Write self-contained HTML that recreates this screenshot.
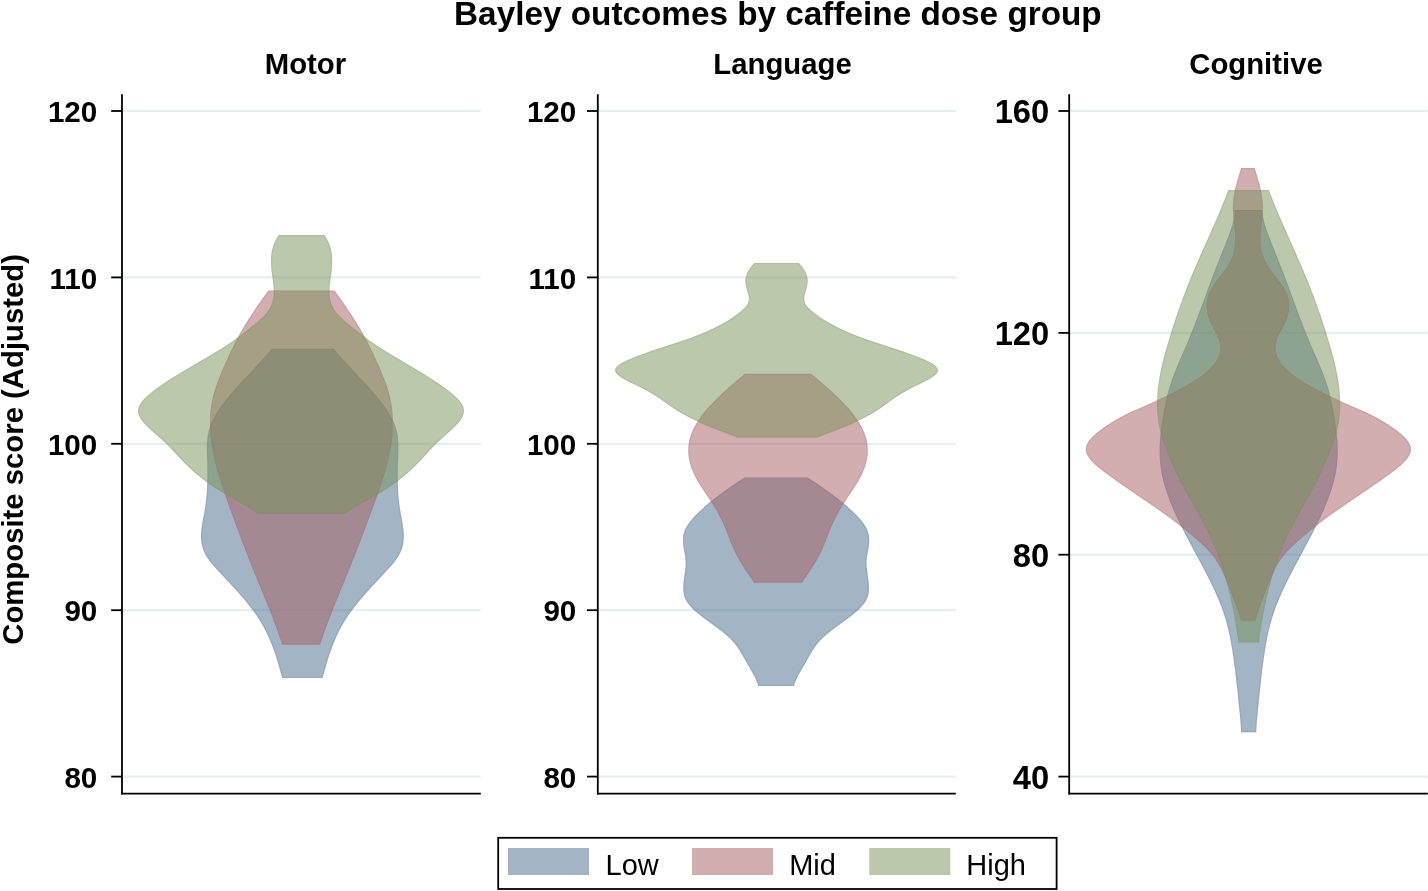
<!DOCTYPE html>
<html lang="en"><head><meta charset="utf-8"><title>Bayley outcomes by caffeine dose group</title>
<style>html,body{margin:0;padding:0;background:#fff}body{width:1428px;height:891px;overflow:hidden}svg{display:block}</style>
</head><body>
<svg width="1428" height="891" viewBox="0 0 1428 891">
<rect width="1428" height="891" fill="#fff"/>
<text x="777.9" y="25" text-anchor="middle" font-family="Liberation Sans, Arial, Helvetica, sans-serif" font-weight="bold" font-size="33.3">Bayley outcomes by caffeine dose group</text>
<text transform="translate(22.6,449.4) rotate(-90)" text-anchor="middle" font-family="Liberation Sans, Arial, Helvetica, sans-serif" font-weight="bold" font-size="29.3">Composite score (Adjusted)</text>
<line x1="122.0" y1="111.0" x2="480.8" y2="111.0" stroke="#e6eff1" stroke-width="2.2"/>
<line x1="122.0" y1="277.4" x2="480.8" y2="277.4" stroke="#e6eff1" stroke-width="2.2"/>
<line x1="122.0" y1="443.8" x2="480.8" y2="443.8" stroke="#e6eff1" stroke-width="2.2"/>
<line x1="122.0" y1="610.2" x2="480.8" y2="610.2" stroke="#e6eff1" stroke-width="2.2"/>
<line x1="122.0" y1="776.6" x2="480.8" y2="776.6" stroke="#e6eff1" stroke-width="2.2"/>
<clipPath id="k_m_low"><path d="M271.8 348.7C271.4 349.2 270.1 350.7 269.3 351.7C268.4 352.7 267.5 353.7 266.7 354.7C265.8 355.7 264.9 356.7 264.0 357.7C263.1 358.7 262.2 359.7 261.3 360.7C260.4 361.7 259.5 362.7 258.6 363.7C257.7 364.7 256.8 365.7 255.8 366.7C254.9 367.7 254.0 368.7 253.1 369.7C252.1 370.7 251.2 371.7 250.3 372.7C249.3 373.7 248.4 374.7 247.5 375.7C246.6 376.6 245.6 377.6 244.7 378.6C243.8 379.6 242.9 380.6 241.9 381.6C241.0 382.6 240.1 383.6 239.2 384.6C238.3 385.6 237.4 386.6 236.5 387.6C235.6 388.6 234.7 389.6 233.9 390.6C233.0 391.6 232.1 392.6 231.3 393.6C230.4 394.6 229.6 395.6 228.7 396.6C227.9 397.6 227.1 398.6 226.3 399.6C225.5 400.6 224.7 401.6 224.0 402.6C223.2 403.6 222.5 404.6 221.7 405.6C221.0 406.6 220.3 407.6 219.6 408.6C218.9 409.6 218.3 410.6 217.6 411.6C217.0 412.6 216.4 413.6 215.8 414.6C215.2 415.6 214.6 416.6 214.1 417.6C213.6 418.6 213.0 419.6 212.6 420.6C212.1 421.6 211.6 422.6 211.2 423.6C210.8 424.6 210.4 425.6 210.1 426.6C209.7 427.6 209.4 428.6 209.1 429.6C208.8 430.6 208.6 431.5 208.4 432.5C208.2 433.5 208.0 434.5 207.8 435.5C207.6 436.5 207.5 437.5 207.4 438.5C207.3 439.5 207.2 440.5 207.1 441.5C207.0 442.5 207.0 443.5 207.0 444.5C206.9 445.5 206.9 446.5 206.9 447.5C206.9 448.5 206.9 449.5 206.9 450.5C206.9 451.5 206.9 452.5 207.0 453.5C207.0 454.5 207.0 455.5 207.1 456.5C207.1 457.5 207.1 458.5 207.2 459.5C207.2 460.5 207.2 461.5 207.3 462.5C207.3 463.5 207.3 464.5 207.3 465.5C207.4 466.5 207.4 467.5 207.4 468.5C207.4 469.5 207.4 470.5 207.4 471.5C207.4 472.5 207.4 473.5 207.4 474.5C207.4 475.5 207.4 476.5 207.4 477.5C207.4 478.5 207.4 479.5 207.4 480.5C207.3 481.5 207.3 482.5 207.3 483.5C207.2 484.5 207.2 485.5 207.1 486.4C207.1 487.4 207.0 488.4 207.0 489.4C206.9 490.4 206.8 491.4 206.8 492.4C206.7 493.4 206.6 494.4 206.5 495.4C206.4 496.4 206.4 497.4 206.3 498.4C206.2 499.4 206.0 500.4 205.9 501.4C205.8 502.4 205.7 503.4 205.5 504.4C205.4 505.4 205.3 506.4 205.1 507.4C205.0 508.4 204.8 509.4 204.7 510.4C204.5 511.4 204.3 512.4 204.1 513.4C203.9 514.4 203.8 515.4 203.6 516.4C203.4 517.4 203.2 518.4 203.0 519.4C202.8 520.4 202.6 521.4 202.5 522.4C202.3 523.4 202.1 524.4 202.0 525.4C201.8 526.4 201.7 527.4 201.5 528.4C201.4 529.4 201.3 530.4 201.2 531.4C201.1 532.4 201.1 533.4 201.1 534.4C201.0 535.4 201.0 536.4 201.0 537.4C201.1 538.4 201.1 539.4 201.2 540.4C201.3 541.3 201.4 542.3 201.6 543.3C201.7 544.3 202.0 545.3 202.2 546.3C202.5 547.3 202.8 548.3 203.1 549.3C203.5 550.3 203.8 551.3 204.3 552.3C204.8 553.3 205.3 554.3 205.8 555.3C206.4 556.3 207.0 557.3 207.7 558.3C208.4 559.3 209.1 560.3 209.9 561.3C210.6 562.3 211.4 563.3 212.3 564.3C213.1 565.3 214.0 566.3 214.9 567.3C215.8 568.3 216.7 569.3 217.6 570.3C218.5 571.3 219.4 572.3 220.4 573.3C221.3 574.3 222.2 575.3 223.2 576.3C224.1 577.3 225.1 578.3 226.0 579.3C226.9 580.3 227.9 581.3 228.8 582.3C229.8 583.3 230.7 584.3 231.6 585.3C232.5 586.3 233.5 587.3 234.4 588.3C235.3 589.3 236.2 590.3 237.1 591.3C238.0 592.3 238.9 593.3 239.7 594.3C240.6 595.3 241.5 596.2 242.3 597.2C243.2 598.2 244.0 599.2 244.9 600.2C245.7 601.2 246.5 602.2 247.3 603.2C248.1 604.2 248.9 605.2 249.7 606.2C250.5 607.2 251.3 608.2 252.0 609.2C252.8 610.2 253.5 611.2 254.3 612.2C255.0 613.2 255.7 614.2 256.4 615.2C257.1 616.2 257.7 617.2 258.4 618.2C259.0 619.2 259.7 620.2 260.3 621.2C260.9 622.2 261.5 623.2 262.1 624.2C262.6 625.2 263.2 626.2 263.7 627.2C264.3 628.2 264.8 629.2 265.3 630.2C265.8 631.2 266.3 632.2 266.8 633.2C267.3 634.2 267.8 635.2 268.2 636.2C268.7 637.2 269.1 638.2 269.5 639.2C270.0 640.2 270.4 641.2 270.8 642.2C271.2 643.2 271.6 644.2 272.0 645.2C272.4 646.2 272.7 647.2 273.1 648.2C273.5 649.2 273.8 650.2 274.2 651.1C274.5 652.1 274.9 653.1 275.2 654.1C275.5 655.1 275.8 656.1 276.2 657.1C276.5 658.1 276.8 659.1 277.1 660.1C277.4 661.1 277.7 662.1 278.0 663.1C278.3 664.1 278.6 665.1 278.9 666.1C279.2 667.1 279.4 668.1 279.7 669.1C280.0 670.1 280.3 671.1 280.6 672.1C280.8 673.1 281.1 674.1 281.4 675.1C281.7 676.1 282.1 677.6 282.2 678.1L322.6 678.1C322.7 677.6 323.1 676.1 323.4 675.1C323.7 674.1 324.0 673.1 324.2 672.1C324.5 671.1 324.8 670.1 325.1 669.1C325.4 668.1 325.6 667.1 325.9 666.1C326.2 665.1 326.5 664.1 326.8 663.1C327.1 662.1 327.4 661.1 327.7 660.1C328.0 659.1 328.3 658.1 328.6 657.1C329.0 656.1 329.3 655.1 329.6 654.1C329.9 653.1 330.3 652.1 330.6 651.1C331.0 650.2 331.3 649.2 331.7 648.2C332.1 647.2 332.4 646.2 332.8 645.2C333.2 644.2 333.6 643.2 334.0 642.2C334.4 641.2 334.8 640.2 335.3 639.2C335.7 638.2 336.1 637.2 336.6 636.2C337.0 635.2 337.5 634.2 338.0 633.2C338.5 632.2 339.0 631.2 339.5 630.2C340.0 629.2 340.5 628.2 341.1 627.2C341.6 626.2 342.2 625.2 342.7 624.2C343.3 623.2 343.9 622.2 344.5 621.2C345.1 620.2 345.8 619.2 346.4 618.2C347.1 617.2 347.7 616.2 348.4 615.2C349.1 614.2 349.8 613.2 350.5 612.2C351.3 611.2 352.0 610.2 352.8 609.2C353.5 608.2 354.3 607.2 355.1 606.2C355.9 605.2 356.7 604.2 357.5 603.2C358.3 602.2 359.1 601.2 359.9 600.2C360.8 599.2 361.6 598.2 362.5 597.2C363.3 596.2 364.2 595.3 365.1 594.3C365.9 593.3 366.8 592.3 367.7 591.3C368.6 590.3 369.5 589.3 370.4 588.3C371.3 587.3 372.3 586.3 373.2 585.3C374.1 584.3 375.0 583.3 376.0 582.3C376.9 581.3 377.9 580.3 378.8 579.3C379.7 578.3 380.7 577.3 381.6 576.3C382.6 575.3 383.5 574.3 384.4 573.3C385.4 572.3 386.3 571.3 387.2 570.3C388.1 569.3 389.0 568.3 389.9 567.3C390.8 566.3 391.7 565.3 392.5 564.3C393.4 563.3 394.2 562.3 394.9 561.3C395.7 560.3 396.4 559.3 397.1 558.3C397.8 557.3 398.4 556.3 399.0 555.3C399.5 554.3 400.0 553.3 400.5 552.3C401.0 551.3 401.3 550.3 401.7 549.3C402.0 548.3 402.3 547.3 402.6 546.3C402.8 545.3 403.1 544.3 403.2 543.3C403.4 542.3 403.5 541.3 403.6 540.4C403.7 539.4 403.7 538.4 403.8 537.4C403.8 536.4 403.8 535.4 403.8 534.4C403.7 533.4 403.7 532.4 403.6 531.4C403.5 530.4 403.4 529.4 403.3 528.4C403.1 527.4 403.0 526.4 402.9 525.4C402.7 524.4 402.5 523.4 402.4 522.4C402.2 521.4 402.0 520.4 401.8 519.4C401.7 518.4 401.5 517.4 401.3 516.4C401.1 515.4 400.9 514.4 400.7 513.4C400.6 512.4 400.4 511.4 400.2 510.4C400.1 509.4 399.9 508.4 399.8 507.4C399.6 506.4 399.5 505.4 399.4 504.4C399.2 503.4 399.1 502.4 399.0 501.4C398.9 500.4 398.8 499.4 398.7 498.4C398.6 497.4 398.5 496.4 398.4 495.4C398.4 494.4 398.3 493.4 398.2 492.4C398.1 491.4 398.1 490.4 398.0 489.4C398.0 488.4 397.9 487.4 397.9 486.4C397.9 485.5 397.8 484.5 397.8 483.5C397.8 482.5 397.7 481.5 397.7 480.5C397.7 479.5 397.7 478.5 397.7 477.5C397.7 476.5 397.7 475.5 397.7 474.5C397.7 473.5 397.7 472.5 397.7 471.5C397.7 470.5 397.7 469.5 397.8 468.5C397.8 467.5 397.8 466.5 397.8 465.5C397.9 464.5 397.9 463.5 397.9 462.5C398.0 461.5 398.0 460.5 398.1 459.5C398.1 458.5 398.2 457.5 398.2 456.5C398.2 455.5 398.3 454.5 398.3 453.5C398.3 452.5 398.4 451.5 398.4 450.5C398.4 449.5 398.4 448.5 398.4 447.5C398.4 446.5 398.4 445.5 398.4 444.5C398.3 443.5 398.3 442.5 398.2 441.5C398.2 440.5 398.1 439.5 398.0 438.5C397.9 437.5 397.7 436.5 397.6 435.5C397.4 434.5 397.2 433.5 397.0 432.5C396.8 431.5 396.6 430.6 396.3 429.6C396.0 428.6 395.7 427.6 395.4 426.6C395.0 425.6 394.6 424.6 394.2 423.6C393.8 422.6 393.4 421.6 392.9 420.6C392.4 419.6 391.9 418.6 391.4 417.6C390.8 416.6 390.3 415.6 389.7 414.6C389.1 413.6 388.5 412.6 387.9 411.6C387.2 410.6 386.6 409.6 385.9 408.6C385.2 407.6 384.5 406.6 383.8 405.6C383.0 404.6 382.3 403.6 381.5 402.6C380.8 401.6 380.0 400.6 379.2 399.6C378.4 398.6 377.6 397.6 376.8 396.6C375.9 395.6 375.1 394.6 374.2 393.6C373.4 392.6 372.5 391.6 371.6 390.6C370.8 389.6 369.9 388.6 369.0 387.6C368.1 386.6 367.2 385.6 366.3 384.6C365.4 383.6 364.5 382.6 363.6 381.6C362.6 380.6 361.7 379.6 360.8 378.6C359.9 377.6 358.9 376.6 358.0 375.7C357.1 374.7 356.2 373.7 355.2 372.7C354.3 371.7 353.4 370.7 352.4 369.7C351.5 368.7 350.6 367.7 349.7 366.7C348.7 365.7 347.8 364.7 346.9 363.7C346.0 362.7 345.1 361.7 344.2 360.7C343.3 359.7 342.4 358.7 341.5 357.7C340.6 356.7 339.7 355.7 338.8 354.7C338.0 353.7 337.1 352.7 336.2 351.7C335.4 350.7 334.1 349.2 333.7 348.7Z"/></clipPath>
<path d="M271.8 348.7C271.4 349.2 270.1 350.7 269.3 351.7C268.4 352.7 267.5 353.7 266.7 354.7C265.8 355.7 264.9 356.7 264.0 357.7C263.1 358.7 262.2 359.7 261.3 360.7C260.4 361.7 259.5 362.7 258.6 363.7C257.7 364.7 256.8 365.7 255.8 366.7C254.9 367.7 254.0 368.7 253.1 369.7C252.1 370.7 251.2 371.7 250.3 372.7C249.3 373.7 248.4 374.7 247.5 375.7C246.6 376.6 245.6 377.6 244.7 378.6C243.8 379.6 242.9 380.6 241.9 381.6C241.0 382.6 240.1 383.6 239.2 384.6C238.3 385.6 237.4 386.6 236.5 387.6C235.6 388.6 234.7 389.6 233.9 390.6C233.0 391.6 232.1 392.6 231.3 393.6C230.4 394.6 229.6 395.6 228.7 396.6C227.9 397.6 227.1 398.6 226.3 399.6C225.5 400.6 224.7 401.6 224.0 402.6C223.2 403.6 222.5 404.6 221.7 405.6C221.0 406.6 220.3 407.6 219.6 408.6C218.9 409.6 218.3 410.6 217.6 411.6C217.0 412.6 216.4 413.6 215.8 414.6C215.2 415.6 214.6 416.6 214.1 417.6C213.6 418.6 213.0 419.6 212.6 420.6C212.1 421.6 211.6 422.6 211.2 423.6C210.8 424.6 210.4 425.6 210.1 426.6C209.7 427.6 209.4 428.6 209.1 429.6C208.8 430.6 208.6 431.5 208.4 432.5C208.2 433.5 208.0 434.5 207.8 435.5C207.6 436.5 207.5 437.5 207.4 438.5C207.3 439.5 207.2 440.5 207.1 441.5C207.0 442.5 207.0 443.5 207.0 444.5C206.9 445.5 206.9 446.5 206.9 447.5C206.9 448.5 206.9 449.5 206.9 450.5C206.9 451.5 206.9 452.5 207.0 453.5C207.0 454.5 207.0 455.5 207.1 456.5C207.1 457.5 207.1 458.5 207.2 459.5C207.2 460.5 207.2 461.5 207.3 462.5C207.3 463.5 207.3 464.5 207.3 465.5C207.4 466.5 207.4 467.5 207.4 468.5C207.4 469.5 207.4 470.5 207.4 471.5C207.4 472.5 207.4 473.5 207.4 474.5C207.4 475.5 207.4 476.5 207.4 477.5C207.4 478.5 207.4 479.5 207.4 480.5C207.3 481.5 207.3 482.5 207.3 483.5C207.2 484.5 207.2 485.5 207.1 486.4C207.1 487.4 207.0 488.4 207.0 489.4C206.9 490.4 206.8 491.4 206.8 492.4C206.7 493.4 206.6 494.4 206.5 495.4C206.4 496.4 206.4 497.4 206.3 498.4C206.2 499.4 206.0 500.4 205.9 501.4C205.8 502.4 205.7 503.4 205.5 504.4C205.4 505.4 205.3 506.4 205.1 507.4C205.0 508.4 204.8 509.4 204.7 510.4C204.5 511.4 204.3 512.4 204.1 513.4C203.9 514.4 203.8 515.4 203.6 516.4C203.4 517.4 203.2 518.4 203.0 519.4C202.8 520.4 202.6 521.4 202.5 522.4C202.3 523.4 202.1 524.4 202.0 525.4C201.8 526.4 201.7 527.4 201.5 528.4C201.4 529.4 201.3 530.4 201.2 531.4C201.1 532.4 201.1 533.4 201.1 534.4C201.0 535.4 201.0 536.4 201.0 537.4C201.1 538.4 201.1 539.4 201.2 540.4C201.3 541.3 201.4 542.3 201.6 543.3C201.7 544.3 202.0 545.3 202.2 546.3C202.5 547.3 202.8 548.3 203.1 549.3C203.5 550.3 203.8 551.3 204.3 552.3C204.8 553.3 205.3 554.3 205.8 555.3C206.4 556.3 207.0 557.3 207.7 558.3C208.4 559.3 209.1 560.3 209.9 561.3C210.6 562.3 211.4 563.3 212.3 564.3C213.1 565.3 214.0 566.3 214.9 567.3C215.8 568.3 216.7 569.3 217.6 570.3C218.5 571.3 219.4 572.3 220.4 573.3C221.3 574.3 222.2 575.3 223.2 576.3C224.1 577.3 225.1 578.3 226.0 579.3C226.9 580.3 227.9 581.3 228.8 582.3C229.8 583.3 230.7 584.3 231.6 585.3C232.5 586.3 233.5 587.3 234.4 588.3C235.3 589.3 236.2 590.3 237.1 591.3C238.0 592.3 238.9 593.3 239.7 594.3C240.6 595.3 241.5 596.2 242.3 597.2C243.2 598.2 244.0 599.2 244.9 600.2C245.7 601.2 246.5 602.2 247.3 603.2C248.1 604.2 248.9 605.2 249.7 606.2C250.5 607.2 251.3 608.2 252.0 609.2C252.8 610.2 253.5 611.2 254.3 612.2C255.0 613.2 255.7 614.2 256.4 615.2C257.1 616.2 257.7 617.2 258.4 618.2C259.0 619.2 259.7 620.2 260.3 621.2C260.9 622.2 261.5 623.2 262.1 624.2C262.6 625.2 263.2 626.2 263.7 627.2C264.3 628.2 264.8 629.2 265.3 630.2C265.8 631.2 266.3 632.2 266.8 633.2C267.3 634.2 267.8 635.2 268.2 636.2C268.7 637.2 269.1 638.2 269.5 639.2C270.0 640.2 270.4 641.2 270.8 642.2C271.2 643.2 271.6 644.2 272.0 645.2C272.4 646.2 272.7 647.2 273.1 648.2C273.5 649.2 273.8 650.2 274.2 651.1C274.5 652.1 274.9 653.1 275.2 654.1C275.5 655.1 275.8 656.1 276.2 657.1C276.5 658.1 276.8 659.1 277.1 660.1C277.4 661.1 277.7 662.1 278.0 663.1C278.3 664.1 278.6 665.1 278.9 666.1C279.2 667.1 279.4 668.1 279.7 669.1C280.0 670.1 280.3 671.1 280.6 672.1C280.8 673.1 281.1 674.1 281.4 675.1C281.7 676.1 282.1 677.6 282.2 678.1L322.6 678.1C322.7 677.6 323.1 676.1 323.4 675.1C323.7 674.1 324.0 673.1 324.2 672.1C324.5 671.1 324.8 670.1 325.1 669.1C325.4 668.1 325.6 667.1 325.9 666.1C326.2 665.1 326.5 664.1 326.8 663.1C327.1 662.1 327.4 661.1 327.7 660.1C328.0 659.1 328.3 658.1 328.6 657.1C329.0 656.1 329.3 655.1 329.6 654.1C329.9 653.1 330.3 652.1 330.6 651.1C331.0 650.2 331.3 649.2 331.7 648.2C332.1 647.2 332.4 646.2 332.8 645.2C333.2 644.2 333.6 643.2 334.0 642.2C334.4 641.2 334.8 640.2 335.3 639.2C335.7 638.2 336.1 637.2 336.6 636.2C337.0 635.2 337.5 634.2 338.0 633.2C338.5 632.2 339.0 631.2 339.5 630.2C340.0 629.2 340.5 628.2 341.1 627.2C341.6 626.2 342.2 625.2 342.7 624.2C343.3 623.2 343.9 622.2 344.5 621.2C345.1 620.2 345.8 619.2 346.4 618.2C347.1 617.2 347.7 616.2 348.4 615.2C349.1 614.2 349.8 613.2 350.5 612.2C351.3 611.2 352.0 610.2 352.8 609.2C353.5 608.2 354.3 607.2 355.1 606.2C355.9 605.2 356.7 604.2 357.5 603.2C358.3 602.2 359.1 601.2 359.9 600.2C360.8 599.2 361.6 598.2 362.5 597.2C363.3 596.2 364.2 595.3 365.1 594.3C365.9 593.3 366.8 592.3 367.7 591.3C368.6 590.3 369.5 589.3 370.4 588.3C371.3 587.3 372.3 586.3 373.2 585.3C374.1 584.3 375.0 583.3 376.0 582.3C376.9 581.3 377.9 580.3 378.8 579.3C379.7 578.3 380.7 577.3 381.6 576.3C382.6 575.3 383.5 574.3 384.4 573.3C385.4 572.3 386.3 571.3 387.2 570.3C388.1 569.3 389.0 568.3 389.9 567.3C390.8 566.3 391.7 565.3 392.5 564.3C393.4 563.3 394.2 562.3 394.9 561.3C395.7 560.3 396.4 559.3 397.1 558.3C397.8 557.3 398.4 556.3 399.0 555.3C399.5 554.3 400.0 553.3 400.5 552.3C401.0 551.3 401.3 550.3 401.7 549.3C402.0 548.3 402.3 547.3 402.6 546.3C402.8 545.3 403.1 544.3 403.2 543.3C403.4 542.3 403.5 541.3 403.6 540.4C403.7 539.4 403.7 538.4 403.8 537.4C403.8 536.4 403.8 535.4 403.8 534.4C403.7 533.4 403.7 532.4 403.6 531.4C403.5 530.4 403.4 529.4 403.3 528.4C403.1 527.4 403.0 526.4 402.9 525.4C402.7 524.4 402.5 523.4 402.4 522.4C402.2 521.4 402.0 520.4 401.8 519.4C401.7 518.4 401.5 517.4 401.3 516.4C401.1 515.4 400.9 514.4 400.7 513.4C400.6 512.4 400.4 511.4 400.2 510.4C400.1 509.4 399.9 508.4 399.8 507.4C399.6 506.4 399.5 505.4 399.4 504.4C399.2 503.4 399.1 502.4 399.0 501.4C398.9 500.4 398.8 499.4 398.7 498.4C398.6 497.4 398.5 496.4 398.4 495.4C398.4 494.4 398.3 493.4 398.2 492.4C398.1 491.4 398.1 490.4 398.0 489.4C398.0 488.4 397.9 487.4 397.9 486.4C397.9 485.5 397.8 484.5 397.8 483.5C397.8 482.5 397.7 481.5 397.7 480.5C397.7 479.5 397.7 478.5 397.7 477.5C397.7 476.5 397.7 475.5 397.7 474.5C397.7 473.5 397.7 472.5 397.7 471.5C397.7 470.5 397.7 469.5 397.8 468.5C397.8 467.5 397.8 466.5 397.8 465.5C397.9 464.5 397.9 463.5 397.9 462.5C398.0 461.5 398.0 460.5 398.1 459.5C398.1 458.5 398.2 457.5 398.2 456.5C398.2 455.5 398.3 454.5 398.3 453.5C398.3 452.5 398.4 451.5 398.4 450.5C398.4 449.5 398.4 448.5 398.4 447.5C398.4 446.5 398.4 445.5 398.4 444.5C398.3 443.5 398.3 442.5 398.2 441.5C398.2 440.5 398.1 439.5 398.0 438.5C397.9 437.5 397.7 436.5 397.6 435.5C397.4 434.5 397.2 433.5 397.0 432.5C396.8 431.5 396.6 430.6 396.3 429.6C396.0 428.6 395.7 427.6 395.4 426.6C395.0 425.6 394.6 424.6 394.2 423.6C393.8 422.6 393.4 421.6 392.9 420.6C392.4 419.6 391.9 418.6 391.4 417.6C390.8 416.6 390.3 415.6 389.7 414.6C389.1 413.6 388.5 412.6 387.9 411.6C387.2 410.6 386.6 409.6 385.9 408.6C385.2 407.6 384.5 406.6 383.8 405.6C383.0 404.6 382.3 403.6 381.5 402.6C380.8 401.6 380.0 400.6 379.2 399.6C378.4 398.6 377.6 397.6 376.8 396.6C375.9 395.6 375.1 394.6 374.2 393.6C373.4 392.6 372.5 391.6 371.6 390.6C370.8 389.6 369.9 388.6 369.0 387.6C368.1 386.6 367.2 385.6 366.3 384.6C365.4 383.6 364.5 382.6 363.6 381.6C362.6 380.6 361.7 379.6 360.8 378.6C359.9 377.6 358.9 376.6 358.0 375.7C357.1 374.7 356.2 373.7 355.2 372.7C354.3 371.7 353.4 370.7 352.4 369.7C351.5 368.7 350.6 367.7 349.7 366.7C348.7 365.7 347.8 364.7 346.9 363.7C346.0 362.7 345.1 361.7 344.2 360.7C343.3 359.7 342.4 358.7 341.5 357.7C340.6 356.7 339.7 355.7 338.8 354.7C338.0 353.7 337.1 352.7 336.2 351.7C335.4 350.7 334.1 349.2 333.7 348.7Z" fill="#486c8c" fill-opacity="0.5"/>
<path d="M271.8 348.7C271.4 349.2 270.1 350.7 269.3 351.7C268.4 352.7 267.5 353.7 266.7 354.7C265.8 355.7 264.9 356.7 264.0 357.7C263.1 358.7 262.2 359.7 261.3 360.7C260.4 361.7 259.5 362.7 258.6 363.7C257.7 364.7 256.8 365.7 255.8 366.7C254.9 367.7 254.0 368.7 253.1 369.7C252.1 370.7 251.2 371.7 250.3 372.7C249.3 373.7 248.4 374.7 247.5 375.7C246.6 376.6 245.6 377.6 244.7 378.6C243.8 379.6 242.9 380.6 241.9 381.6C241.0 382.6 240.1 383.6 239.2 384.6C238.3 385.6 237.4 386.6 236.5 387.6C235.6 388.6 234.7 389.6 233.9 390.6C233.0 391.6 232.1 392.6 231.3 393.6C230.4 394.6 229.6 395.6 228.7 396.6C227.9 397.6 227.1 398.6 226.3 399.6C225.5 400.6 224.7 401.6 224.0 402.6C223.2 403.6 222.5 404.6 221.7 405.6C221.0 406.6 220.3 407.6 219.6 408.6C218.9 409.6 218.3 410.6 217.6 411.6C217.0 412.6 216.4 413.6 215.8 414.6C215.2 415.6 214.6 416.6 214.1 417.6C213.6 418.6 213.0 419.6 212.6 420.6C212.1 421.6 211.6 422.6 211.2 423.6C210.8 424.6 210.4 425.6 210.1 426.6C209.7 427.6 209.4 428.6 209.1 429.6C208.8 430.6 208.6 431.5 208.4 432.5C208.2 433.5 208.0 434.5 207.8 435.5C207.6 436.5 207.5 437.5 207.4 438.5C207.3 439.5 207.2 440.5 207.1 441.5C207.0 442.5 207.0 443.5 207.0 444.5C206.9 445.5 206.9 446.5 206.9 447.5C206.9 448.5 206.9 449.5 206.9 450.5C206.9 451.5 206.9 452.5 207.0 453.5C207.0 454.5 207.0 455.5 207.1 456.5C207.1 457.5 207.1 458.5 207.2 459.5C207.2 460.5 207.2 461.5 207.3 462.5C207.3 463.5 207.3 464.5 207.3 465.5C207.4 466.5 207.4 467.5 207.4 468.5C207.4 469.5 207.4 470.5 207.4 471.5C207.4 472.5 207.4 473.5 207.4 474.5C207.4 475.5 207.4 476.5 207.4 477.5C207.4 478.5 207.4 479.5 207.4 480.5C207.3 481.5 207.3 482.5 207.3 483.5C207.2 484.5 207.2 485.5 207.1 486.4C207.1 487.4 207.0 488.4 207.0 489.4C206.9 490.4 206.8 491.4 206.8 492.4C206.7 493.4 206.6 494.4 206.5 495.4C206.4 496.4 206.4 497.4 206.3 498.4C206.2 499.4 206.0 500.4 205.9 501.4C205.8 502.4 205.7 503.4 205.5 504.4C205.4 505.4 205.3 506.4 205.1 507.4C205.0 508.4 204.8 509.4 204.7 510.4C204.5 511.4 204.3 512.4 204.1 513.4C203.9 514.4 203.8 515.4 203.6 516.4C203.4 517.4 203.2 518.4 203.0 519.4C202.8 520.4 202.6 521.4 202.5 522.4C202.3 523.4 202.1 524.4 202.0 525.4C201.8 526.4 201.7 527.4 201.5 528.4C201.4 529.4 201.3 530.4 201.2 531.4C201.1 532.4 201.1 533.4 201.1 534.4C201.0 535.4 201.0 536.4 201.0 537.4C201.1 538.4 201.1 539.4 201.2 540.4C201.3 541.3 201.4 542.3 201.6 543.3C201.7 544.3 202.0 545.3 202.2 546.3C202.5 547.3 202.8 548.3 203.1 549.3C203.5 550.3 203.8 551.3 204.3 552.3C204.8 553.3 205.3 554.3 205.8 555.3C206.4 556.3 207.0 557.3 207.7 558.3C208.4 559.3 209.1 560.3 209.9 561.3C210.6 562.3 211.4 563.3 212.3 564.3C213.1 565.3 214.0 566.3 214.9 567.3C215.8 568.3 216.7 569.3 217.6 570.3C218.5 571.3 219.4 572.3 220.4 573.3C221.3 574.3 222.2 575.3 223.2 576.3C224.1 577.3 225.1 578.3 226.0 579.3C226.9 580.3 227.9 581.3 228.8 582.3C229.8 583.3 230.7 584.3 231.6 585.3C232.5 586.3 233.5 587.3 234.4 588.3C235.3 589.3 236.2 590.3 237.1 591.3C238.0 592.3 238.9 593.3 239.7 594.3C240.6 595.3 241.5 596.2 242.3 597.2C243.2 598.2 244.0 599.2 244.9 600.2C245.7 601.2 246.5 602.2 247.3 603.2C248.1 604.2 248.9 605.2 249.7 606.2C250.5 607.2 251.3 608.2 252.0 609.2C252.8 610.2 253.5 611.2 254.3 612.2C255.0 613.2 255.7 614.2 256.4 615.2C257.1 616.2 257.7 617.2 258.4 618.2C259.0 619.2 259.7 620.2 260.3 621.2C260.9 622.2 261.5 623.2 262.1 624.2C262.6 625.2 263.2 626.2 263.7 627.2C264.3 628.2 264.8 629.2 265.3 630.2C265.8 631.2 266.3 632.2 266.8 633.2C267.3 634.2 267.8 635.2 268.2 636.2C268.7 637.2 269.1 638.2 269.5 639.2C270.0 640.2 270.4 641.2 270.8 642.2C271.2 643.2 271.6 644.2 272.0 645.2C272.4 646.2 272.7 647.2 273.1 648.2C273.5 649.2 273.8 650.2 274.2 651.1C274.5 652.1 274.9 653.1 275.2 654.1C275.5 655.1 275.8 656.1 276.2 657.1C276.5 658.1 276.8 659.1 277.1 660.1C277.4 661.1 277.7 662.1 278.0 663.1C278.3 664.1 278.6 665.1 278.9 666.1C279.2 667.1 279.4 668.1 279.7 669.1C280.0 670.1 280.3 671.1 280.6 672.1C280.8 673.1 281.1 674.1 281.4 675.1C281.7 676.1 282.1 677.6 282.2 678.1L322.6 678.1C322.7 677.6 323.1 676.1 323.4 675.1C323.7 674.1 324.0 673.1 324.2 672.1C324.5 671.1 324.8 670.1 325.1 669.1C325.4 668.1 325.6 667.1 325.9 666.1C326.2 665.1 326.5 664.1 326.8 663.1C327.1 662.1 327.4 661.1 327.7 660.1C328.0 659.1 328.3 658.1 328.6 657.1C329.0 656.1 329.3 655.1 329.6 654.1C329.9 653.1 330.3 652.1 330.6 651.1C331.0 650.2 331.3 649.2 331.7 648.2C332.1 647.2 332.4 646.2 332.8 645.2C333.2 644.2 333.6 643.2 334.0 642.2C334.4 641.2 334.8 640.2 335.3 639.2C335.7 638.2 336.1 637.2 336.6 636.2C337.0 635.2 337.5 634.2 338.0 633.2C338.5 632.2 339.0 631.2 339.5 630.2C340.0 629.2 340.5 628.2 341.1 627.2C341.6 626.2 342.2 625.2 342.7 624.2C343.3 623.2 343.9 622.2 344.5 621.2C345.1 620.2 345.8 619.2 346.4 618.2C347.1 617.2 347.7 616.2 348.4 615.2C349.1 614.2 349.8 613.2 350.5 612.2C351.3 611.2 352.0 610.2 352.8 609.2C353.5 608.2 354.3 607.2 355.1 606.2C355.9 605.2 356.7 604.2 357.5 603.2C358.3 602.2 359.1 601.2 359.9 600.2C360.8 599.2 361.6 598.2 362.5 597.2C363.3 596.2 364.2 595.3 365.1 594.3C365.9 593.3 366.8 592.3 367.7 591.3C368.6 590.3 369.5 589.3 370.4 588.3C371.3 587.3 372.3 586.3 373.2 585.3C374.1 584.3 375.0 583.3 376.0 582.3C376.9 581.3 377.9 580.3 378.8 579.3C379.7 578.3 380.7 577.3 381.6 576.3C382.6 575.3 383.5 574.3 384.4 573.3C385.4 572.3 386.3 571.3 387.2 570.3C388.1 569.3 389.0 568.3 389.9 567.3C390.8 566.3 391.7 565.3 392.5 564.3C393.4 563.3 394.2 562.3 394.9 561.3C395.7 560.3 396.4 559.3 397.1 558.3C397.8 557.3 398.4 556.3 399.0 555.3C399.5 554.3 400.0 553.3 400.5 552.3C401.0 551.3 401.3 550.3 401.7 549.3C402.0 548.3 402.3 547.3 402.6 546.3C402.8 545.3 403.1 544.3 403.2 543.3C403.4 542.3 403.5 541.3 403.6 540.4C403.7 539.4 403.7 538.4 403.8 537.4C403.8 536.4 403.8 535.4 403.8 534.4C403.7 533.4 403.7 532.4 403.6 531.4C403.5 530.4 403.4 529.4 403.3 528.4C403.1 527.4 403.0 526.4 402.9 525.4C402.7 524.4 402.5 523.4 402.4 522.4C402.2 521.4 402.0 520.4 401.8 519.4C401.7 518.4 401.5 517.4 401.3 516.4C401.1 515.4 400.9 514.4 400.7 513.4C400.6 512.4 400.4 511.4 400.2 510.4C400.1 509.4 399.9 508.4 399.8 507.4C399.6 506.4 399.5 505.4 399.4 504.4C399.2 503.4 399.1 502.4 399.0 501.4C398.9 500.4 398.8 499.4 398.7 498.4C398.6 497.4 398.5 496.4 398.4 495.4C398.4 494.4 398.3 493.4 398.2 492.4C398.1 491.4 398.1 490.4 398.0 489.4C398.0 488.4 397.9 487.4 397.9 486.4C397.9 485.5 397.8 484.5 397.8 483.5C397.8 482.5 397.7 481.5 397.7 480.5C397.7 479.5 397.7 478.5 397.7 477.5C397.7 476.5 397.7 475.5 397.7 474.5C397.7 473.5 397.7 472.5 397.7 471.5C397.7 470.5 397.7 469.5 397.8 468.5C397.8 467.5 397.8 466.5 397.8 465.5C397.9 464.5 397.9 463.5 397.9 462.5C398.0 461.5 398.0 460.5 398.1 459.5C398.1 458.5 398.2 457.5 398.2 456.5C398.2 455.5 398.3 454.5 398.3 453.5C398.3 452.5 398.4 451.5 398.4 450.5C398.4 449.5 398.4 448.5 398.4 447.5C398.4 446.5 398.4 445.5 398.4 444.5C398.3 443.5 398.3 442.5 398.2 441.5C398.2 440.5 398.1 439.5 398.0 438.5C397.9 437.5 397.7 436.5 397.6 435.5C397.4 434.5 397.2 433.5 397.0 432.5C396.8 431.5 396.6 430.6 396.3 429.6C396.0 428.6 395.7 427.6 395.4 426.6C395.0 425.6 394.6 424.6 394.2 423.6C393.8 422.6 393.4 421.6 392.9 420.6C392.4 419.6 391.9 418.6 391.4 417.6C390.8 416.6 390.3 415.6 389.7 414.6C389.1 413.6 388.5 412.6 387.9 411.6C387.2 410.6 386.6 409.6 385.9 408.6C385.2 407.6 384.5 406.6 383.8 405.6C383.0 404.6 382.3 403.6 381.5 402.6C380.8 401.6 380.0 400.6 379.2 399.6C378.4 398.6 377.6 397.6 376.8 396.6C375.9 395.6 375.1 394.6 374.2 393.6C373.4 392.6 372.5 391.6 371.6 390.6C370.8 389.6 369.9 388.6 369.0 387.6C368.1 386.6 367.2 385.6 366.3 384.6C365.4 383.6 364.5 382.6 363.6 381.6C362.6 380.6 361.7 379.6 360.8 378.6C359.9 377.6 358.9 376.6 358.0 375.7C357.1 374.7 356.2 373.7 355.2 372.7C354.3 371.7 353.4 370.7 352.4 369.7C351.5 368.7 350.6 367.7 349.7 366.7C348.7 365.7 347.8 364.7 346.9 363.7C346.0 362.7 345.1 361.7 344.2 360.7C343.3 359.7 342.4 358.7 341.5 357.7C340.6 356.7 339.7 355.7 338.8 354.7C338.0 353.7 337.1 352.7 336.2 351.7C335.4 350.7 334.1 349.2 333.7 348.7Z" fill="none" stroke="#486c8c" stroke-opacity="0.16" stroke-width="2.4" clip-path="url(#k_m_low)"/>
<clipPath id="k_m_mid"><path d="M268.3 290.5C268.0 291.0 266.9 292.5 266.2 293.5C265.4 294.5 264.7 295.5 264.0 296.5C263.3 297.5 262.6 298.5 261.9 299.5C261.2 300.5 260.5 301.5 259.8 302.5C259.1 303.5 258.4 304.5 257.7 305.5C257.0 306.5 256.3 307.5 255.6 308.5C255.0 309.5 254.3 310.5 253.6 311.5C253.0 312.5 252.3 313.5 251.6 314.5C251.0 315.5 250.3 316.5 249.7 317.5C249.1 318.5 248.4 319.5 247.8 320.5C247.2 321.5 246.6 322.5 245.9 323.5C245.3 324.5 244.7 325.5 244.1 326.5C243.5 327.5 242.9 328.5 242.3 329.5C241.8 330.5 241.2 331.5 240.6 332.5C240.0 333.5 239.5 334.5 238.9 335.5C238.4 336.5 237.8 337.5 237.3 338.5C236.7 339.5 236.2 340.5 235.7 341.5C235.2 342.5 234.7 343.5 234.2 344.5C233.7 345.5 233.2 346.5 232.7 347.5C232.2 348.5 231.7 349.5 231.2 350.5C230.7 351.5 230.3 352.5 229.8 353.5C229.3 354.5 228.8 355.5 228.4 356.5C227.9 357.5 227.5 358.5 227.0 359.5C226.6 360.5 226.1 361.5 225.7 362.5C225.2 363.5 224.8 364.5 224.3 365.5C223.9 366.5 223.4 367.5 223.0 368.5C222.6 369.5 222.1 370.5 221.7 371.5C221.3 372.5 220.9 373.5 220.5 374.5C220.1 375.5 219.7 376.5 219.3 377.5C218.9 378.5 218.5 379.6 218.1 380.6C217.7 381.6 217.3 382.6 217.0 383.6C216.6 384.6 216.3 385.6 215.9 386.6C215.6 387.6 215.3 388.6 215.0 389.6C214.7 390.6 214.4 391.6 214.1 392.6C213.8 393.6 213.5 394.6 213.3 395.6C213.0 396.6 212.8 397.6 212.6 398.6C212.4 399.6 212.2 400.6 212.0 401.6C211.8 402.6 211.6 403.6 211.4 404.6C211.3 405.6 211.1 406.6 211.0 407.6C210.8 408.6 210.7 409.6 210.6 410.6C210.5 411.6 210.4 412.6 210.3 413.6C210.3 414.6 210.2 415.6 210.1 416.6C210.1 417.6 210.0 418.6 210.0 419.6C210.0 420.6 210.0 421.6 210.0 422.6C210.0 423.6 210.0 424.6 210.0 425.6C210.0 426.6 210.0 427.6 210.1 428.6C210.1 429.6 210.2 430.6 210.2 431.6C210.3 432.6 210.4 433.6 210.4 434.6C210.5 435.6 210.6 436.6 210.7 437.6C210.8 438.6 210.9 439.6 211.1 440.6C211.2 441.6 211.3 442.6 211.5 443.6C211.6 444.6 211.8 445.6 211.9 446.6C212.1 447.6 212.3 448.6 212.4 449.6C212.6 450.6 212.8 451.6 213.0 452.6C213.2 453.6 213.4 454.6 213.6 455.6C213.8 456.6 214.1 457.6 214.3 458.6C214.5 459.6 214.7 460.6 215.0 461.6C215.2 462.6 215.5 463.6 215.7 464.6C216.0 465.6 216.2 466.6 216.5 467.6C216.8 468.6 217.1 469.6 217.3 470.6C217.6 471.6 217.9 472.6 218.2 473.6C218.5 474.6 218.8 475.6 219.1 476.6C219.4 477.6 219.7 478.6 220.0 479.6C220.3 480.6 220.6 481.6 220.9 482.6C221.3 483.6 221.6 484.6 221.9 485.6C222.2 486.6 222.6 487.6 222.9 488.6C223.2 489.6 223.6 490.6 223.9 491.6C224.3 492.6 224.6 493.6 224.9 494.6C225.3 495.6 225.6 496.6 226.0 497.6C226.3 498.6 226.7 499.6 227.0 500.6C227.4 501.6 227.8 502.6 228.1 503.6C228.5 504.6 228.8 505.6 229.2 506.6C229.6 507.6 229.9 508.6 230.3 509.6C230.6 510.6 231.0 511.6 231.4 512.6C231.7 513.6 232.1 514.6 232.5 515.6C232.8 516.6 233.2 517.6 233.6 518.6C233.9 519.6 234.3 520.6 234.6 521.6C235.0 522.6 235.4 523.6 235.7 524.6C236.1 525.6 236.5 526.6 236.9 527.6C237.2 528.6 237.6 529.6 238.0 530.6C238.3 531.6 238.7 532.6 239.1 533.6C239.5 534.6 239.8 535.6 240.2 536.6C240.6 537.6 241.0 538.6 241.3 539.6C241.7 540.6 242.1 541.6 242.5 542.6C242.8 543.6 243.2 544.6 243.6 545.6C244.0 546.6 244.4 547.6 244.8 548.6C245.2 549.6 245.5 550.6 245.9 551.6C246.3 552.6 246.7 553.6 247.1 554.6C247.5 555.6 247.9 556.7 248.3 557.7C248.7 558.7 249.1 559.7 249.5 560.7C249.9 561.7 250.3 562.7 250.7 563.7C251.1 564.7 251.5 565.7 251.9 566.7C252.3 567.7 252.7 568.7 253.1 569.7C253.5 570.7 253.9 571.7 254.3 572.7C254.8 573.7 255.2 574.7 255.6 575.7C256.0 576.7 256.4 577.7 256.8 578.7C257.2 579.7 257.6 580.7 258.0 581.7C258.5 582.7 258.9 583.7 259.3 584.7C259.7 585.7 260.1 586.7 260.5 587.7C260.9 588.7 261.4 589.7 261.8 590.7C262.2 591.7 262.6 592.7 263.0 593.7C263.4 594.7 263.8 595.7 264.2 596.7C264.6 597.7 265.0 598.7 265.5 599.7C265.9 600.7 266.3 601.7 266.7 602.7C267.1 603.7 267.5 604.7 267.9 605.7C268.3 606.7 268.7 607.7 269.1 608.7C269.5 609.7 269.9 610.7 270.3 611.7C270.7 612.7 271.1 613.7 271.4 614.7C271.8 615.7 272.2 616.7 272.6 617.7C273.0 618.7 273.4 619.7 273.7 620.7C274.1 621.7 274.5 622.7 274.9 623.7C275.3 624.7 275.6 625.7 276.0 626.7C276.4 627.7 276.7 628.7 277.1 629.7C277.4 630.7 277.8 631.7 278.2 632.7C278.5 633.7 278.9 634.7 279.2 635.7C279.5 636.7 279.9 637.7 280.2 638.7C280.6 639.7 280.9 640.7 281.2 641.7C281.6 642.7 282.0 644.2 282.2 644.7L320.1 644.7C320.3 644.2 320.7 642.7 321.1 641.7C321.4 640.7 321.7 639.7 322.1 638.7C322.4 637.7 322.8 636.7 323.1 635.7C323.4 634.7 323.8 633.7 324.1 632.7C324.5 631.7 324.9 630.7 325.2 629.7C325.6 628.7 325.9 627.7 326.3 626.7C326.7 625.7 327.0 624.7 327.4 623.7C327.8 622.7 328.2 621.7 328.6 620.7C328.9 619.7 329.3 618.7 329.7 617.7C330.1 616.7 330.5 615.7 330.9 614.7C331.2 613.7 331.6 612.7 332.0 611.7C332.4 610.7 332.8 609.7 333.2 608.7C333.6 607.7 334.0 606.7 334.4 605.7C334.8 604.7 335.2 603.7 335.6 602.7C336.0 601.7 336.4 600.7 336.8 599.7C337.3 598.7 337.7 597.7 338.1 596.7C338.5 595.7 338.9 594.7 339.3 593.7C339.7 592.7 340.1 591.7 340.5 590.7C340.9 589.7 341.4 588.7 341.8 587.7C342.2 586.7 342.6 585.7 343.0 584.7C343.4 583.7 343.8 582.7 344.3 581.7C344.7 580.7 345.1 579.7 345.5 578.7C345.9 577.7 346.3 576.7 346.7 575.7C347.1 574.7 347.5 573.7 348.0 572.7C348.4 571.7 348.8 570.7 349.2 569.7C349.6 568.7 350.0 567.7 350.4 566.7C350.8 565.7 351.2 564.7 351.6 563.7C352.0 562.7 352.4 561.7 352.8 560.7C353.2 559.7 353.6 558.7 354.0 557.7C354.4 556.7 354.8 555.6 355.2 554.6C355.6 553.6 356.0 552.6 356.4 551.6C356.8 550.6 357.1 549.6 357.5 548.6C357.9 547.6 358.3 546.6 358.7 545.6C359.1 544.6 359.5 543.6 359.8 542.6C360.2 541.6 360.6 540.6 361.0 539.6C361.4 538.6 361.7 537.6 362.1 536.6C362.5 535.6 362.9 534.6 363.3 533.6C363.6 532.6 364.0 531.6 364.4 530.6C364.8 529.6 365.1 528.6 365.5 527.6C365.9 526.6 366.3 525.6 366.6 524.6C367.0 523.6 367.4 522.6 367.8 521.6C368.1 520.6 368.5 519.6 368.9 518.6C369.3 517.6 369.6 516.6 370.0 515.6C370.4 514.6 370.7 513.6 371.1 512.6C371.5 511.6 371.9 510.6 372.2 509.6C372.6 508.6 373.0 507.6 373.3 506.6C373.7 505.6 374.1 504.6 374.4 503.6C374.8 502.6 375.2 501.6 375.5 500.6C375.9 499.6 376.3 498.6 376.6 497.6C377.0 496.6 377.3 495.6 377.7 494.6C378.1 493.6 378.4 492.6 378.8 491.6C379.1 490.6 379.5 489.6 379.8 488.6C380.1 487.6 380.5 486.6 380.8 485.6C381.2 484.6 381.5 483.6 381.8 482.6C382.1 481.6 382.5 480.6 382.8 479.6C383.1 478.6 383.4 477.6 383.7 476.6C384.0 475.6 384.3 474.6 384.6 473.6C384.9 472.6 385.2 471.6 385.5 470.6C385.8 469.6 386.1 468.6 386.3 467.6C386.6 466.6 386.9 465.6 387.1 464.6C387.4 463.6 387.7 462.6 387.9 461.6C388.1 460.6 388.4 459.6 388.6 458.6C388.8 457.6 389.1 456.6 389.3 455.6C389.5 454.6 389.7 453.6 389.9 452.6C390.1 451.6 390.3 450.6 390.5 449.6C390.6 448.6 390.8 447.6 391.0 446.6C391.1 445.6 391.3 444.6 391.4 443.6C391.6 442.6 391.7 441.6 391.8 440.6C392.0 439.6 392.1 438.6 392.2 437.6C392.3 436.6 392.4 435.6 392.5 434.6C392.5 433.6 392.6 432.6 392.7 431.6C392.7 430.6 392.8 429.6 392.8 428.6C392.9 427.6 392.9 426.6 392.9 425.6C392.9 424.6 392.9 423.6 392.9 422.6C392.9 421.6 392.9 420.6 392.9 419.6C392.9 418.6 392.8 417.6 392.8 416.6C392.7 415.6 392.6 414.6 392.6 413.6C392.5 412.6 392.4 411.6 392.3 410.6C392.2 409.6 392.1 408.6 391.9 407.6C391.8 406.6 391.6 405.6 391.5 404.6C391.3 403.6 391.1 402.6 390.9 401.6C390.7 400.6 390.5 399.6 390.3 398.6C390.1 397.6 389.9 396.6 389.6 395.6C389.4 394.6 389.1 393.6 388.8 392.6C388.5 391.6 388.2 390.6 387.9 389.6C387.6 388.6 387.3 387.6 387.0 386.6C386.6 385.6 386.3 384.6 385.9 383.6C385.6 382.6 385.2 381.6 384.8 380.6C384.4 379.6 384.0 378.5 383.6 377.5C383.2 376.5 382.8 375.5 382.4 374.5C382.0 373.5 381.6 372.5 381.2 371.5C380.8 370.5 380.3 369.5 379.9 368.5C379.5 367.5 379.0 366.5 378.6 365.5C378.1 364.5 377.7 363.5 377.2 362.5C376.8 361.5 376.3 360.5 375.9 359.5C375.4 358.5 375.0 357.5 374.5 356.5C374.1 355.5 373.6 354.5 373.1 353.5C372.6 352.5 372.2 351.5 371.7 350.5C371.2 349.5 370.7 348.5 370.2 347.5C369.7 346.5 369.2 345.5 368.7 344.5C368.2 343.5 367.7 342.5 367.2 341.5C366.7 340.5 366.2 339.5 365.6 338.5C365.1 337.5 364.5 336.5 364.0 335.5C363.4 334.5 362.9 333.5 362.3 332.5C361.7 331.5 361.1 330.5 360.6 329.5C360.0 328.5 359.4 327.5 358.8 326.5C358.2 325.5 357.6 324.5 357.0 323.5C356.3 322.5 355.7 321.5 355.1 320.5C354.5 319.5 353.8 318.5 353.2 317.5C352.6 316.5 351.9 315.5 351.3 314.5C350.6 313.5 349.9 312.5 349.3 311.5C348.6 310.5 347.9 309.5 347.3 308.5C346.6 307.5 345.9 306.5 345.2 305.5C344.5 304.5 343.8 303.5 343.1 302.5C342.4 301.5 341.7 300.5 341.0 299.5C340.3 298.5 339.6 297.5 338.9 296.5C338.2 295.5 337.5 294.5 336.7 293.5C336.0 292.5 334.9 291.0 334.6 290.5Z"/></clipPath>
<path d="M268.3 290.5C268.0 291.0 266.9 292.5 266.2 293.5C265.4 294.5 264.7 295.5 264.0 296.5C263.3 297.5 262.6 298.5 261.9 299.5C261.2 300.5 260.5 301.5 259.8 302.5C259.1 303.5 258.4 304.5 257.7 305.5C257.0 306.5 256.3 307.5 255.6 308.5C255.0 309.5 254.3 310.5 253.6 311.5C253.0 312.5 252.3 313.5 251.6 314.5C251.0 315.5 250.3 316.5 249.7 317.5C249.1 318.5 248.4 319.5 247.8 320.5C247.2 321.5 246.6 322.5 245.9 323.5C245.3 324.5 244.7 325.5 244.1 326.5C243.5 327.5 242.9 328.5 242.3 329.5C241.8 330.5 241.2 331.5 240.6 332.5C240.0 333.5 239.5 334.5 238.9 335.5C238.4 336.5 237.8 337.5 237.3 338.5C236.7 339.5 236.2 340.5 235.7 341.5C235.2 342.5 234.7 343.5 234.2 344.5C233.7 345.5 233.2 346.5 232.7 347.5C232.2 348.5 231.7 349.5 231.2 350.5C230.7 351.5 230.3 352.5 229.8 353.5C229.3 354.5 228.8 355.5 228.4 356.5C227.9 357.5 227.5 358.5 227.0 359.5C226.6 360.5 226.1 361.5 225.7 362.5C225.2 363.5 224.8 364.5 224.3 365.5C223.9 366.5 223.4 367.5 223.0 368.5C222.6 369.5 222.1 370.5 221.7 371.5C221.3 372.5 220.9 373.5 220.5 374.5C220.1 375.5 219.7 376.5 219.3 377.5C218.9 378.5 218.5 379.6 218.1 380.6C217.7 381.6 217.3 382.6 217.0 383.6C216.6 384.6 216.3 385.6 215.9 386.6C215.6 387.6 215.3 388.6 215.0 389.6C214.7 390.6 214.4 391.6 214.1 392.6C213.8 393.6 213.5 394.6 213.3 395.6C213.0 396.6 212.8 397.6 212.6 398.6C212.4 399.6 212.2 400.6 212.0 401.6C211.8 402.6 211.6 403.6 211.4 404.6C211.3 405.6 211.1 406.6 211.0 407.6C210.8 408.6 210.7 409.6 210.6 410.6C210.5 411.6 210.4 412.6 210.3 413.6C210.3 414.6 210.2 415.6 210.1 416.6C210.1 417.6 210.0 418.6 210.0 419.6C210.0 420.6 210.0 421.6 210.0 422.6C210.0 423.6 210.0 424.6 210.0 425.6C210.0 426.6 210.0 427.6 210.1 428.6C210.1 429.6 210.2 430.6 210.2 431.6C210.3 432.6 210.4 433.6 210.4 434.6C210.5 435.6 210.6 436.6 210.7 437.6C210.8 438.6 210.9 439.6 211.1 440.6C211.2 441.6 211.3 442.6 211.5 443.6C211.6 444.6 211.8 445.6 211.9 446.6C212.1 447.6 212.3 448.6 212.4 449.6C212.6 450.6 212.8 451.6 213.0 452.6C213.2 453.6 213.4 454.6 213.6 455.6C213.8 456.6 214.1 457.6 214.3 458.6C214.5 459.6 214.7 460.6 215.0 461.6C215.2 462.6 215.5 463.6 215.7 464.6C216.0 465.6 216.2 466.6 216.5 467.6C216.8 468.6 217.1 469.6 217.3 470.6C217.6 471.6 217.9 472.6 218.2 473.6C218.5 474.6 218.8 475.6 219.1 476.6C219.4 477.6 219.7 478.6 220.0 479.6C220.3 480.6 220.6 481.6 220.9 482.6C221.3 483.6 221.6 484.6 221.9 485.6C222.2 486.6 222.6 487.6 222.9 488.6C223.2 489.6 223.6 490.6 223.9 491.6C224.3 492.6 224.6 493.6 224.9 494.6C225.3 495.6 225.6 496.6 226.0 497.6C226.3 498.6 226.7 499.6 227.0 500.6C227.4 501.6 227.8 502.6 228.1 503.6C228.5 504.6 228.8 505.6 229.2 506.6C229.6 507.6 229.9 508.6 230.3 509.6C230.6 510.6 231.0 511.6 231.4 512.6C231.7 513.6 232.1 514.6 232.5 515.6C232.8 516.6 233.2 517.6 233.6 518.6C233.9 519.6 234.3 520.6 234.6 521.6C235.0 522.6 235.4 523.6 235.7 524.6C236.1 525.6 236.5 526.6 236.9 527.6C237.2 528.6 237.6 529.6 238.0 530.6C238.3 531.6 238.7 532.6 239.1 533.6C239.5 534.6 239.8 535.6 240.2 536.6C240.6 537.6 241.0 538.6 241.3 539.6C241.7 540.6 242.1 541.6 242.5 542.6C242.8 543.6 243.2 544.6 243.6 545.6C244.0 546.6 244.4 547.6 244.8 548.6C245.2 549.6 245.5 550.6 245.9 551.6C246.3 552.6 246.7 553.6 247.1 554.6C247.5 555.6 247.9 556.7 248.3 557.7C248.7 558.7 249.1 559.7 249.5 560.7C249.9 561.7 250.3 562.7 250.7 563.7C251.1 564.7 251.5 565.7 251.9 566.7C252.3 567.7 252.7 568.7 253.1 569.7C253.5 570.7 253.9 571.7 254.3 572.7C254.8 573.7 255.2 574.7 255.6 575.7C256.0 576.7 256.4 577.7 256.8 578.7C257.2 579.7 257.6 580.7 258.0 581.7C258.5 582.7 258.9 583.7 259.3 584.7C259.7 585.7 260.1 586.7 260.5 587.7C260.9 588.7 261.4 589.7 261.8 590.7C262.2 591.7 262.6 592.7 263.0 593.7C263.4 594.7 263.8 595.7 264.2 596.7C264.6 597.7 265.0 598.7 265.5 599.7C265.9 600.7 266.3 601.7 266.7 602.7C267.1 603.7 267.5 604.7 267.9 605.7C268.3 606.7 268.7 607.7 269.1 608.7C269.5 609.7 269.9 610.7 270.3 611.7C270.7 612.7 271.1 613.7 271.4 614.7C271.8 615.7 272.2 616.7 272.6 617.7C273.0 618.7 273.4 619.7 273.7 620.7C274.1 621.7 274.5 622.7 274.9 623.7C275.3 624.7 275.6 625.7 276.0 626.7C276.4 627.7 276.7 628.7 277.1 629.7C277.4 630.7 277.8 631.7 278.2 632.7C278.5 633.7 278.9 634.7 279.2 635.7C279.5 636.7 279.9 637.7 280.2 638.7C280.6 639.7 280.9 640.7 281.2 641.7C281.6 642.7 282.0 644.2 282.2 644.7L320.1 644.7C320.3 644.2 320.7 642.7 321.1 641.7C321.4 640.7 321.7 639.7 322.1 638.7C322.4 637.7 322.8 636.7 323.1 635.7C323.4 634.7 323.8 633.7 324.1 632.7C324.5 631.7 324.9 630.7 325.2 629.7C325.6 628.7 325.9 627.7 326.3 626.7C326.7 625.7 327.0 624.7 327.4 623.7C327.8 622.7 328.2 621.7 328.6 620.7C328.9 619.7 329.3 618.7 329.7 617.7C330.1 616.7 330.5 615.7 330.9 614.7C331.2 613.7 331.6 612.7 332.0 611.7C332.4 610.7 332.8 609.7 333.2 608.7C333.6 607.7 334.0 606.7 334.4 605.7C334.8 604.7 335.2 603.7 335.6 602.7C336.0 601.7 336.4 600.7 336.8 599.7C337.3 598.7 337.7 597.7 338.1 596.7C338.5 595.7 338.9 594.7 339.3 593.7C339.7 592.7 340.1 591.7 340.5 590.7C340.9 589.7 341.4 588.7 341.8 587.7C342.2 586.7 342.6 585.7 343.0 584.7C343.4 583.7 343.8 582.7 344.3 581.7C344.7 580.7 345.1 579.7 345.5 578.7C345.9 577.7 346.3 576.7 346.7 575.7C347.1 574.7 347.5 573.7 348.0 572.7C348.4 571.7 348.8 570.7 349.2 569.7C349.6 568.7 350.0 567.7 350.4 566.7C350.8 565.7 351.2 564.7 351.6 563.7C352.0 562.7 352.4 561.7 352.8 560.7C353.2 559.7 353.6 558.7 354.0 557.7C354.4 556.7 354.8 555.6 355.2 554.6C355.6 553.6 356.0 552.6 356.4 551.6C356.8 550.6 357.1 549.6 357.5 548.6C357.9 547.6 358.3 546.6 358.7 545.6C359.1 544.6 359.5 543.6 359.8 542.6C360.2 541.6 360.6 540.6 361.0 539.6C361.4 538.6 361.7 537.6 362.1 536.6C362.5 535.6 362.9 534.6 363.3 533.6C363.6 532.6 364.0 531.6 364.4 530.6C364.8 529.6 365.1 528.6 365.5 527.6C365.9 526.6 366.3 525.6 366.6 524.6C367.0 523.6 367.4 522.6 367.8 521.6C368.1 520.6 368.5 519.6 368.9 518.6C369.3 517.6 369.6 516.6 370.0 515.6C370.4 514.6 370.7 513.6 371.1 512.6C371.5 511.6 371.9 510.6 372.2 509.6C372.6 508.6 373.0 507.6 373.3 506.6C373.7 505.6 374.1 504.6 374.4 503.6C374.8 502.6 375.2 501.6 375.5 500.6C375.9 499.6 376.3 498.6 376.6 497.6C377.0 496.6 377.3 495.6 377.7 494.6C378.1 493.6 378.4 492.6 378.8 491.6C379.1 490.6 379.5 489.6 379.8 488.6C380.1 487.6 380.5 486.6 380.8 485.6C381.2 484.6 381.5 483.6 381.8 482.6C382.1 481.6 382.5 480.6 382.8 479.6C383.1 478.6 383.4 477.6 383.7 476.6C384.0 475.6 384.3 474.6 384.6 473.6C384.9 472.6 385.2 471.6 385.5 470.6C385.8 469.6 386.1 468.6 386.3 467.6C386.6 466.6 386.9 465.6 387.1 464.6C387.4 463.6 387.7 462.6 387.9 461.6C388.1 460.6 388.4 459.6 388.6 458.6C388.8 457.6 389.1 456.6 389.3 455.6C389.5 454.6 389.7 453.6 389.9 452.6C390.1 451.6 390.3 450.6 390.5 449.6C390.6 448.6 390.8 447.6 391.0 446.6C391.1 445.6 391.3 444.6 391.4 443.6C391.6 442.6 391.7 441.6 391.8 440.6C392.0 439.6 392.1 438.6 392.2 437.6C392.3 436.6 392.4 435.6 392.5 434.6C392.5 433.6 392.6 432.6 392.7 431.6C392.7 430.6 392.8 429.6 392.8 428.6C392.9 427.6 392.9 426.6 392.9 425.6C392.9 424.6 392.9 423.6 392.9 422.6C392.9 421.6 392.9 420.6 392.9 419.6C392.9 418.6 392.8 417.6 392.8 416.6C392.7 415.6 392.6 414.6 392.6 413.6C392.5 412.6 392.4 411.6 392.3 410.6C392.2 409.6 392.1 408.6 391.9 407.6C391.8 406.6 391.6 405.6 391.5 404.6C391.3 403.6 391.1 402.6 390.9 401.6C390.7 400.6 390.5 399.6 390.3 398.6C390.1 397.6 389.9 396.6 389.6 395.6C389.4 394.6 389.1 393.6 388.8 392.6C388.5 391.6 388.2 390.6 387.9 389.6C387.6 388.6 387.3 387.6 387.0 386.6C386.6 385.6 386.3 384.6 385.9 383.6C385.6 382.6 385.2 381.6 384.8 380.6C384.4 379.6 384.0 378.5 383.6 377.5C383.2 376.5 382.8 375.5 382.4 374.5C382.0 373.5 381.6 372.5 381.2 371.5C380.8 370.5 380.3 369.5 379.9 368.5C379.5 367.5 379.0 366.5 378.6 365.5C378.1 364.5 377.7 363.5 377.2 362.5C376.8 361.5 376.3 360.5 375.9 359.5C375.4 358.5 375.0 357.5 374.5 356.5C374.1 355.5 373.6 354.5 373.1 353.5C372.6 352.5 372.2 351.5 371.7 350.5C371.2 349.5 370.7 348.5 370.2 347.5C369.7 346.5 369.2 345.5 368.7 344.5C368.2 343.5 367.7 342.5 367.2 341.5C366.7 340.5 366.2 339.5 365.6 338.5C365.1 337.5 364.5 336.5 364.0 335.5C363.4 334.5 362.9 333.5 362.3 332.5C361.7 331.5 361.1 330.5 360.6 329.5C360.0 328.5 359.4 327.5 358.8 326.5C358.2 325.5 357.6 324.5 357.0 323.5C356.3 322.5 355.7 321.5 355.1 320.5C354.5 319.5 353.8 318.5 353.2 317.5C352.6 316.5 351.9 315.5 351.3 314.5C350.6 313.5 349.9 312.5 349.3 311.5C348.6 310.5 347.9 309.5 347.3 308.5C346.6 307.5 345.9 306.5 345.2 305.5C344.5 304.5 343.8 303.5 343.1 302.5C342.4 301.5 341.7 300.5 341.0 299.5C340.3 298.5 339.6 297.5 338.9 296.5C338.2 295.5 337.5 294.5 336.7 293.5C336.0 292.5 334.9 291.0 334.6 290.5Z" fill="#a65d62" fill-opacity="0.5"/>
<path d="M268.3 290.5C268.0 291.0 266.9 292.5 266.2 293.5C265.4 294.5 264.7 295.5 264.0 296.5C263.3 297.5 262.6 298.5 261.9 299.5C261.2 300.5 260.5 301.5 259.8 302.5C259.1 303.5 258.4 304.5 257.7 305.5C257.0 306.5 256.3 307.5 255.6 308.5C255.0 309.5 254.3 310.5 253.6 311.5C253.0 312.5 252.3 313.5 251.6 314.5C251.0 315.5 250.3 316.5 249.7 317.5C249.1 318.5 248.4 319.5 247.8 320.5C247.2 321.5 246.6 322.5 245.9 323.5C245.3 324.5 244.7 325.5 244.1 326.5C243.5 327.5 242.9 328.5 242.3 329.5C241.8 330.5 241.2 331.5 240.6 332.5C240.0 333.5 239.5 334.5 238.9 335.5C238.4 336.5 237.8 337.5 237.3 338.5C236.7 339.5 236.2 340.5 235.7 341.5C235.2 342.5 234.7 343.5 234.2 344.5C233.7 345.5 233.2 346.5 232.7 347.5C232.2 348.5 231.7 349.5 231.2 350.5C230.7 351.5 230.3 352.5 229.8 353.5C229.3 354.5 228.8 355.5 228.4 356.5C227.9 357.5 227.5 358.5 227.0 359.5C226.6 360.5 226.1 361.5 225.7 362.5C225.2 363.5 224.8 364.5 224.3 365.5C223.9 366.5 223.4 367.5 223.0 368.5C222.6 369.5 222.1 370.5 221.7 371.5C221.3 372.5 220.9 373.5 220.5 374.5C220.1 375.5 219.7 376.5 219.3 377.5C218.9 378.5 218.5 379.6 218.1 380.6C217.7 381.6 217.3 382.6 217.0 383.6C216.6 384.6 216.3 385.6 215.9 386.6C215.6 387.6 215.3 388.6 215.0 389.6C214.7 390.6 214.4 391.6 214.1 392.6C213.8 393.6 213.5 394.6 213.3 395.6C213.0 396.6 212.8 397.6 212.6 398.6C212.4 399.6 212.2 400.6 212.0 401.6C211.8 402.6 211.6 403.6 211.4 404.6C211.3 405.6 211.1 406.6 211.0 407.6C210.8 408.6 210.7 409.6 210.6 410.6C210.5 411.6 210.4 412.6 210.3 413.6C210.3 414.6 210.2 415.6 210.1 416.6C210.1 417.6 210.0 418.6 210.0 419.6C210.0 420.6 210.0 421.6 210.0 422.6C210.0 423.6 210.0 424.6 210.0 425.6C210.0 426.6 210.0 427.6 210.1 428.6C210.1 429.6 210.2 430.6 210.2 431.6C210.3 432.6 210.4 433.6 210.4 434.6C210.5 435.6 210.6 436.6 210.7 437.6C210.8 438.6 210.9 439.6 211.1 440.6C211.2 441.6 211.3 442.6 211.5 443.6C211.6 444.6 211.8 445.6 211.9 446.6C212.1 447.6 212.3 448.6 212.4 449.6C212.6 450.6 212.8 451.6 213.0 452.6C213.2 453.6 213.4 454.6 213.6 455.6C213.8 456.6 214.1 457.6 214.3 458.6C214.5 459.6 214.7 460.6 215.0 461.6C215.2 462.6 215.5 463.6 215.7 464.6C216.0 465.6 216.2 466.6 216.5 467.6C216.8 468.6 217.1 469.6 217.3 470.6C217.6 471.6 217.9 472.6 218.2 473.6C218.5 474.6 218.8 475.6 219.1 476.6C219.4 477.6 219.7 478.6 220.0 479.6C220.3 480.6 220.6 481.6 220.9 482.6C221.3 483.6 221.6 484.6 221.9 485.6C222.2 486.6 222.6 487.6 222.9 488.6C223.2 489.6 223.6 490.6 223.9 491.6C224.3 492.6 224.6 493.6 224.9 494.6C225.3 495.6 225.6 496.6 226.0 497.6C226.3 498.6 226.7 499.6 227.0 500.6C227.4 501.6 227.8 502.6 228.1 503.6C228.5 504.6 228.8 505.6 229.2 506.6C229.6 507.6 229.9 508.6 230.3 509.6C230.6 510.6 231.0 511.6 231.4 512.6C231.7 513.6 232.1 514.6 232.5 515.6C232.8 516.6 233.2 517.6 233.6 518.6C233.9 519.6 234.3 520.6 234.6 521.6C235.0 522.6 235.4 523.6 235.7 524.6C236.1 525.6 236.5 526.6 236.9 527.6C237.2 528.6 237.6 529.6 238.0 530.6C238.3 531.6 238.7 532.6 239.1 533.6C239.5 534.6 239.8 535.6 240.2 536.6C240.6 537.6 241.0 538.6 241.3 539.6C241.7 540.6 242.1 541.6 242.5 542.6C242.8 543.6 243.2 544.6 243.6 545.6C244.0 546.6 244.4 547.6 244.8 548.6C245.2 549.6 245.5 550.6 245.9 551.6C246.3 552.6 246.7 553.6 247.1 554.6C247.5 555.6 247.9 556.7 248.3 557.7C248.7 558.7 249.1 559.7 249.5 560.7C249.9 561.7 250.3 562.7 250.7 563.7C251.1 564.7 251.5 565.7 251.9 566.7C252.3 567.7 252.7 568.7 253.1 569.7C253.5 570.7 253.9 571.7 254.3 572.7C254.8 573.7 255.2 574.7 255.6 575.7C256.0 576.7 256.4 577.7 256.8 578.7C257.2 579.7 257.6 580.7 258.0 581.7C258.5 582.7 258.9 583.7 259.3 584.7C259.7 585.7 260.1 586.7 260.5 587.7C260.9 588.7 261.4 589.7 261.8 590.7C262.2 591.7 262.6 592.7 263.0 593.7C263.4 594.7 263.8 595.7 264.2 596.7C264.6 597.7 265.0 598.7 265.5 599.7C265.9 600.7 266.3 601.7 266.7 602.7C267.1 603.7 267.5 604.7 267.9 605.7C268.3 606.7 268.7 607.7 269.1 608.7C269.5 609.7 269.9 610.7 270.3 611.7C270.7 612.7 271.1 613.7 271.4 614.7C271.8 615.7 272.2 616.7 272.6 617.7C273.0 618.7 273.4 619.7 273.7 620.7C274.1 621.7 274.5 622.7 274.9 623.7C275.3 624.7 275.6 625.7 276.0 626.7C276.4 627.7 276.7 628.7 277.1 629.7C277.4 630.7 277.8 631.7 278.2 632.7C278.5 633.7 278.9 634.7 279.2 635.7C279.5 636.7 279.9 637.7 280.2 638.7C280.6 639.7 280.9 640.7 281.2 641.7C281.6 642.7 282.0 644.2 282.2 644.7L320.1 644.7C320.3 644.2 320.7 642.7 321.1 641.7C321.4 640.7 321.7 639.7 322.1 638.7C322.4 637.7 322.8 636.7 323.1 635.7C323.4 634.7 323.8 633.7 324.1 632.7C324.5 631.7 324.9 630.7 325.2 629.7C325.6 628.7 325.9 627.7 326.3 626.7C326.7 625.7 327.0 624.7 327.4 623.7C327.8 622.7 328.2 621.7 328.6 620.7C328.9 619.7 329.3 618.7 329.7 617.7C330.1 616.7 330.5 615.7 330.9 614.7C331.2 613.7 331.6 612.7 332.0 611.7C332.4 610.7 332.8 609.7 333.2 608.7C333.6 607.7 334.0 606.7 334.4 605.7C334.8 604.7 335.2 603.7 335.6 602.7C336.0 601.7 336.4 600.7 336.8 599.7C337.3 598.7 337.7 597.7 338.1 596.7C338.5 595.7 338.9 594.7 339.3 593.7C339.7 592.7 340.1 591.7 340.5 590.7C340.9 589.7 341.4 588.7 341.8 587.7C342.2 586.7 342.6 585.7 343.0 584.7C343.4 583.7 343.8 582.7 344.3 581.7C344.7 580.7 345.1 579.7 345.5 578.7C345.9 577.7 346.3 576.7 346.7 575.7C347.1 574.7 347.5 573.7 348.0 572.7C348.4 571.7 348.8 570.7 349.2 569.7C349.6 568.7 350.0 567.7 350.4 566.7C350.8 565.7 351.2 564.7 351.6 563.7C352.0 562.7 352.4 561.7 352.8 560.7C353.2 559.7 353.6 558.7 354.0 557.7C354.4 556.7 354.8 555.6 355.2 554.6C355.6 553.6 356.0 552.6 356.4 551.6C356.8 550.6 357.1 549.6 357.5 548.6C357.9 547.6 358.3 546.6 358.7 545.6C359.1 544.6 359.5 543.6 359.8 542.6C360.2 541.6 360.6 540.6 361.0 539.6C361.4 538.6 361.7 537.6 362.1 536.6C362.5 535.6 362.9 534.6 363.3 533.6C363.6 532.6 364.0 531.6 364.4 530.6C364.8 529.6 365.1 528.6 365.5 527.6C365.9 526.6 366.3 525.6 366.6 524.6C367.0 523.6 367.4 522.6 367.8 521.6C368.1 520.6 368.5 519.6 368.9 518.6C369.3 517.6 369.6 516.6 370.0 515.6C370.4 514.6 370.7 513.6 371.1 512.6C371.5 511.6 371.9 510.6 372.2 509.6C372.6 508.6 373.0 507.6 373.3 506.6C373.7 505.6 374.1 504.6 374.4 503.6C374.8 502.6 375.2 501.6 375.5 500.6C375.9 499.6 376.3 498.6 376.6 497.6C377.0 496.6 377.3 495.6 377.7 494.6C378.1 493.6 378.4 492.6 378.8 491.6C379.1 490.6 379.5 489.6 379.8 488.6C380.1 487.6 380.5 486.6 380.8 485.6C381.2 484.6 381.5 483.6 381.8 482.6C382.1 481.6 382.5 480.6 382.8 479.6C383.1 478.6 383.4 477.6 383.7 476.6C384.0 475.6 384.3 474.6 384.6 473.6C384.9 472.6 385.2 471.6 385.5 470.6C385.8 469.6 386.1 468.6 386.3 467.6C386.6 466.6 386.9 465.6 387.1 464.6C387.4 463.6 387.7 462.6 387.9 461.6C388.1 460.6 388.4 459.6 388.6 458.6C388.8 457.6 389.1 456.6 389.3 455.6C389.5 454.6 389.7 453.6 389.9 452.6C390.1 451.6 390.3 450.6 390.5 449.6C390.6 448.6 390.8 447.6 391.0 446.6C391.1 445.6 391.3 444.6 391.4 443.6C391.6 442.6 391.7 441.6 391.8 440.6C392.0 439.6 392.1 438.6 392.2 437.6C392.3 436.6 392.4 435.6 392.5 434.6C392.5 433.6 392.6 432.6 392.7 431.6C392.7 430.6 392.8 429.6 392.8 428.6C392.9 427.6 392.9 426.6 392.9 425.6C392.9 424.6 392.9 423.6 392.9 422.6C392.9 421.6 392.9 420.6 392.9 419.6C392.9 418.6 392.8 417.6 392.8 416.6C392.7 415.6 392.6 414.6 392.6 413.6C392.5 412.6 392.4 411.6 392.3 410.6C392.2 409.6 392.1 408.6 391.9 407.6C391.8 406.6 391.6 405.6 391.5 404.6C391.3 403.6 391.1 402.6 390.9 401.6C390.7 400.6 390.5 399.6 390.3 398.6C390.1 397.6 389.9 396.6 389.6 395.6C389.4 394.6 389.1 393.6 388.8 392.6C388.5 391.6 388.2 390.6 387.9 389.6C387.6 388.6 387.3 387.6 387.0 386.6C386.6 385.6 386.3 384.6 385.9 383.6C385.6 382.6 385.2 381.6 384.8 380.6C384.4 379.6 384.0 378.5 383.6 377.5C383.2 376.5 382.8 375.5 382.4 374.5C382.0 373.5 381.6 372.5 381.2 371.5C380.8 370.5 380.3 369.5 379.9 368.5C379.5 367.5 379.0 366.5 378.6 365.5C378.1 364.5 377.7 363.5 377.2 362.5C376.8 361.5 376.3 360.5 375.9 359.5C375.4 358.5 375.0 357.5 374.5 356.5C374.1 355.5 373.6 354.5 373.1 353.5C372.6 352.5 372.2 351.5 371.7 350.5C371.2 349.5 370.7 348.5 370.2 347.5C369.7 346.5 369.2 345.5 368.7 344.5C368.2 343.5 367.7 342.5 367.2 341.5C366.7 340.5 366.2 339.5 365.6 338.5C365.1 337.5 364.5 336.5 364.0 335.5C363.4 334.5 362.9 333.5 362.3 332.5C361.7 331.5 361.1 330.5 360.6 329.5C360.0 328.5 359.4 327.5 358.8 326.5C358.2 325.5 357.6 324.5 357.0 323.5C356.3 322.5 355.7 321.5 355.1 320.5C354.5 319.5 353.8 318.5 353.2 317.5C352.6 316.5 351.9 315.5 351.3 314.5C350.6 313.5 349.9 312.5 349.3 311.5C348.6 310.5 347.9 309.5 347.3 308.5C346.6 307.5 345.9 306.5 345.2 305.5C344.5 304.5 343.8 303.5 343.1 302.5C342.4 301.5 341.7 300.5 341.0 299.5C340.3 298.5 339.6 297.5 338.9 296.5C338.2 295.5 337.5 294.5 336.7 293.5C336.0 292.5 334.9 291.0 334.6 290.5Z" fill="none" stroke="#a65d62" stroke-opacity="0.16" stroke-width="2.4" clip-path="url(#k_m_mid)"/>
<clipPath id="k_m_high"><path d="M278.8 235.0C278.5 235.5 277.5 237.0 276.9 238.0C276.3 239.0 275.8 240.0 275.3 241.0C274.8 242.0 274.4 243.0 274.0 244.0C273.6 245.0 273.2 246.0 272.9 247.0C272.6 248.0 272.4 249.0 272.1 250.0C271.9 251.0 271.7 252.0 271.6 253.0C271.4 254.0 271.3 255.0 271.2 256.0C271.1 257.0 271.1 258.0 271.1 259.0C271.0 260.0 271.0 261.0 271.0 262.0C271.0 263.0 271.1 264.0 271.1 265.0C271.2 266.0 271.3 267.0 271.3 268.0C271.4 269.0 271.5 270.0 271.6 271.0C271.7 272.0 271.9 273.0 272.0 274.0C272.1 275.0 272.2 276.0 272.4 277.0C272.5 278.0 272.6 279.0 272.8 280.0C272.9 281.0 273.0 282.0 273.1 283.0C273.3 284.0 273.4 285.0 273.5 286.0C273.5 287.0 273.6 288.0 273.7 289.0C273.7 290.0 273.7 291.0 273.7 292.0C273.7 293.0 273.7 294.0 273.6 295.0C273.5 296.0 273.4 297.0 273.3 298.0C273.1 299.0 272.9 300.0 272.6 301.0C272.4 302.0 272.1 303.0 271.7 304.0C271.3 305.0 270.9 306.0 270.4 307.0C269.9 308.0 269.3 309.0 268.7 310.0C268.1 311.0 267.4 312.0 266.6 313.0C265.8 314.0 264.9 315.0 263.9 316.0C263.0 317.0 261.9 318.0 260.8 319.0C259.7 320.0 258.6 321.0 257.4 322.0C256.2 323.0 254.9 324.0 253.7 325.0C252.4 326.0 251.1 327.0 249.8 328.0C248.6 329.0 247.3 330.0 246.0 331.0C244.7 332.0 243.5 333.0 242.2 334.0C240.9 335.0 239.6 336.0 238.3 337.0C237.0 338.0 235.6 339.0 234.2 340.0C232.9 341.0 231.4 342.0 229.9 343.0C228.5 344.0 227.0 345.0 225.4 346.0C223.9 347.0 222.3 348.0 220.7 349.0C219.1 350.0 217.4 351.0 215.8 352.0C214.2 353.0 212.5 354.0 210.8 355.0C209.1 356.0 207.4 357.0 205.7 358.0C204.0 359.0 202.3 360.0 200.6 361.0C198.9 362.0 197.2 363.0 195.5 364.0C193.8 365.0 192.1 366.0 190.4 367.0C188.7 368.0 187.0 369.0 185.3 370.0C183.6 371.0 181.9 372.0 180.3 373.0C178.6 374.0 177.0 374.9 175.4 375.9C173.7 376.9 172.1 377.9 170.6 378.9C169.0 379.9 167.4 380.9 165.9 381.9C164.4 382.9 162.9 383.9 161.5 384.9C160.0 385.9 158.6 386.9 157.2 387.9C155.9 388.9 154.5 389.9 153.2 390.9C152.0 391.9 150.7 392.9 149.5 393.9C148.3 394.9 147.2 395.9 146.1 396.9C145.1 397.9 144.1 398.9 143.2 399.9C142.3 400.9 141.5 401.9 140.8 402.9C140.2 403.9 139.6 404.9 139.1 405.9C138.7 406.9 138.4 407.9 138.2 408.9C138.0 409.9 138.0 410.9 138.1 411.9C138.2 412.9 138.5 413.9 138.8 414.9C139.2 415.9 139.7 416.9 140.3 417.9C140.8 418.9 141.5 419.9 142.3 420.9C143.0 421.9 143.9 422.9 144.8 423.9C145.7 424.9 146.7 425.9 147.7 426.9C148.7 427.9 149.8 428.9 150.9 429.9C152.0 430.9 153.1 431.9 154.3 432.9C155.4 433.9 156.6 434.9 157.7 435.9C158.8 436.9 160.0 437.9 161.1 438.9C162.2 439.9 163.3 440.9 164.4 441.9C165.4 442.9 166.5 443.9 167.5 444.9C168.5 445.9 169.4 446.9 170.4 447.9C171.4 448.9 172.3 449.9 173.2 450.9C174.2 451.9 175.1 452.9 176.0 453.9C176.9 454.9 177.9 455.9 178.8 456.9C179.7 457.9 180.7 458.9 181.7 459.9C182.6 460.9 183.6 461.9 184.6 462.9C185.6 463.9 186.6 464.9 187.6 465.9C188.7 466.9 189.7 467.9 190.8 468.9C191.9 469.9 193.0 470.9 194.1 471.9C195.3 472.9 196.4 473.9 197.6 474.9C198.8 475.9 200.0 476.9 201.3 477.9C202.6 478.9 203.9 479.9 205.2 480.9C206.5 481.9 207.9 482.9 209.3 483.9C210.7 484.9 212.1 485.9 213.6 486.9C215.1 487.9 216.7 488.9 218.2 489.9C219.8 490.9 221.5 491.9 223.1 492.9C224.8 493.9 226.5 494.9 228.3 495.9C230.0 496.9 231.8 497.9 233.6 498.9C235.4 499.9 237.2 500.9 239.0 501.9C240.8 502.9 242.5 503.9 244.2 504.9C246.0 505.9 247.6 506.9 249.2 507.9C250.8 508.9 252.4 509.9 253.8 510.9C255.3 511.9 257.2 513.4 257.9 513.9L345.3 513.9C346.0 513.4 347.9 511.9 349.4 510.9C350.8 509.9 352.4 508.9 354.0 507.9C355.6 506.9 357.2 505.9 359.0 504.9C360.7 503.9 362.4 502.9 364.2 501.9C366.0 500.9 367.8 499.9 369.6 498.9C371.3 497.9 373.1 496.9 374.9 495.9C376.6 494.9 378.4 493.9 380.0 492.9C381.7 491.9 383.3 490.9 384.9 489.9C386.4 488.9 388.0 487.9 389.4 486.9C390.9 485.9 392.4 484.9 393.8 483.9C395.2 482.9 396.5 481.9 397.8 480.9C399.1 479.9 400.4 478.9 401.7 477.9C402.9 476.9 404.1 475.9 405.3 474.9C406.5 473.9 407.6 472.9 408.7 471.9C409.8 470.9 410.9 469.9 412.0 468.9C413.1 467.9 414.1 466.9 415.1 465.9C416.1 464.9 417.1 463.9 418.1 462.9C419.1 461.9 420.0 460.9 421.0 459.9C421.9 458.9 422.9 457.9 423.8 456.9C424.7 455.9 425.6 454.9 426.5 453.9C427.4 452.9 428.3 451.9 429.2 450.9C430.2 449.9 431.1 448.9 432.0 447.9C433.0 446.9 433.9 445.9 434.9 444.9C435.9 443.9 436.9 442.9 437.9 441.9C439.0 440.9 440.1 439.9 441.2 438.9C442.3 437.9 443.4 436.9 444.5 435.9C445.7 434.9 446.8 433.9 447.9 432.9C449.0 431.9 450.2 430.9 451.3 429.9C452.3 428.9 453.4 427.9 454.4 426.9C455.4 425.9 456.4 424.9 457.3 423.9C458.2 422.9 459.0 421.9 459.8 420.9C460.5 419.9 461.2 418.9 461.8 417.9C462.3 416.9 462.8 415.9 463.2 414.9C463.5 413.9 463.8 412.9 463.9 411.9C464.0 410.9 464.0 409.9 463.8 408.9C463.6 407.9 463.3 406.9 462.9 405.9C462.4 404.9 461.9 403.9 461.2 402.9C460.5 401.9 459.7 400.9 458.8 399.9C458.0 398.9 457.0 397.9 455.9 396.9C454.9 395.9 453.8 394.9 452.6 393.9C451.4 392.9 450.2 391.9 448.9 390.9C447.6 389.9 446.3 388.9 444.9 387.9C443.6 386.9 442.2 385.9 440.7 384.9C439.3 383.9 437.8 382.9 436.3 381.9C434.8 380.9 433.3 379.9 431.8 378.9C430.2 377.9 428.6 376.9 427.0 375.9C425.4 374.9 423.8 374.0 422.2 373.0C420.5 372.0 418.9 371.0 417.2 370.0C415.5 369.0 413.9 368.0 412.2 367.0C410.5 366.0 408.8 365.0 407.1 364.0C405.4 363.0 403.7 362.0 402.1 361.0C400.4 360.0 398.7 359.0 397.0 358.0C395.3 357.0 393.6 356.0 392.0 355.0C390.3 354.0 388.7 353.0 387.0 352.0C385.4 351.0 383.8 350.0 382.2 349.0C380.6 348.0 379.1 347.0 377.5 346.0C376.0 345.0 374.5 344.0 373.1 343.0C371.6 342.0 370.2 341.0 368.8 340.0C367.4 339.0 366.1 338.0 364.8 337.0C363.5 336.0 362.2 335.0 360.9 334.0C359.7 333.0 358.4 332.0 357.2 331.0C355.9 330.0 354.6 329.0 353.3 328.0C352.1 327.0 350.8 326.0 349.5 325.0C348.3 324.0 347.0 323.0 345.8 322.0C344.6 321.0 343.5 320.0 342.4 319.0C341.3 318.0 340.2 317.0 339.3 316.0C338.3 315.0 337.4 314.0 336.6 313.0C335.8 312.0 335.1 311.0 334.5 310.0C333.9 309.0 333.3 308.0 332.8 307.0C332.3 306.0 331.9 305.0 331.5 304.0C331.1 303.0 330.8 302.0 330.6 301.0C330.3 300.0 330.1 299.0 329.9 298.0C329.8 297.0 329.7 296.0 329.6 295.0C329.5 294.0 329.5 293.0 329.5 292.0C329.5 291.0 329.5 290.0 329.5 289.0C329.6 288.0 329.7 287.0 329.7 286.0C329.8 285.0 329.9 284.0 330.1 283.0C330.2 282.0 330.3 281.0 330.4 280.0C330.6 279.0 330.7 278.0 330.8 277.0C331.0 276.0 331.1 275.0 331.2 274.0C331.3 273.0 331.5 272.0 331.6 271.0C331.7 270.0 331.8 269.0 331.9 268.0C331.9 267.0 332.0 266.0 332.1 265.0C332.1 264.0 332.2 263.0 332.2 262.0C332.2 261.0 332.2 260.0 332.1 259.0C332.1 258.0 332.1 257.0 332.0 256.0C331.9 255.0 331.8 254.0 331.6 253.0C331.5 252.0 331.3 251.0 331.1 250.0C330.8 249.0 330.6 248.0 330.3 247.0C330.0 246.0 329.6 245.0 329.2 244.0C328.8 243.0 328.4 242.0 327.9 241.0C327.4 240.0 326.9 239.0 326.3 238.0C325.7 237.0 324.7 235.5 324.4 235.0Z"/></clipPath>
<path d="M278.8 235.0C278.5 235.5 277.5 237.0 276.9 238.0C276.3 239.0 275.8 240.0 275.3 241.0C274.8 242.0 274.4 243.0 274.0 244.0C273.6 245.0 273.2 246.0 272.9 247.0C272.6 248.0 272.4 249.0 272.1 250.0C271.9 251.0 271.7 252.0 271.6 253.0C271.4 254.0 271.3 255.0 271.2 256.0C271.1 257.0 271.1 258.0 271.1 259.0C271.0 260.0 271.0 261.0 271.0 262.0C271.0 263.0 271.1 264.0 271.1 265.0C271.2 266.0 271.3 267.0 271.3 268.0C271.4 269.0 271.5 270.0 271.6 271.0C271.7 272.0 271.9 273.0 272.0 274.0C272.1 275.0 272.2 276.0 272.4 277.0C272.5 278.0 272.6 279.0 272.8 280.0C272.9 281.0 273.0 282.0 273.1 283.0C273.3 284.0 273.4 285.0 273.5 286.0C273.5 287.0 273.6 288.0 273.7 289.0C273.7 290.0 273.7 291.0 273.7 292.0C273.7 293.0 273.7 294.0 273.6 295.0C273.5 296.0 273.4 297.0 273.3 298.0C273.1 299.0 272.9 300.0 272.6 301.0C272.4 302.0 272.1 303.0 271.7 304.0C271.3 305.0 270.9 306.0 270.4 307.0C269.9 308.0 269.3 309.0 268.7 310.0C268.1 311.0 267.4 312.0 266.6 313.0C265.8 314.0 264.9 315.0 263.9 316.0C263.0 317.0 261.9 318.0 260.8 319.0C259.7 320.0 258.6 321.0 257.4 322.0C256.2 323.0 254.9 324.0 253.7 325.0C252.4 326.0 251.1 327.0 249.8 328.0C248.6 329.0 247.3 330.0 246.0 331.0C244.7 332.0 243.5 333.0 242.2 334.0C240.9 335.0 239.6 336.0 238.3 337.0C237.0 338.0 235.6 339.0 234.2 340.0C232.9 341.0 231.4 342.0 229.9 343.0C228.5 344.0 227.0 345.0 225.4 346.0C223.9 347.0 222.3 348.0 220.7 349.0C219.1 350.0 217.4 351.0 215.8 352.0C214.2 353.0 212.5 354.0 210.8 355.0C209.1 356.0 207.4 357.0 205.7 358.0C204.0 359.0 202.3 360.0 200.6 361.0C198.9 362.0 197.2 363.0 195.5 364.0C193.8 365.0 192.1 366.0 190.4 367.0C188.7 368.0 187.0 369.0 185.3 370.0C183.6 371.0 181.9 372.0 180.3 373.0C178.6 374.0 177.0 374.9 175.4 375.9C173.7 376.9 172.1 377.9 170.6 378.9C169.0 379.9 167.4 380.9 165.9 381.9C164.4 382.9 162.9 383.9 161.5 384.9C160.0 385.9 158.6 386.9 157.2 387.9C155.9 388.9 154.5 389.9 153.2 390.9C152.0 391.9 150.7 392.9 149.5 393.9C148.3 394.9 147.2 395.9 146.1 396.9C145.1 397.9 144.1 398.9 143.2 399.9C142.3 400.9 141.5 401.9 140.8 402.9C140.2 403.9 139.6 404.9 139.1 405.9C138.7 406.9 138.4 407.9 138.2 408.9C138.0 409.9 138.0 410.9 138.1 411.9C138.2 412.9 138.5 413.9 138.8 414.9C139.2 415.9 139.7 416.9 140.3 417.9C140.8 418.9 141.5 419.9 142.3 420.9C143.0 421.9 143.9 422.9 144.8 423.9C145.7 424.9 146.7 425.9 147.7 426.9C148.7 427.9 149.8 428.9 150.9 429.9C152.0 430.9 153.1 431.9 154.3 432.9C155.4 433.9 156.6 434.9 157.7 435.9C158.8 436.9 160.0 437.9 161.1 438.9C162.2 439.9 163.3 440.9 164.4 441.9C165.4 442.9 166.5 443.9 167.5 444.9C168.5 445.9 169.4 446.9 170.4 447.9C171.4 448.9 172.3 449.9 173.2 450.9C174.2 451.9 175.1 452.9 176.0 453.9C176.9 454.9 177.9 455.9 178.8 456.9C179.7 457.9 180.7 458.9 181.7 459.9C182.6 460.9 183.6 461.9 184.6 462.9C185.6 463.9 186.6 464.9 187.6 465.9C188.7 466.9 189.7 467.9 190.8 468.9C191.9 469.9 193.0 470.9 194.1 471.9C195.3 472.9 196.4 473.9 197.6 474.9C198.8 475.9 200.0 476.9 201.3 477.9C202.6 478.9 203.9 479.9 205.2 480.9C206.5 481.9 207.9 482.9 209.3 483.9C210.7 484.9 212.1 485.9 213.6 486.9C215.1 487.9 216.7 488.9 218.2 489.9C219.8 490.9 221.5 491.9 223.1 492.9C224.8 493.9 226.5 494.9 228.3 495.9C230.0 496.9 231.8 497.9 233.6 498.9C235.4 499.9 237.2 500.9 239.0 501.9C240.8 502.9 242.5 503.9 244.2 504.9C246.0 505.9 247.6 506.9 249.2 507.9C250.8 508.9 252.4 509.9 253.8 510.9C255.3 511.9 257.2 513.4 257.9 513.9L345.3 513.9C346.0 513.4 347.9 511.9 349.4 510.9C350.8 509.9 352.4 508.9 354.0 507.9C355.6 506.9 357.2 505.9 359.0 504.9C360.7 503.9 362.4 502.9 364.2 501.9C366.0 500.9 367.8 499.9 369.6 498.9C371.3 497.9 373.1 496.9 374.9 495.9C376.6 494.9 378.4 493.9 380.0 492.9C381.7 491.9 383.3 490.9 384.9 489.9C386.4 488.9 388.0 487.9 389.4 486.9C390.9 485.9 392.4 484.9 393.8 483.9C395.2 482.9 396.5 481.9 397.8 480.9C399.1 479.9 400.4 478.9 401.7 477.9C402.9 476.9 404.1 475.9 405.3 474.9C406.5 473.9 407.6 472.9 408.7 471.9C409.8 470.9 410.9 469.9 412.0 468.9C413.1 467.9 414.1 466.9 415.1 465.9C416.1 464.9 417.1 463.9 418.1 462.9C419.1 461.9 420.0 460.9 421.0 459.9C421.9 458.9 422.9 457.9 423.8 456.9C424.7 455.9 425.6 454.9 426.5 453.9C427.4 452.9 428.3 451.9 429.2 450.9C430.2 449.9 431.1 448.9 432.0 447.9C433.0 446.9 433.9 445.9 434.9 444.9C435.9 443.9 436.9 442.9 437.9 441.9C439.0 440.9 440.1 439.9 441.2 438.9C442.3 437.9 443.4 436.9 444.5 435.9C445.7 434.9 446.8 433.9 447.9 432.9C449.0 431.9 450.2 430.9 451.3 429.9C452.3 428.9 453.4 427.9 454.4 426.9C455.4 425.9 456.4 424.9 457.3 423.9C458.2 422.9 459.0 421.9 459.8 420.9C460.5 419.9 461.2 418.9 461.8 417.9C462.3 416.9 462.8 415.9 463.2 414.9C463.5 413.9 463.8 412.9 463.9 411.9C464.0 410.9 464.0 409.9 463.8 408.9C463.6 407.9 463.3 406.9 462.9 405.9C462.4 404.9 461.9 403.9 461.2 402.9C460.5 401.9 459.7 400.9 458.8 399.9C458.0 398.9 457.0 397.9 455.9 396.9C454.9 395.9 453.8 394.9 452.6 393.9C451.4 392.9 450.2 391.9 448.9 390.9C447.6 389.9 446.3 388.9 444.9 387.9C443.6 386.9 442.2 385.9 440.7 384.9C439.3 383.9 437.8 382.9 436.3 381.9C434.8 380.9 433.3 379.9 431.8 378.9C430.2 377.9 428.6 376.9 427.0 375.9C425.4 374.9 423.8 374.0 422.2 373.0C420.5 372.0 418.9 371.0 417.2 370.0C415.5 369.0 413.9 368.0 412.2 367.0C410.5 366.0 408.8 365.0 407.1 364.0C405.4 363.0 403.7 362.0 402.1 361.0C400.4 360.0 398.7 359.0 397.0 358.0C395.3 357.0 393.6 356.0 392.0 355.0C390.3 354.0 388.7 353.0 387.0 352.0C385.4 351.0 383.8 350.0 382.2 349.0C380.6 348.0 379.1 347.0 377.5 346.0C376.0 345.0 374.5 344.0 373.1 343.0C371.6 342.0 370.2 341.0 368.8 340.0C367.4 339.0 366.1 338.0 364.8 337.0C363.5 336.0 362.2 335.0 360.9 334.0C359.7 333.0 358.4 332.0 357.2 331.0C355.9 330.0 354.6 329.0 353.3 328.0C352.1 327.0 350.8 326.0 349.5 325.0C348.3 324.0 347.0 323.0 345.8 322.0C344.6 321.0 343.5 320.0 342.4 319.0C341.3 318.0 340.2 317.0 339.3 316.0C338.3 315.0 337.4 314.0 336.6 313.0C335.8 312.0 335.1 311.0 334.5 310.0C333.9 309.0 333.3 308.0 332.8 307.0C332.3 306.0 331.9 305.0 331.5 304.0C331.1 303.0 330.8 302.0 330.6 301.0C330.3 300.0 330.1 299.0 329.9 298.0C329.8 297.0 329.7 296.0 329.6 295.0C329.5 294.0 329.5 293.0 329.5 292.0C329.5 291.0 329.5 290.0 329.5 289.0C329.6 288.0 329.7 287.0 329.7 286.0C329.8 285.0 329.9 284.0 330.1 283.0C330.2 282.0 330.3 281.0 330.4 280.0C330.6 279.0 330.7 278.0 330.8 277.0C331.0 276.0 331.1 275.0 331.2 274.0C331.3 273.0 331.5 272.0 331.6 271.0C331.7 270.0 331.8 269.0 331.9 268.0C331.9 267.0 332.0 266.0 332.1 265.0C332.1 264.0 332.2 263.0 332.2 262.0C332.2 261.0 332.2 260.0 332.1 259.0C332.1 258.0 332.1 257.0 332.0 256.0C331.9 255.0 331.8 254.0 331.6 253.0C331.5 252.0 331.3 251.0 331.1 250.0C330.8 249.0 330.6 248.0 330.3 247.0C330.0 246.0 329.6 245.0 329.2 244.0C328.8 243.0 328.4 242.0 327.9 241.0C327.4 240.0 326.9 239.0 326.3 238.0C325.7 237.0 324.7 235.5 324.4 235.0Z" fill="#779159" fill-opacity="0.5"/>
<path d="M278.8 235.0C278.5 235.5 277.5 237.0 276.9 238.0C276.3 239.0 275.8 240.0 275.3 241.0C274.8 242.0 274.4 243.0 274.0 244.0C273.6 245.0 273.2 246.0 272.9 247.0C272.6 248.0 272.4 249.0 272.1 250.0C271.9 251.0 271.7 252.0 271.6 253.0C271.4 254.0 271.3 255.0 271.2 256.0C271.1 257.0 271.1 258.0 271.1 259.0C271.0 260.0 271.0 261.0 271.0 262.0C271.0 263.0 271.1 264.0 271.1 265.0C271.2 266.0 271.3 267.0 271.3 268.0C271.4 269.0 271.5 270.0 271.6 271.0C271.7 272.0 271.9 273.0 272.0 274.0C272.1 275.0 272.2 276.0 272.4 277.0C272.5 278.0 272.6 279.0 272.8 280.0C272.9 281.0 273.0 282.0 273.1 283.0C273.3 284.0 273.4 285.0 273.5 286.0C273.5 287.0 273.6 288.0 273.7 289.0C273.7 290.0 273.7 291.0 273.7 292.0C273.7 293.0 273.7 294.0 273.6 295.0C273.5 296.0 273.4 297.0 273.3 298.0C273.1 299.0 272.9 300.0 272.6 301.0C272.4 302.0 272.1 303.0 271.7 304.0C271.3 305.0 270.9 306.0 270.4 307.0C269.9 308.0 269.3 309.0 268.7 310.0C268.1 311.0 267.4 312.0 266.6 313.0C265.8 314.0 264.9 315.0 263.9 316.0C263.0 317.0 261.9 318.0 260.8 319.0C259.7 320.0 258.6 321.0 257.4 322.0C256.2 323.0 254.9 324.0 253.7 325.0C252.4 326.0 251.1 327.0 249.8 328.0C248.6 329.0 247.3 330.0 246.0 331.0C244.7 332.0 243.5 333.0 242.2 334.0C240.9 335.0 239.6 336.0 238.3 337.0C237.0 338.0 235.6 339.0 234.2 340.0C232.9 341.0 231.4 342.0 229.9 343.0C228.5 344.0 227.0 345.0 225.4 346.0C223.9 347.0 222.3 348.0 220.7 349.0C219.1 350.0 217.4 351.0 215.8 352.0C214.2 353.0 212.5 354.0 210.8 355.0C209.1 356.0 207.4 357.0 205.7 358.0C204.0 359.0 202.3 360.0 200.6 361.0C198.9 362.0 197.2 363.0 195.5 364.0C193.8 365.0 192.1 366.0 190.4 367.0C188.7 368.0 187.0 369.0 185.3 370.0C183.6 371.0 181.9 372.0 180.3 373.0C178.6 374.0 177.0 374.9 175.4 375.9C173.7 376.9 172.1 377.9 170.6 378.9C169.0 379.9 167.4 380.9 165.9 381.9C164.4 382.9 162.9 383.9 161.5 384.9C160.0 385.9 158.6 386.9 157.2 387.9C155.9 388.9 154.5 389.9 153.2 390.9C152.0 391.9 150.7 392.9 149.5 393.9C148.3 394.9 147.2 395.9 146.1 396.9C145.1 397.9 144.1 398.9 143.2 399.9C142.3 400.9 141.5 401.9 140.8 402.9C140.2 403.9 139.6 404.9 139.1 405.9C138.7 406.9 138.4 407.9 138.2 408.9C138.0 409.9 138.0 410.9 138.1 411.9C138.2 412.9 138.5 413.9 138.8 414.9C139.2 415.9 139.7 416.9 140.3 417.9C140.8 418.9 141.5 419.9 142.3 420.9C143.0 421.9 143.9 422.9 144.8 423.9C145.7 424.9 146.7 425.9 147.7 426.9C148.7 427.9 149.8 428.9 150.9 429.9C152.0 430.9 153.1 431.9 154.3 432.9C155.4 433.9 156.6 434.9 157.7 435.9C158.8 436.9 160.0 437.9 161.1 438.9C162.2 439.9 163.3 440.9 164.4 441.9C165.4 442.9 166.5 443.9 167.5 444.9C168.5 445.9 169.4 446.9 170.4 447.9C171.4 448.9 172.3 449.9 173.2 450.9C174.2 451.9 175.1 452.9 176.0 453.9C176.9 454.9 177.9 455.9 178.8 456.9C179.7 457.9 180.7 458.9 181.7 459.9C182.6 460.9 183.6 461.9 184.6 462.9C185.6 463.9 186.6 464.9 187.6 465.9C188.7 466.9 189.7 467.9 190.8 468.9C191.9 469.9 193.0 470.9 194.1 471.9C195.3 472.9 196.4 473.9 197.6 474.9C198.8 475.9 200.0 476.9 201.3 477.9C202.6 478.9 203.9 479.9 205.2 480.9C206.5 481.9 207.9 482.9 209.3 483.9C210.7 484.9 212.1 485.9 213.6 486.9C215.1 487.9 216.7 488.9 218.2 489.9C219.8 490.9 221.5 491.9 223.1 492.9C224.8 493.9 226.5 494.9 228.3 495.9C230.0 496.9 231.8 497.9 233.6 498.9C235.4 499.9 237.2 500.9 239.0 501.9C240.8 502.9 242.5 503.9 244.2 504.9C246.0 505.9 247.6 506.9 249.2 507.9C250.8 508.9 252.4 509.9 253.8 510.9C255.3 511.9 257.2 513.4 257.9 513.9L345.3 513.9C346.0 513.4 347.9 511.9 349.4 510.9C350.8 509.9 352.4 508.9 354.0 507.9C355.6 506.9 357.2 505.9 359.0 504.9C360.7 503.9 362.4 502.9 364.2 501.9C366.0 500.9 367.8 499.9 369.6 498.9C371.3 497.9 373.1 496.9 374.9 495.9C376.6 494.9 378.4 493.9 380.0 492.9C381.7 491.9 383.3 490.9 384.9 489.9C386.4 488.9 388.0 487.9 389.4 486.9C390.9 485.9 392.4 484.9 393.8 483.9C395.2 482.9 396.5 481.9 397.8 480.9C399.1 479.9 400.4 478.9 401.7 477.9C402.9 476.9 404.1 475.9 405.3 474.9C406.5 473.9 407.6 472.9 408.7 471.9C409.8 470.9 410.9 469.9 412.0 468.9C413.1 467.9 414.1 466.9 415.1 465.9C416.1 464.9 417.1 463.9 418.1 462.9C419.1 461.9 420.0 460.9 421.0 459.9C421.9 458.9 422.9 457.9 423.8 456.9C424.7 455.9 425.6 454.9 426.5 453.9C427.4 452.9 428.3 451.9 429.2 450.9C430.2 449.9 431.1 448.9 432.0 447.9C433.0 446.9 433.9 445.9 434.9 444.9C435.9 443.9 436.9 442.9 437.9 441.9C439.0 440.9 440.1 439.9 441.2 438.9C442.3 437.9 443.4 436.9 444.5 435.9C445.7 434.9 446.8 433.9 447.9 432.9C449.0 431.9 450.2 430.9 451.3 429.9C452.3 428.9 453.4 427.9 454.4 426.9C455.4 425.9 456.4 424.9 457.3 423.9C458.2 422.9 459.0 421.9 459.8 420.9C460.5 419.9 461.2 418.9 461.8 417.9C462.3 416.9 462.8 415.9 463.2 414.9C463.5 413.9 463.8 412.9 463.9 411.9C464.0 410.9 464.0 409.9 463.8 408.9C463.6 407.9 463.3 406.9 462.9 405.9C462.4 404.9 461.9 403.9 461.2 402.9C460.5 401.9 459.7 400.9 458.8 399.9C458.0 398.9 457.0 397.9 455.9 396.9C454.9 395.9 453.8 394.9 452.6 393.9C451.4 392.9 450.2 391.9 448.9 390.9C447.6 389.9 446.3 388.9 444.9 387.9C443.6 386.9 442.2 385.9 440.7 384.9C439.3 383.9 437.8 382.9 436.3 381.9C434.8 380.9 433.3 379.9 431.8 378.9C430.2 377.9 428.6 376.9 427.0 375.9C425.4 374.9 423.8 374.0 422.2 373.0C420.5 372.0 418.9 371.0 417.2 370.0C415.5 369.0 413.9 368.0 412.2 367.0C410.5 366.0 408.8 365.0 407.1 364.0C405.4 363.0 403.7 362.0 402.1 361.0C400.4 360.0 398.7 359.0 397.0 358.0C395.3 357.0 393.6 356.0 392.0 355.0C390.3 354.0 388.7 353.0 387.0 352.0C385.4 351.0 383.8 350.0 382.2 349.0C380.6 348.0 379.1 347.0 377.5 346.0C376.0 345.0 374.5 344.0 373.1 343.0C371.6 342.0 370.2 341.0 368.8 340.0C367.4 339.0 366.1 338.0 364.8 337.0C363.5 336.0 362.2 335.0 360.9 334.0C359.7 333.0 358.4 332.0 357.2 331.0C355.9 330.0 354.6 329.0 353.3 328.0C352.1 327.0 350.8 326.0 349.5 325.0C348.3 324.0 347.0 323.0 345.8 322.0C344.6 321.0 343.5 320.0 342.4 319.0C341.3 318.0 340.2 317.0 339.3 316.0C338.3 315.0 337.4 314.0 336.6 313.0C335.8 312.0 335.1 311.0 334.5 310.0C333.9 309.0 333.3 308.0 332.8 307.0C332.3 306.0 331.9 305.0 331.5 304.0C331.1 303.0 330.8 302.0 330.6 301.0C330.3 300.0 330.1 299.0 329.9 298.0C329.8 297.0 329.7 296.0 329.6 295.0C329.5 294.0 329.5 293.0 329.5 292.0C329.5 291.0 329.5 290.0 329.5 289.0C329.6 288.0 329.7 287.0 329.7 286.0C329.8 285.0 329.9 284.0 330.1 283.0C330.2 282.0 330.3 281.0 330.4 280.0C330.6 279.0 330.7 278.0 330.8 277.0C331.0 276.0 331.1 275.0 331.2 274.0C331.3 273.0 331.5 272.0 331.6 271.0C331.7 270.0 331.8 269.0 331.9 268.0C331.9 267.0 332.0 266.0 332.1 265.0C332.1 264.0 332.2 263.0 332.2 262.0C332.2 261.0 332.2 260.0 332.1 259.0C332.1 258.0 332.1 257.0 332.0 256.0C331.9 255.0 331.8 254.0 331.6 253.0C331.5 252.0 331.3 251.0 331.1 250.0C330.8 249.0 330.6 248.0 330.3 247.0C330.0 246.0 329.6 245.0 329.2 244.0C328.8 243.0 328.4 242.0 327.9 241.0C327.4 240.0 326.9 239.0 326.3 238.0C325.7 237.0 324.7 235.5 324.4 235.0Z" fill="none" stroke="#779159" stroke-opacity="0.16" stroke-width="2.4" clip-path="url(#k_m_high)"/>
<line x1="122.0" y1="94.2" x2="122.0" y2="794.4" stroke="#000" stroke-width="1.8"/>
<line x1="121.25" y1="793.7" x2="480.8" y2="793.7" stroke="#000" stroke-width="1.8"/>
<line x1="111.2" y1="111.0" x2="122.0" y2="111.0" stroke="#000" stroke-width="1.8"/>
<text x="97.3" y="122.1" text-anchor="end" font-family="Liberation Sans, Arial, Helvetica, sans-serif" font-weight="bold" font-size="29.6">120</text>
<line x1="111.2" y1="277.4" x2="122.0" y2="277.4" stroke="#000" stroke-width="1.8"/>
<text x="97.3" y="288.5" text-anchor="end" font-family="Liberation Sans, Arial, Helvetica, sans-serif" font-weight="bold" font-size="29.6">110</text>
<line x1="111.2" y1="443.8" x2="122.0" y2="443.8" stroke="#000" stroke-width="1.8"/>
<text x="97.3" y="454.9" text-anchor="end" font-family="Liberation Sans, Arial, Helvetica, sans-serif" font-weight="bold" font-size="29.6">100</text>
<line x1="111.2" y1="610.2" x2="122.0" y2="610.2" stroke="#000" stroke-width="1.8"/>
<text x="97.3" y="621.3" text-anchor="end" font-family="Liberation Sans, Arial, Helvetica, sans-serif" font-weight="bold" font-size="29.6">90</text>
<line x1="111.2" y1="776.6" x2="122.0" y2="776.6" stroke="#000" stroke-width="1.8"/>
<text x="97.3" y="787.7" text-anchor="end" font-family="Liberation Sans, Arial, Helvetica, sans-serif" font-weight="bold" font-size="29.6">80</text>
<text x="305.5" y="73.8" text-anchor="middle" font-family="Liberation Sans, Arial, Helvetica, sans-serif" font-weight="bold" font-size="29.3">Motor</text>
<line x1="597.8" y1="111.0" x2="955.8" y2="111.0" stroke="#e6eff1" stroke-width="2.2"/>
<line x1="597.8" y1="277.4" x2="955.8" y2="277.4" stroke="#e6eff1" stroke-width="2.2"/>
<line x1="597.8" y1="443.8" x2="955.8" y2="443.8" stroke="#e6eff1" stroke-width="2.2"/>
<line x1="597.8" y1="610.2" x2="955.8" y2="610.2" stroke="#e6eff1" stroke-width="2.2"/>
<line x1="597.8" y1="776.6" x2="955.8" y2="776.6" stroke="#e6eff1" stroke-width="2.2"/>
<clipPath id="k_l_low"><path d="M744.4 477.4C743.6 478.0 741.3 479.5 739.8 480.5C738.3 481.5 736.8 482.5 735.3 483.5C733.8 484.5 732.4 485.5 730.9 486.5C729.5 487.5 728.1 488.5 726.7 489.5C725.2 490.5 723.9 491.5 722.5 492.6C721.1 493.6 719.8 494.6 718.5 495.6C717.1 496.6 715.8 497.6 714.5 498.6C713.3 499.6 712.0 500.6 710.8 501.6C709.5 502.6 708.3 503.6 707.1 504.6C705.9 505.6 704.8 506.7 703.6 507.7C702.5 508.7 701.4 509.7 700.3 510.7C699.2 511.7 698.1 512.7 697.1 513.7C696.1 514.7 695.1 515.7 694.2 516.7C693.3 517.7 692.4 518.7 691.6 519.7C690.7 520.8 689.9 521.8 689.2 522.8C688.5 523.8 687.8 524.8 687.2 525.8C686.6 526.8 686.0 527.8 685.5 528.8C685.1 529.8 684.6 530.8 684.3 531.8C684.0 532.8 683.7 533.8 683.5 534.8C683.3 535.9 683.2 536.9 683.1 537.9C683.0 538.9 683.0 539.9 683.0 540.9C683.0 541.9 683.1 542.9 683.1 543.9C683.2 544.9 683.4 545.9 683.5 546.9C683.7 547.9 683.9 548.9 684.0 550.0C684.2 551.0 684.4 552.0 684.6 553.0C684.8 554.0 685.0 555.0 685.1 556.0C685.3 557.0 685.4 558.0 685.5 559.0C685.6 560.0 685.6 561.0 685.7 562.0C685.7 563.0 685.7 564.1 685.6 565.1C685.6 566.1 685.5 567.1 685.4 568.1C685.3 569.1 685.2 570.1 685.1 571.1C684.9 572.1 684.8 573.1 684.7 574.1C684.5 575.1 684.4 576.1 684.2 577.1C684.1 578.2 683.9 579.2 683.8 580.2C683.7 581.2 683.6 582.2 683.5 583.2C683.4 584.2 683.3 585.2 683.3 586.2C683.2 587.2 683.2 588.2 683.3 589.2C683.3 590.2 683.3 591.2 683.5 592.2C683.6 593.3 683.8 594.3 684.0 595.3C684.3 596.3 684.6 597.3 685.1 598.3C685.5 599.3 686.0 600.3 686.6 601.3C687.2 602.3 687.9 603.3 688.7 604.3C689.6 605.3 690.5 606.3 691.4 607.4C692.4 608.4 693.4 609.4 694.5 610.4C695.6 611.4 696.8 612.4 698.0 613.4C699.2 614.4 700.5 615.4 701.8 616.4C703.1 617.4 704.4 618.4 705.8 619.4C707.1 620.4 708.5 621.5 709.9 622.5C711.2 623.5 712.6 624.5 714.0 625.5C715.4 626.5 716.7 627.5 718.1 628.5C719.4 629.5 720.7 630.5 722.0 631.5C723.2 632.5 724.5 633.5 725.6 634.5C726.8 635.5 727.9 636.6 729.0 637.6C730.1 638.6 731.0 639.6 732.0 640.6C732.9 641.6 733.8 642.6 734.6 643.6C735.4 644.6 736.2 645.6 736.9 646.6C737.7 647.6 738.4 648.6 739.0 649.6C739.7 650.7 740.3 651.7 740.9 652.7C741.6 653.7 742.1 654.7 742.7 655.7C743.3 656.7 743.9 657.7 744.4 658.7C745.0 659.7 745.5 660.7 746.1 661.7C746.7 662.7 747.2 663.7 747.8 664.8C748.4 665.8 749.0 666.8 749.6 667.8C750.2 668.8 750.8 669.8 751.3 670.8C751.9 671.8 752.5 672.8 753.0 673.8C753.6 674.8 754.1 675.8 754.7 676.8C755.2 677.8 755.7 678.9 756.1 679.9C756.6 680.9 757.0 681.9 757.4 682.9C757.7 683.9 758.1 685.4 758.2 685.9L794.0 685.9C794.1 685.4 794.5 683.9 794.8 682.9C795.2 681.9 795.6 680.9 796.1 679.9C796.5 678.9 797.0 677.8 797.5 676.8C798.1 675.8 798.6 674.8 799.2 673.8C799.7 672.8 800.3 671.8 800.9 670.8C801.4 669.8 802.0 668.8 802.6 667.8C803.2 666.8 803.8 665.8 804.4 664.8C805.0 663.7 805.5 662.7 806.1 661.7C806.7 660.7 807.2 659.7 807.8 658.7C808.3 657.7 808.9 656.7 809.5 655.7C810.1 654.7 810.6 653.7 811.3 652.7C811.9 651.7 812.5 650.7 813.2 649.6C813.8 648.6 814.5 647.6 815.3 646.6C816.0 645.6 816.8 644.6 817.6 643.6C818.4 642.6 819.3 641.6 820.2 640.6C821.2 639.6 822.1 638.6 823.2 637.6C824.3 636.6 825.4 635.5 826.6 634.5C827.7 633.5 829.0 632.5 830.2 631.5C831.5 630.5 832.8 629.5 834.1 628.5C835.5 627.5 836.8 626.5 838.2 625.5C839.6 624.5 841.0 623.5 842.3 622.5C843.7 621.5 845.1 620.4 846.4 619.4C847.8 618.4 849.1 617.4 850.4 616.4C851.7 615.4 853.0 614.4 854.2 613.4C855.4 612.4 856.6 611.4 857.7 610.4C858.8 609.4 859.8 608.4 860.8 607.4C861.7 606.3 862.6 605.3 863.5 604.3C864.3 603.3 865.0 602.3 865.6 601.3C866.2 600.3 866.7 599.3 867.1 598.3C867.6 597.3 867.9 596.3 868.2 595.3C868.4 594.3 868.6 593.3 868.7 592.2C868.9 591.2 868.9 590.2 868.9 589.2C869.0 588.2 869.0 587.2 868.9 586.2C868.9 585.2 868.8 584.2 868.7 583.2C868.6 582.2 868.5 581.2 868.4 580.2C868.3 579.2 868.1 578.2 868.0 577.1C867.8 576.1 867.7 575.1 867.5 574.1C867.4 573.1 867.3 572.1 867.1 571.1C867.0 570.1 866.9 569.1 866.8 568.1C866.7 567.1 866.6 566.1 866.6 565.1C866.5 564.1 866.5 563.0 866.5 562.0C866.6 561.0 866.6 560.0 866.7 559.0C866.8 558.0 866.9 557.0 867.1 556.0C867.2 555.0 867.4 554.0 867.6 553.0C867.8 552.0 868.0 551.0 868.2 550.0C868.3 548.9 868.5 547.9 868.7 546.9C868.8 545.9 869.0 544.9 869.1 543.9C869.1 542.9 869.2 541.9 869.2 540.9C869.2 539.9 869.2 538.9 869.1 537.9C869.0 536.9 868.9 535.9 868.7 534.8C868.5 533.8 868.2 532.8 867.9 531.8C867.6 530.8 867.1 529.8 866.7 528.8C866.2 527.8 865.6 526.8 865.0 525.8C864.4 524.8 863.7 523.8 863.0 522.8C862.3 521.8 861.5 520.8 860.6 519.7C859.8 518.7 858.9 517.7 858.0 516.7C857.1 515.7 856.1 514.7 855.1 513.7C854.1 512.7 853.0 511.7 851.9 510.7C850.8 509.7 849.7 508.7 848.6 507.7C847.4 506.7 846.3 505.6 845.1 504.6C843.9 503.6 842.7 502.6 841.4 501.6C840.2 500.6 838.9 499.6 837.7 498.6C836.4 497.6 835.1 496.6 833.7 495.6C832.4 494.6 831.1 493.6 829.7 492.6C828.3 491.5 827.0 490.5 825.5 489.5C824.1 488.5 822.7 487.5 821.3 486.5C819.8 485.5 818.4 484.5 816.9 483.5C815.4 482.5 813.9 481.5 812.4 480.5C810.9 479.5 808.6 478.0 807.8 477.4Z"/></clipPath>
<path d="M744.4 477.4C743.6 478.0 741.3 479.5 739.8 480.5C738.3 481.5 736.8 482.5 735.3 483.5C733.8 484.5 732.4 485.5 730.9 486.5C729.5 487.5 728.1 488.5 726.7 489.5C725.2 490.5 723.9 491.5 722.5 492.6C721.1 493.6 719.8 494.6 718.5 495.6C717.1 496.6 715.8 497.6 714.5 498.6C713.3 499.6 712.0 500.6 710.8 501.6C709.5 502.6 708.3 503.6 707.1 504.6C705.9 505.6 704.8 506.7 703.6 507.7C702.5 508.7 701.4 509.7 700.3 510.7C699.2 511.7 698.1 512.7 697.1 513.7C696.1 514.7 695.1 515.7 694.2 516.7C693.3 517.7 692.4 518.7 691.6 519.7C690.7 520.8 689.9 521.8 689.2 522.8C688.5 523.8 687.8 524.8 687.2 525.8C686.6 526.8 686.0 527.8 685.5 528.8C685.1 529.8 684.6 530.8 684.3 531.8C684.0 532.8 683.7 533.8 683.5 534.8C683.3 535.9 683.2 536.9 683.1 537.9C683.0 538.9 683.0 539.9 683.0 540.9C683.0 541.9 683.1 542.9 683.1 543.9C683.2 544.9 683.4 545.9 683.5 546.9C683.7 547.9 683.9 548.9 684.0 550.0C684.2 551.0 684.4 552.0 684.6 553.0C684.8 554.0 685.0 555.0 685.1 556.0C685.3 557.0 685.4 558.0 685.5 559.0C685.6 560.0 685.6 561.0 685.7 562.0C685.7 563.0 685.7 564.1 685.6 565.1C685.6 566.1 685.5 567.1 685.4 568.1C685.3 569.1 685.2 570.1 685.1 571.1C684.9 572.1 684.8 573.1 684.7 574.1C684.5 575.1 684.4 576.1 684.2 577.1C684.1 578.2 683.9 579.2 683.8 580.2C683.7 581.2 683.6 582.2 683.5 583.2C683.4 584.2 683.3 585.2 683.3 586.2C683.2 587.2 683.2 588.2 683.3 589.2C683.3 590.2 683.3 591.2 683.5 592.2C683.6 593.3 683.8 594.3 684.0 595.3C684.3 596.3 684.6 597.3 685.1 598.3C685.5 599.3 686.0 600.3 686.6 601.3C687.2 602.3 687.9 603.3 688.7 604.3C689.6 605.3 690.5 606.3 691.4 607.4C692.4 608.4 693.4 609.4 694.5 610.4C695.6 611.4 696.8 612.4 698.0 613.4C699.2 614.4 700.5 615.4 701.8 616.4C703.1 617.4 704.4 618.4 705.8 619.4C707.1 620.4 708.5 621.5 709.9 622.5C711.2 623.5 712.6 624.5 714.0 625.5C715.4 626.5 716.7 627.5 718.1 628.5C719.4 629.5 720.7 630.5 722.0 631.5C723.2 632.5 724.5 633.5 725.6 634.5C726.8 635.5 727.9 636.6 729.0 637.6C730.1 638.6 731.0 639.6 732.0 640.6C732.9 641.6 733.8 642.6 734.6 643.6C735.4 644.6 736.2 645.6 736.9 646.6C737.7 647.6 738.4 648.6 739.0 649.6C739.7 650.7 740.3 651.7 740.9 652.7C741.6 653.7 742.1 654.7 742.7 655.7C743.3 656.7 743.9 657.7 744.4 658.7C745.0 659.7 745.5 660.7 746.1 661.7C746.7 662.7 747.2 663.7 747.8 664.8C748.4 665.8 749.0 666.8 749.6 667.8C750.2 668.8 750.8 669.8 751.3 670.8C751.9 671.8 752.5 672.8 753.0 673.8C753.6 674.8 754.1 675.8 754.7 676.8C755.2 677.8 755.7 678.9 756.1 679.9C756.6 680.9 757.0 681.9 757.4 682.9C757.7 683.9 758.1 685.4 758.2 685.9L794.0 685.9C794.1 685.4 794.5 683.9 794.8 682.9C795.2 681.9 795.6 680.9 796.1 679.9C796.5 678.9 797.0 677.8 797.5 676.8C798.1 675.8 798.6 674.8 799.2 673.8C799.7 672.8 800.3 671.8 800.9 670.8C801.4 669.8 802.0 668.8 802.6 667.8C803.2 666.8 803.8 665.8 804.4 664.8C805.0 663.7 805.5 662.7 806.1 661.7C806.7 660.7 807.2 659.7 807.8 658.7C808.3 657.7 808.9 656.7 809.5 655.7C810.1 654.7 810.6 653.7 811.3 652.7C811.9 651.7 812.5 650.7 813.2 649.6C813.8 648.6 814.5 647.6 815.3 646.6C816.0 645.6 816.8 644.6 817.6 643.6C818.4 642.6 819.3 641.6 820.2 640.6C821.2 639.6 822.1 638.6 823.2 637.6C824.3 636.6 825.4 635.5 826.6 634.5C827.7 633.5 829.0 632.5 830.2 631.5C831.5 630.5 832.8 629.5 834.1 628.5C835.5 627.5 836.8 626.5 838.2 625.5C839.6 624.5 841.0 623.5 842.3 622.5C843.7 621.5 845.1 620.4 846.4 619.4C847.8 618.4 849.1 617.4 850.4 616.4C851.7 615.4 853.0 614.4 854.2 613.4C855.4 612.4 856.6 611.4 857.7 610.4C858.8 609.4 859.8 608.4 860.8 607.4C861.7 606.3 862.6 605.3 863.5 604.3C864.3 603.3 865.0 602.3 865.6 601.3C866.2 600.3 866.7 599.3 867.1 598.3C867.6 597.3 867.9 596.3 868.2 595.3C868.4 594.3 868.6 593.3 868.7 592.2C868.9 591.2 868.9 590.2 868.9 589.2C869.0 588.2 869.0 587.2 868.9 586.2C868.9 585.2 868.8 584.2 868.7 583.2C868.6 582.2 868.5 581.2 868.4 580.2C868.3 579.2 868.1 578.2 868.0 577.1C867.8 576.1 867.7 575.1 867.5 574.1C867.4 573.1 867.3 572.1 867.1 571.1C867.0 570.1 866.9 569.1 866.8 568.1C866.7 567.1 866.6 566.1 866.6 565.1C866.5 564.1 866.5 563.0 866.5 562.0C866.6 561.0 866.6 560.0 866.7 559.0C866.8 558.0 866.9 557.0 867.1 556.0C867.2 555.0 867.4 554.0 867.6 553.0C867.8 552.0 868.0 551.0 868.2 550.0C868.3 548.9 868.5 547.9 868.7 546.9C868.8 545.9 869.0 544.9 869.1 543.9C869.1 542.9 869.2 541.9 869.2 540.9C869.2 539.9 869.2 538.9 869.1 537.9C869.0 536.9 868.9 535.9 868.7 534.8C868.5 533.8 868.2 532.8 867.9 531.8C867.6 530.8 867.1 529.8 866.7 528.8C866.2 527.8 865.6 526.8 865.0 525.8C864.4 524.8 863.7 523.8 863.0 522.8C862.3 521.8 861.5 520.8 860.6 519.7C859.8 518.7 858.9 517.7 858.0 516.7C857.1 515.7 856.1 514.7 855.1 513.7C854.1 512.7 853.0 511.7 851.9 510.7C850.8 509.7 849.7 508.7 848.6 507.7C847.4 506.7 846.3 505.6 845.1 504.6C843.9 503.6 842.7 502.6 841.4 501.6C840.2 500.6 838.9 499.6 837.7 498.6C836.4 497.6 835.1 496.6 833.7 495.6C832.4 494.6 831.1 493.6 829.7 492.6C828.3 491.5 827.0 490.5 825.5 489.5C824.1 488.5 822.7 487.5 821.3 486.5C819.8 485.5 818.4 484.5 816.9 483.5C815.4 482.5 813.9 481.5 812.4 480.5C810.9 479.5 808.6 478.0 807.8 477.4Z" fill="#486c8c" fill-opacity="0.5"/>
<path d="M744.4 477.4C743.6 478.0 741.3 479.5 739.8 480.5C738.3 481.5 736.8 482.5 735.3 483.5C733.8 484.5 732.4 485.5 730.9 486.5C729.5 487.5 728.1 488.5 726.7 489.5C725.2 490.5 723.9 491.5 722.5 492.6C721.1 493.6 719.8 494.6 718.5 495.6C717.1 496.6 715.8 497.6 714.5 498.6C713.3 499.6 712.0 500.6 710.8 501.6C709.5 502.6 708.3 503.6 707.1 504.6C705.9 505.6 704.8 506.7 703.6 507.7C702.5 508.7 701.4 509.7 700.3 510.7C699.2 511.7 698.1 512.7 697.1 513.7C696.1 514.7 695.1 515.7 694.2 516.7C693.3 517.7 692.4 518.7 691.6 519.7C690.7 520.8 689.9 521.8 689.2 522.8C688.5 523.8 687.8 524.8 687.2 525.8C686.6 526.8 686.0 527.8 685.5 528.8C685.1 529.8 684.6 530.8 684.3 531.8C684.0 532.8 683.7 533.8 683.5 534.8C683.3 535.9 683.2 536.9 683.1 537.9C683.0 538.9 683.0 539.9 683.0 540.9C683.0 541.9 683.1 542.9 683.1 543.9C683.2 544.9 683.4 545.9 683.5 546.9C683.7 547.9 683.9 548.9 684.0 550.0C684.2 551.0 684.4 552.0 684.6 553.0C684.8 554.0 685.0 555.0 685.1 556.0C685.3 557.0 685.4 558.0 685.5 559.0C685.6 560.0 685.6 561.0 685.7 562.0C685.7 563.0 685.7 564.1 685.6 565.1C685.6 566.1 685.5 567.1 685.4 568.1C685.3 569.1 685.2 570.1 685.1 571.1C684.9 572.1 684.8 573.1 684.7 574.1C684.5 575.1 684.4 576.1 684.2 577.1C684.1 578.2 683.9 579.2 683.8 580.2C683.7 581.2 683.6 582.2 683.5 583.2C683.4 584.2 683.3 585.2 683.3 586.2C683.2 587.2 683.2 588.2 683.3 589.2C683.3 590.2 683.3 591.2 683.5 592.2C683.6 593.3 683.8 594.3 684.0 595.3C684.3 596.3 684.6 597.3 685.1 598.3C685.5 599.3 686.0 600.3 686.6 601.3C687.2 602.3 687.9 603.3 688.7 604.3C689.6 605.3 690.5 606.3 691.4 607.4C692.4 608.4 693.4 609.4 694.5 610.4C695.6 611.4 696.8 612.4 698.0 613.4C699.2 614.4 700.5 615.4 701.8 616.4C703.1 617.4 704.4 618.4 705.8 619.4C707.1 620.4 708.5 621.5 709.9 622.5C711.2 623.5 712.6 624.5 714.0 625.5C715.4 626.5 716.7 627.5 718.1 628.5C719.4 629.5 720.7 630.5 722.0 631.5C723.2 632.5 724.5 633.5 725.6 634.5C726.8 635.5 727.9 636.6 729.0 637.6C730.1 638.6 731.0 639.6 732.0 640.6C732.9 641.6 733.8 642.6 734.6 643.6C735.4 644.6 736.2 645.6 736.9 646.6C737.7 647.6 738.4 648.6 739.0 649.6C739.7 650.7 740.3 651.7 740.9 652.7C741.6 653.7 742.1 654.7 742.7 655.7C743.3 656.7 743.9 657.7 744.4 658.7C745.0 659.7 745.5 660.7 746.1 661.7C746.7 662.7 747.2 663.7 747.8 664.8C748.4 665.8 749.0 666.8 749.6 667.8C750.2 668.8 750.8 669.8 751.3 670.8C751.9 671.8 752.5 672.8 753.0 673.8C753.6 674.8 754.1 675.8 754.7 676.8C755.2 677.8 755.7 678.9 756.1 679.9C756.6 680.9 757.0 681.9 757.4 682.9C757.7 683.9 758.1 685.4 758.2 685.9L794.0 685.9C794.1 685.4 794.5 683.9 794.8 682.9C795.2 681.9 795.6 680.9 796.1 679.9C796.5 678.9 797.0 677.8 797.5 676.8C798.1 675.8 798.6 674.8 799.2 673.8C799.7 672.8 800.3 671.8 800.9 670.8C801.4 669.8 802.0 668.8 802.6 667.8C803.2 666.8 803.8 665.8 804.4 664.8C805.0 663.7 805.5 662.7 806.1 661.7C806.7 660.7 807.2 659.7 807.8 658.7C808.3 657.7 808.9 656.7 809.5 655.7C810.1 654.7 810.6 653.7 811.3 652.7C811.9 651.7 812.5 650.7 813.2 649.6C813.8 648.6 814.5 647.6 815.3 646.6C816.0 645.6 816.8 644.6 817.6 643.6C818.4 642.6 819.3 641.6 820.2 640.6C821.2 639.6 822.1 638.6 823.2 637.6C824.3 636.6 825.4 635.5 826.6 634.5C827.7 633.5 829.0 632.5 830.2 631.5C831.5 630.5 832.8 629.5 834.1 628.5C835.5 627.5 836.8 626.5 838.2 625.5C839.6 624.5 841.0 623.5 842.3 622.5C843.7 621.5 845.1 620.4 846.4 619.4C847.8 618.4 849.1 617.4 850.4 616.4C851.7 615.4 853.0 614.4 854.2 613.4C855.4 612.4 856.6 611.4 857.7 610.4C858.8 609.4 859.8 608.4 860.8 607.4C861.7 606.3 862.6 605.3 863.5 604.3C864.3 603.3 865.0 602.3 865.6 601.3C866.2 600.3 866.7 599.3 867.1 598.3C867.6 597.3 867.9 596.3 868.2 595.3C868.4 594.3 868.6 593.3 868.7 592.2C868.9 591.2 868.9 590.2 868.9 589.2C869.0 588.2 869.0 587.2 868.9 586.2C868.9 585.2 868.8 584.2 868.7 583.2C868.6 582.2 868.5 581.2 868.4 580.2C868.3 579.2 868.1 578.2 868.0 577.1C867.8 576.1 867.7 575.1 867.5 574.1C867.4 573.1 867.3 572.1 867.1 571.1C867.0 570.1 866.9 569.1 866.8 568.1C866.7 567.1 866.6 566.1 866.6 565.1C866.5 564.1 866.5 563.0 866.5 562.0C866.6 561.0 866.6 560.0 866.7 559.0C866.8 558.0 866.9 557.0 867.1 556.0C867.2 555.0 867.4 554.0 867.6 553.0C867.8 552.0 868.0 551.0 868.2 550.0C868.3 548.9 868.5 547.9 868.7 546.9C868.8 545.9 869.0 544.9 869.1 543.9C869.1 542.9 869.2 541.9 869.2 540.9C869.2 539.9 869.2 538.9 869.1 537.9C869.0 536.9 868.9 535.9 868.7 534.8C868.5 533.8 868.2 532.8 867.9 531.8C867.6 530.8 867.1 529.8 866.7 528.8C866.2 527.8 865.6 526.8 865.0 525.8C864.4 524.8 863.7 523.8 863.0 522.8C862.3 521.8 861.5 520.8 860.6 519.7C859.8 518.7 858.9 517.7 858.0 516.7C857.1 515.7 856.1 514.7 855.1 513.7C854.1 512.7 853.0 511.7 851.9 510.7C850.8 509.7 849.7 508.7 848.6 507.7C847.4 506.7 846.3 505.6 845.1 504.6C843.9 503.6 842.7 502.6 841.4 501.6C840.2 500.6 838.9 499.6 837.7 498.6C836.4 497.6 835.1 496.6 833.7 495.6C832.4 494.6 831.1 493.6 829.7 492.6C828.3 491.5 827.0 490.5 825.5 489.5C824.1 488.5 822.7 487.5 821.3 486.5C819.8 485.5 818.4 484.5 816.9 483.5C815.4 482.5 813.9 481.5 812.4 480.5C810.9 479.5 808.6 478.0 807.8 477.4Z" fill="none" stroke="#486c8c" stroke-opacity="0.16" stroke-width="2.4" clip-path="url(#k_l_low)"/>
<clipPath id="k_l_mid"><path d="M744.9 373.8C744.3 374.3 742.5 375.8 741.3 376.8C740.1 377.8 738.9 378.8 737.7 379.8C736.5 380.8 735.3 381.8 734.2 382.8C733.0 383.8 731.8 384.7 730.7 385.7C729.6 386.7 728.4 387.7 727.3 388.7C726.2 389.7 725.1 390.7 724.0 391.7C722.9 392.7 721.9 393.7 720.8 394.7C719.8 395.7 718.7 396.7 717.7 397.7C716.7 398.7 715.7 399.7 714.7 400.7C713.8 401.7 712.8 402.7 711.9 403.7C710.9 404.7 710.0 405.6 709.1 406.6C708.2 407.6 707.4 408.6 706.5 409.6C705.7 410.6 704.8 411.6 704.0 412.6C703.3 413.6 702.5 414.6 701.7 415.6C701.0 416.6 700.3 417.6 699.6 418.6C698.9 419.6 698.2 420.6 697.6 421.6C696.9 422.6 696.3 423.6 695.8 424.6C695.2 425.6 694.6 426.5 694.1 427.5C693.6 428.5 693.1 429.5 692.7 430.5C692.2 431.5 691.8 432.5 691.4 433.5C691.0 434.5 690.7 435.5 690.4 436.5C690.1 437.5 689.8 438.5 689.5 439.5C689.3 440.5 689.1 441.5 688.9 442.5C688.8 443.5 688.6 444.5 688.5 445.5C688.4 446.5 688.3 447.4 688.3 448.4C688.2 449.4 688.2 450.4 688.3 451.4C688.3 452.4 688.3 453.4 688.4 454.4C688.5 455.4 688.6 456.4 688.8 457.4C688.9 458.4 689.1 459.4 689.3 460.4C689.5 461.4 689.8 462.4 690.0 463.4C690.3 464.4 690.6 465.4 690.9 466.4C691.2 467.4 691.6 468.3 692.0 469.3C692.3 470.3 692.7 471.3 693.2 472.3C693.6 473.3 694.1 474.3 694.5 475.3C695.0 476.3 695.5 477.3 696.1 478.3C696.6 479.3 697.2 480.3 697.7 481.3C698.3 482.3 698.9 483.3 699.5 484.3C700.2 485.3 700.8 486.3 701.5 487.3C702.1 488.3 702.8 489.2 703.4 490.2C704.1 491.2 704.8 492.2 705.5 493.2C706.1 494.2 706.8 495.2 707.5 496.2C708.2 497.2 708.8 498.2 709.5 499.2C710.1 500.2 710.8 501.2 711.4 502.2C712.1 503.2 712.7 504.2 713.3 505.2C713.9 506.2 714.5 507.2 715.1 508.2C715.7 509.2 716.3 510.1 716.9 511.1C717.4 512.1 718.0 513.1 718.5 514.1C719.0 515.1 719.6 516.1 720.1 517.1C720.6 518.1 721.1 519.1 721.6 520.1C722.0 521.1 722.5 522.1 723.0 523.1C723.4 524.1 723.8 525.1 724.3 526.1C724.7 527.1 725.1 528.1 725.5 529.1C725.9 530.1 726.3 531.0 726.7 532.0C727.1 533.0 727.5 534.0 727.9 535.0C728.3 536.0 728.7 537.0 729.1 538.0C729.5 539.0 729.9 540.0 730.2 541.0C730.6 542.0 731.0 543.0 731.5 544.0C731.9 545.0 732.3 546.0 732.7 547.0C733.2 548.0 733.6 549.0 734.1 550.0C734.5 551.0 735.0 551.9 735.5 552.9C736.0 553.9 736.5 554.9 737.0 555.9C737.5 556.9 738.1 557.9 738.7 558.9C739.2 559.9 739.8 560.9 740.4 561.9C741.0 562.9 741.6 563.9 742.2 564.9C742.8 565.9 743.4 566.9 744.1 567.9C744.7 568.9 745.4 569.9 746.0 570.9C746.7 571.9 747.3 572.8 748.0 573.8C748.7 574.8 749.3 575.8 750.0 576.8C750.7 577.8 751.4 578.8 752.1 579.8C752.7 580.8 753.8 582.3 754.1 582.8L801.9 582.8C802.2 582.3 803.3 580.8 803.9 579.8C804.6 578.8 805.3 577.8 806.0 576.8C806.7 575.8 807.3 574.8 808.0 573.8C808.7 572.8 809.3 571.9 810.0 570.9C810.6 569.9 811.3 568.9 811.9 567.9C812.6 566.9 813.2 565.9 813.8 564.9C814.4 563.9 815.0 562.9 815.6 561.9C816.2 560.9 816.8 559.9 817.3 558.9C817.9 557.9 818.5 556.9 819.0 555.9C819.5 554.9 820.0 553.9 820.5 552.9C821.0 551.9 821.5 551.0 821.9 550.0C822.4 549.0 822.8 548.0 823.3 547.0C823.7 546.0 824.1 545.0 824.5 544.0C825.0 543.0 825.4 542.0 825.8 541.0C826.1 540.0 826.5 539.0 826.9 538.0C827.3 537.0 827.7 536.0 828.1 535.0C828.5 534.0 828.9 533.0 829.3 532.0C829.7 531.0 830.1 530.1 830.5 529.1C830.9 528.1 831.3 527.1 831.7 526.1C832.2 525.1 832.6 524.1 833.0 523.1C833.5 522.1 834.0 521.1 834.4 520.1C834.9 519.1 835.4 518.1 835.9 517.1C836.4 516.1 837.0 515.1 837.5 514.1C838.0 513.1 838.6 512.1 839.1 511.1C839.7 510.1 840.3 509.2 840.9 508.2C841.5 507.2 842.1 506.2 842.7 505.2C843.3 504.2 843.9 503.2 844.6 502.2C845.2 501.2 845.9 500.2 846.5 499.2C847.2 498.2 847.8 497.2 848.5 496.2C849.2 495.2 849.9 494.2 850.5 493.2C851.2 492.2 851.9 491.2 852.6 490.2C853.2 489.2 853.9 488.3 854.5 487.3C855.2 486.3 855.8 485.3 856.5 484.3C857.1 483.3 857.7 482.3 858.3 481.3C858.8 480.3 859.4 479.3 859.9 478.3C860.5 477.3 861.0 476.3 861.5 475.3C861.9 474.3 862.4 473.3 862.8 472.3C863.3 471.3 863.7 470.3 864.0 469.3C864.4 468.3 864.8 467.4 865.1 466.4C865.4 465.4 865.7 464.4 866.0 463.4C866.2 462.4 866.5 461.4 866.7 460.4C866.9 459.4 867.1 458.4 867.2 457.4C867.4 456.4 867.5 455.4 867.6 454.4C867.7 453.4 867.7 452.4 867.7 451.4C867.8 450.4 867.8 449.4 867.7 448.4C867.7 447.4 867.6 446.5 867.5 445.5C867.4 444.5 867.2 443.5 867.1 442.5C866.9 441.5 866.7 440.5 866.5 439.5C866.2 438.5 865.9 437.5 865.6 436.5C865.3 435.5 865.0 434.5 864.6 433.5C864.2 432.5 863.8 431.5 863.3 430.5C862.9 429.5 862.4 428.5 861.9 427.5C861.4 426.5 860.8 425.6 860.2 424.6C859.7 423.6 859.1 422.6 858.4 421.6C857.8 420.6 857.1 419.6 856.4 418.6C855.7 417.6 855.0 416.6 854.3 415.6C853.5 414.6 852.7 413.6 852.0 412.6C851.2 411.6 850.3 410.6 849.5 409.6C848.6 408.6 847.8 407.6 846.9 406.6C846.0 405.6 845.1 404.7 844.1 403.7C843.2 402.7 842.2 401.7 841.3 400.7C840.3 399.7 839.3 398.7 838.3 397.7C837.3 396.7 836.2 395.7 835.2 394.7C834.1 393.7 833.1 392.7 832.0 391.7C830.9 390.7 829.8 389.7 828.7 388.7C827.6 387.7 826.4 386.7 825.3 385.7C824.2 384.7 823.0 383.8 821.8 382.8C820.7 381.8 819.5 380.8 818.3 379.8C817.1 378.8 815.9 377.8 814.7 376.8C813.5 375.8 811.7 374.3 811.1 373.8Z"/></clipPath>
<path d="M744.9 373.8C744.3 374.3 742.5 375.8 741.3 376.8C740.1 377.8 738.9 378.8 737.7 379.8C736.5 380.8 735.3 381.8 734.2 382.8C733.0 383.8 731.8 384.7 730.7 385.7C729.6 386.7 728.4 387.7 727.3 388.7C726.2 389.7 725.1 390.7 724.0 391.7C722.9 392.7 721.9 393.7 720.8 394.7C719.8 395.7 718.7 396.7 717.7 397.7C716.7 398.7 715.7 399.7 714.7 400.7C713.8 401.7 712.8 402.7 711.9 403.7C710.9 404.7 710.0 405.6 709.1 406.6C708.2 407.6 707.4 408.6 706.5 409.6C705.7 410.6 704.8 411.6 704.0 412.6C703.3 413.6 702.5 414.6 701.7 415.6C701.0 416.6 700.3 417.6 699.6 418.6C698.9 419.6 698.2 420.6 697.6 421.6C696.9 422.6 696.3 423.6 695.8 424.6C695.2 425.6 694.6 426.5 694.1 427.5C693.6 428.5 693.1 429.5 692.7 430.5C692.2 431.5 691.8 432.5 691.4 433.5C691.0 434.5 690.7 435.5 690.4 436.5C690.1 437.5 689.8 438.5 689.5 439.5C689.3 440.5 689.1 441.5 688.9 442.5C688.8 443.5 688.6 444.5 688.5 445.5C688.4 446.5 688.3 447.4 688.3 448.4C688.2 449.4 688.2 450.4 688.3 451.4C688.3 452.4 688.3 453.4 688.4 454.4C688.5 455.4 688.6 456.4 688.8 457.4C688.9 458.4 689.1 459.4 689.3 460.4C689.5 461.4 689.8 462.4 690.0 463.4C690.3 464.4 690.6 465.4 690.9 466.4C691.2 467.4 691.6 468.3 692.0 469.3C692.3 470.3 692.7 471.3 693.2 472.3C693.6 473.3 694.1 474.3 694.5 475.3C695.0 476.3 695.5 477.3 696.1 478.3C696.6 479.3 697.2 480.3 697.7 481.3C698.3 482.3 698.9 483.3 699.5 484.3C700.2 485.3 700.8 486.3 701.5 487.3C702.1 488.3 702.8 489.2 703.4 490.2C704.1 491.2 704.8 492.2 705.5 493.2C706.1 494.2 706.8 495.2 707.5 496.2C708.2 497.2 708.8 498.2 709.5 499.2C710.1 500.2 710.8 501.2 711.4 502.2C712.1 503.2 712.7 504.2 713.3 505.2C713.9 506.2 714.5 507.2 715.1 508.2C715.7 509.2 716.3 510.1 716.9 511.1C717.4 512.1 718.0 513.1 718.5 514.1C719.0 515.1 719.6 516.1 720.1 517.1C720.6 518.1 721.1 519.1 721.6 520.1C722.0 521.1 722.5 522.1 723.0 523.1C723.4 524.1 723.8 525.1 724.3 526.1C724.7 527.1 725.1 528.1 725.5 529.1C725.9 530.1 726.3 531.0 726.7 532.0C727.1 533.0 727.5 534.0 727.9 535.0C728.3 536.0 728.7 537.0 729.1 538.0C729.5 539.0 729.9 540.0 730.2 541.0C730.6 542.0 731.0 543.0 731.5 544.0C731.9 545.0 732.3 546.0 732.7 547.0C733.2 548.0 733.6 549.0 734.1 550.0C734.5 551.0 735.0 551.9 735.5 552.9C736.0 553.9 736.5 554.9 737.0 555.9C737.5 556.9 738.1 557.9 738.7 558.9C739.2 559.9 739.8 560.9 740.4 561.9C741.0 562.9 741.6 563.9 742.2 564.9C742.8 565.9 743.4 566.9 744.1 567.9C744.7 568.9 745.4 569.9 746.0 570.9C746.7 571.9 747.3 572.8 748.0 573.8C748.7 574.8 749.3 575.8 750.0 576.8C750.7 577.8 751.4 578.8 752.1 579.8C752.7 580.8 753.8 582.3 754.1 582.8L801.9 582.8C802.2 582.3 803.3 580.8 803.9 579.8C804.6 578.8 805.3 577.8 806.0 576.8C806.7 575.8 807.3 574.8 808.0 573.8C808.7 572.8 809.3 571.9 810.0 570.9C810.6 569.9 811.3 568.9 811.9 567.9C812.6 566.9 813.2 565.9 813.8 564.9C814.4 563.9 815.0 562.9 815.6 561.9C816.2 560.9 816.8 559.9 817.3 558.9C817.9 557.9 818.5 556.9 819.0 555.9C819.5 554.9 820.0 553.9 820.5 552.9C821.0 551.9 821.5 551.0 821.9 550.0C822.4 549.0 822.8 548.0 823.3 547.0C823.7 546.0 824.1 545.0 824.5 544.0C825.0 543.0 825.4 542.0 825.8 541.0C826.1 540.0 826.5 539.0 826.9 538.0C827.3 537.0 827.7 536.0 828.1 535.0C828.5 534.0 828.9 533.0 829.3 532.0C829.7 531.0 830.1 530.1 830.5 529.1C830.9 528.1 831.3 527.1 831.7 526.1C832.2 525.1 832.6 524.1 833.0 523.1C833.5 522.1 834.0 521.1 834.4 520.1C834.9 519.1 835.4 518.1 835.9 517.1C836.4 516.1 837.0 515.1 837.5 514.1C838.0 513.1 838.6 512.1 839.1 511.1C839.7 510.1 840.3 509.2 840.9 508.2C841.5 507.2 842.1 506.2 842.7 505.2C843.3 504.2 843.9 503.2 844.6 502.2C845.2 501.2 845.9 500.2 846.5 499.2C847.2 498.2 847.8 497.2 848.5 496.2C849.2 495.2 849.9 494.2 850.5 493.2C851.2 492.2 851.9 491.2 852.6 490.2C853.2 489.2 853.9 488.3 854.5 487.3C855.2 486.3 855.8 485.3 856.5 484.3C857.1 483.3 857.7 482.3 858.3 481.3C858.8 480.3 859.4 479.3 859.9 478.3C860.5 477.3 861.0 476.3 861.5 475.3C861.9 474.3 862.4 473.3 862.8 472.3C863.3 471.3 863.7 470.3 864.0 469.3C864.4 468.3 864.8 467.4 865.1 466.4C865.4 465.4 865.7 464.4 866.0 463.4C866.2 462.4 866.5 461.4 866.7 460.4C866.9 459.4 867.1 458.4 867.2 457.4C867.4 456.4 867.5 455.4 867.6 454.4C867.7 453.4 867.7 452.4 867.7 451.4C867.8 450.4 867.8 449.4 867.7 448.4C867.7 447.4 867.6 446.5 867.5 445.5C867.4 444.5 867.2 443.5 867.1 442.5C866.9 441.5 866.7 440.5 866.5 439.5C866.2 438.5 865.9 437.5 865.6 436.5C865.3 435.5 865.0 434.5 864.6 433.5C864.2 432.5 863.8 431.5 863.3 430.5C862.9 429.5 862.4 428.5 861.9 427.5C861.4 426.5 860.8 425.6 860.2 424.6C859.7 423.6 859.1 422.6 858.4 421.6C857.8 420.6 857.1 419.6 856.4 418.6C855.7 417.6 855.0 416.6 854.3 415.6C853.5 414.6 852.7 413.6 852.0 412.6C851.2 411.6 850.3 410.6 849.5 409.6C848.6 408.6 847.8 407.6 846.9 406.6C846.0 405.6 845.1 404.7 844.1 403.7C843.2 402.7 842.2 401.7 841.3 400.7C840.3 399.7 839.3 398.7 838.3 397.7C837.3 396.7 836.2 395.7 835.2 394.7C834.1 393.7 833.1 392.7 832.0 391.7C830.9 390.7 829.8 389.7 828.7 388.7C827.6 387.7 826.4 386.7 825.3 385.7C824.2 384.7 823.0 383.8 821.8 382.8C820.7 381.8 819.5 380.8 818.3 379.8C817.1 378.8 815.9 377.8 814.7 376.8C813.5 375.8 811.7 374.3 811.1 373.8Z" fill="#a65d62" fill-opacity="0.5"/>
<path d="M744.9 373.8C744.3 374.3 742.5 375.8 741.3 376.8C740.1 377.8 738.9 378.8 737.7 379.8C736.5 380.8 735.3 381.8 734.2 382.8C733.0 383.8 731.8 384.7 730.7 385.7C729.6 386.7 728.4 387.7 727.3 388.7C726.2 389.7 725.1 390.7 724.0 391.7C722.9 392.7 721.9 393.7 720.8 394.7C719.8 395.7 718.7 396.7 717.7 397.7C716.7 398.7 715.7 399.7 714.7 400.7C713.8 401.7 712.8 402.7 711.9 403.7C710.9 404.7 710.0 405.6 709.1 406.6C708.2 407.6 707.4 408.6 706.5 409.6C705.7 410.6 704.8 411.6 704.0 412.6C703.3 413.6 702.5 414.6 701.7 415.6C701.0 416.6 700.3 417.6 699.6 418.6C698.9 419.6 698.2 420.6 697.6 421.6C696.9 422.6 696.3 423.6 695.8 424.6C695.2 425.6 694.6 426.5 694.1 427.5C693.6 428.5 693.1 429.5 692.7 430.5C692.2 431.5 691.8 432.5 691.4 433.5C691.0 434.5 690.7 435.5 690.4 436.5C690.1 437.5 689.8 438.5 689.5 439.5C689.3 440.5 689.1 441.5 688.9 442.5C688.8 443.5 688.6 444.5 688.5 445.5C688.4 446.5 688.3 447.4 688.3 448.4C688.2 449.4 688.2 450.4 688.3 451.4C688.3 452.4 688.3 453.4 688.4 454.4C688.5 455.4 688.6 456.4 688.8 457.4C688.9 458.4 689.1 459.4 689.3 460.4C689.5 461.4 689.8 462.4 690.0 463.4C690.3 464.4 690.6 465.4 690.9 466.4C691.2 467.4 691.6 468.3 692.0 469.3C692.3 470.3 692.7 471.3 693.2 472.3C693.6 473.3 694.1 474.3 694.5 475.3C695.0 476.3 695.5 477.3 696.1 478.3C696.6 479.3 697.2 480.3 697.7 481.3C698.3 482.3 698.9 483.3 699.5 484.3C700.2 485.3 700.8 486.3 701.5 487.3C702.1 488.3 702.8 489.2 703.4 490.2C704.1 491.2 704.8 492.2 705.5 493.2C706.1 494.2 706.8 495.2 707.5 496.2C708.2 497.2 708.8 498.2 709.5 499.2C710.1 500.2 710.8 501.2 711.4 502.2C712.1 503.2 712.7 504.2 713.3 505.2C713.9 506.2 714.5 507.2 715.1 508.2C715.7 509.2 716.3 510.1 716.9 511.1C717.4 512.1 718.0 513.1 718.5 514.1C719.0 515.1 719.6 516.1 720.1 517.1C720.6 518.1 721.1 519.1 721.6 520.1C722.0 521.1 722.5 522.1 723.0 523.1C723.4 524.1 723.8 525.1 724.3 526.1C724.7 527.1 725.1 528.1 725.5 529.1C725.9 530.1 726.3 531.0 726.7 532.0C727.1 533.0 727.5 534.0 727.9 535.0C728.3 536.0 728.7 537.0 729.1 538.0C729.5 539.0 729.9 540.0 730.2 541.0C730.6 542.0 731.0 543.0 731.5 544.0C731.9 545.0 732.3 546.0 732.7 547.0C733.2 548.0 733.6 549.0 734.1 550.0C734.5 551.0 735.0 551.9 735.5 552.9C736.0 553.9 736.5 554.9 737.0 555.9C737.5 556.9 738.1 557.9 738.7 558.9C739.2 559.9 739.8 560.9 740.4 561.9C741.0 562.9 741.6 563.9 742.2 564.9C742.8 565.9 743.4 566.9 744.1 567.9C744.7 568.9 745.4 569.9 746.0 570.9C746.7 571.9 747.3 572.8 748.0 573.8C748.7 574.8 749.3 575.8 750.0 576.8C750.7 577.8 751.4 578.8 752.1 579.8C752.7 580.8 753.8 582.3 754.1 582.8L801.9 582.8C802.2 582.3 803.3 580.8 803.9 579.8C804.6 578.8 805.3 577.8 806.0 576.8C806.7 575.8 807.3 574.8 808.0 573.8C808.7 572.8 809.3 571.9 810.0 570.9C810.6 569.9 811.3 568.9 811.9 567.9C812.6 566.9 813.2 565.9 813.8 564.9C814.4 563.9 815.0 562.9 815.6 561.9C816.2 560.9 816.8 559.9 817.3 558.9C817.9 557.9 818.5 556.9 819.0 555.9C819.5 554.9 820.0 553.9 820.5 552.9C821.0 551.9 821.5 551.0 821.9 550.0C822.4 549.0 822.8 548.0 823.3 547.0C823.7 546.0 824.1 545.0 824.5 544.0C825.0 543.0 825.4 542.0 825.8 541.0C826.1 540.0 826.5 539.0 826.9 538.0C827.3 537.0 827.7 536.0 828.1 535.0C828.5 534.0 828.9 533.0 829.3 532.0C829.7 531.0 830.1 530.1 830.5 529.1C830.9 528.1 831.3 527.1 831.7 526.1C832.2 525.1 832.6 524.1 833.0 523.1C833.5 522.1 834.0 521.1 834.4 520.1C834.9 519.1 835.4 518.1 835.9 517.1C836.4 516.1 837.0 515.1 837.5 514.1C838.0 513.1 838.6 512.1 839.1 511.1C839.7 510.1 840.3 509.2 840.9 508.2C841.5 507.2 842.1 506.2 842.7 505.2C843.3 504.2 843.9 503.2 844.6 502.2C845.2 501.2 845.9 500.2 846.5 499.2C847.2 498.2 847.8 497.2 848.5 496.2C849.2 495.2 849.9 494.2 850.5 493.2C851.2 492.2 851.9 491.2 852.6 490.2C853.2 489.2 853.9 488.3 854.5 487.3C855.2 486.3 855.8 485.3 856.5 484.3C857.1 483.3 857.7 482.3 858.3 481.3C858.8 480.3 859.4 479.3 859.9 478.3C860.5 477.3 861.0 476.3 861.5 475.3C861.9 474.3 862.4 473.3 862.8 472.3C863.3 471.3 863.7 470.3 864.0 469.3C864.4 468.3 864.8 467.4 865.1 466.4C865.4 465.4 865.7 464.4 866.0 463.4C866.2 462.4 866.5 461.4 866.7 460.4C866.9 459.4 867.1 458.4 867.2 457.4C867.4 456.4 867.5 455.4 867.6 454.4C867.7 453.4 867.7 452.4 867.7 451.4C867.8 450.4 867.8 449.4 867.7 448.4C867.7 447.4 867.6 446.5 867.5 445.5C867.4 444.5 867.2 443.5 867.1 442.5C866.9 441.5 866.7 440.5 866.5 439.5C866.2 438.5 865.9 437.5 865.6 436.5C865.3 435.5 865.0 434.5 864.6 433.5C864.2 432.5 863.8 431.5 863.3 430.5C862.9 429.5 862.4 428.5 861.9 427.5C861.4 426.5 860.8 425.6 860.2 424.6C859.7 423.6 859.1 422.6 858.4 421.6C857.8 420.6 857.1 419.6 856.4 418.6C855.7 417.6 855.0 416.6 854.3 415.6C853.5 414.6 852.7 413.6 852.0 412.6C851.2 411.6 850.3 410.6 849.5 409.6C848.6 408.6 847.8 407.6 846.9 406.6C846.0 405.6 845.1 404.7 844.1 403.7C843.2 402.7 842.2 401.7 841.3 400.7C840.3 399.7 839.3 398.7 838.3 397.7C837.3 396.7 836.2 395.7 835.2 394.7C834.1 393.7 833.1 392.7 832.0 391.7C830.9 390.7 829.8 389.7 828.7 388.7C827.6 387.7 826.4 386.7 825.3 385.7C824.2 384.7 823.0 383.8 821.8 382.8C820.7 381.8 819.5 380.8 818.3 379.8C817.1 378.8 815.9 377.8 814.7 376.8C813.5 375.8 811.7 374.3 811.1 373.8Z" fill="none" stroke="#a65d62" stroke-opacity="0.16" stroke-width="2.4" clip-path="url(#k_l_mid)"/>
<clipPath id="k_l_high"><path d="M754.4 262.9C753.9 263.4 752.5 264.9 751.7 265.9C750.8 266.9 750.1 267.9 749.4 268.9C748.7 269.9 748.2 270.9 747.7 271.9C747.1 272.9 746.7 273.9 746.4 274.9C746.1 275.9 745.8 276.9 745.6 277.9C745.5 278.9 745.4 279.9 745.4 281.0C745.4 282.0 745.5 283.0 745.6 284.0C745.8 285.0 746.0 286.0 746.2 287.0C746.4 288.0 746.7 289.0 747.0 290.0C747.3 291.0 747.6 292.0 747.9 293.0C748.1 294.0 748.4 295.0 748.6 296.0C748.8 297.0 748.9 298.0 748.9 299.0C748.8 300.0 748.7 301.0 748.4 302.0C748.1 303.0 747.6 304.0 747.0 305.0C746.3 306.0 745.4 307.0 744.5 308.0C743.5 309.0 742.4 310.0 741.2 311.0C740.1 312.0 738.8 313.0 737.4 314.0C736.1 315.0 734.7 316.1 733.3 317.1C731.8 318.1 730.3 319.1 728.7 320.1C727.1 321.1 725.4 322.1 723.6 323.1C721.9 324.1 720.0 325.1 718.1 326.1C716.2 327.1 714.2 328.1 712.1 329.1C710.0 330.1 707.8 331.1 705.4 332.1C703.1 333.1 700.7 334.1 698.2 335.1C695.7 336.1 693.0 337.1 690.3 338.1C687.5 339.1 684.6 340.1 681.7 341.1C678.7 342.1 675.7 343.1 672.6 344.1C669.6 345.1 666.4 346.1 663.4 347.1C660.3 348.1 657.2 349.1 654.1 350.1C651.1 351.2 648.1 352.2 645.2 353.2C642.4 354.2 639.5 355.2 636.9 356.2C634.3 357.2 631.7 358.2 629.4 359.2C627.1 360.2 625.0 361.2 623.1 362.2C621.3 363.2 619.7 364.2 618.4 365.2C617.2 366.2 616.2 367.2 615.7 368.2C615.1 369.2 615.0 370.2 615.2 371.2C615.5 372.2 616.2 373.2 617.1 374.2C618.1 375.2 619.4 376.2 620.9 377.2C622.3 378.2 624.1 379.2 626.0 380.2C627.8 381.2 629.9 382.2 631.9 383.2C634.0 384.2 636.1 385.3 638.2 386.3C640.2 387.3 642.2 388.3 644.1 389.3C646.1 390.3 647.9 391.3 649.6 392.3C651.4 393.3 653.0 394.3 654.6 395.3C656.2 396.3 657.7 397.3 659.2 398.3C660.7 399.3 662.1 400.3 663.6 401.3C665.0 402.3 666.4 403.3 667.8 404.3C669.2 405.3 670.6 406.3 672.1 407.3C673.5 408.3 675.0 409.3 676.6 410.3C678.2 411.3 679.8 412.3 681.5 413.3C683.2 414.3 685.1 415.3 687.0 416.3C688.9 417.3 690.9 418.3 693.0 419.3C695.1 420.4 697.3 421.4 699.5 422.4C701.8 423.4 704.1 424.4 706.5 425.4C708.9 426.4 711.3 427.4 713.8 428.4C716.4 429.4 718.9 430.4 721.5 431.4C724.1 432.4 726.7 433.4 729.4 434.4C732.0 435.4 736.1 436.9 737.4 437.4L817.2 437.4C818.5 436.9 822.6 435.4 825.2 434.4C827.9 433.4 830.5 432.4 833.1 431.4C835.6 430.4 838.2 429.4 840.7 428.4C843.2 427.4 845.6 426.4 848.0 425.4C850.3 424.4 852.6 423.4 854.9 422.4C857.1 421.4 859.3 420.4 861.3 419.3C863.4 418.3 865.4 417.3 867.2 416.3C869.1 415.3 870.9 414.3 872.6 413.3C874.3 412.3 875.9 411.3 877.4 410.3C879.0 409.3 880.4 408.3 881.8 407.3C883.3 406.3 884.6 405.3 886.0 404.3C887.4 403.3 888.7 402.3 890.1 401.3C891.5 400.3 892.9 399.3 894.3 398.3C895.8 397.3 897.3 396.3 898.9 395.3C900.4 394.3 902.1 393.3 903.8 392.3C905.5 391.3 907.3 390.3 909.2 389.3C911.0 388.3 913.1 387.3 915.1 386.3C917.1 385.3 919.2 384.2 921.2 383.2C923.3 382.2 925.3 381.2 927.1 380.2C929.0 379.2 930.8 378.2 932.2 377.2C933.7 376.2 935.0 375.2 936.0 374.2C936.9 373.2 937.6 372.2 937.9 371.2C938.1 370.2 938.0 369.2 937.4 368.2C936.9 367.2 935.9 366.2 934.7 365.2C933.4 364.2 931.8 363.2 930.0 362.2C928.1 361.2 926.0 360.2 923.7 359.2C921.4 358.2 918.8 357.2 916.2 356.2C913.6 355.2 910.7 354.2 907.9 353.2C905.0 352.2 902.0 351.2 899.0 350.1C895.9 349.1 892.8 348.1 889.7 347.1C886.7 346.1 883.5 345.1 880.5 344.1C877.4 343.1 874.4 342.1 871.4 341.1C868.5 340.1 865.6 339.1 862.8 338.1C860.1 337.1 857.4 336.1 854.9 335.1C852.4 334.1 850.0 333.1 847.7 332.1C845.3 331.1 843.1 330.1 841.0 329.1C838.9 328.1 836.9 327.1 835.0 326.1C833.1 325.1 831.2 324.1 829.5 323.1C827.7 322.1 826.0 321.1 824.4 320.1C822.8 319.1 821.3 318.1 819.8 317.1C818.4 316.1 817.0 315.0 815.7 314.0C814.3 313.0 813.0 312.0 811.9 311.0C810.7 310.0 809.6 309.0 808.6 308.0C807.7 307.0 806.8 306.0 806.1 305.0C805.5 304.0 805.0 303.0 804.7 302.0C804.4 301.0 804.3 300.0 804.2 299.0C804.2 298.0 804.3 297.0 804.5 296.0C804.7 295.0 805.0 294.0 805.2 293.0C805.5 292.0 805.8 291.0 806.1 290.0C806.4 289.0 806.7 288.0 806.9 287.0C807.1 286.0 807.3 285.0 807.5 284.0C807.6 283.0 807.7 282.0 807.7 281.0C807.7 279.9 807.6 278.9 807.5 277.9C807.3 276.9 807.0 275.9 806.7 274.9C806.4 273.9 806.0 272.9 805.4 271.9C804.9 270.9 804.4 269.9 803.7 268.9C803.0 267.9 802.3 266.9 801.4 265.9C800.6 264.9 799.2 263.4 798.7 262.9Z"/></clipPath>
<path d="M754.4 262.9C753.9 263.4 752.5 264.9 751.7 265.9C750.8 266.9 750.1 267.9 749.4 268.9C748.7 269.9 748.2 270.9 747.7 271.9C747.1 272.9 746.7 273.9 746.4 274.9C746.1 275.9 745.8 276.9 745.6 277.9C745.5 278.9 745.4 279.9 745.4 281.0C745.4 282.0 745.5 283.0 745.6 284.0C745.8 285.0 746.0 286.0 746.2 287.0C746.4 288.0 746.7 289.0 747.0 290.0C747.3 291.0 747.6 292.0 747.9 293.0C748.1 294.0 748.4 295.0 748.6 296.0C748.8 297.0 748.9 298.0 748.9 299.0C748.8 300.0 748.7 301.0 748.4 302.0C748.1 303.0 747.6 304.0 747.0 305.0C746.3 306.0 745.4 307.0 744.5 308.0C743.5 309.0 742.4 310.0 741.2 311.0C740.1 312.0 738.8 313.0 737.4 314.0C736.1 315.0 734.7 316.1 733.3 317.1C731.8 318.1 730.3 319.1 728.7 320.1C727.1 321.1 725.4 322.1 723.6 323.1C721.9 324.1 720.0 325.1 718.1 326.1C716.2 327.1 714.2 328.1 712.1 329.1C710.0 330.1 707.8 331.1 705.4 332.1C703.1 333.1 700.7 334.1 698.2 335.1C695.7 336.1 693.0 337.1 690.3 338.1C687.5 339.1 684.6 340.1 681.7 341.1C678.7 342.1 675.7 343.1 672.6 344.1C669.6 345.1 666.4 346.1 663.4 347.1C660.3 348.1 657.2 349.1 654.1 350.1C651.1 351.2 648.1 352.2 645.2 353.2C642.4 354.2 639.5 355.2 636.9 356.2C634.3 357.2 631.7 358.2 629.4 359.2C627.1 360.2 625.0 361.2 623.1 362.2C621.3 363.2 619.7 364.2 618.4 365.2C617.2 366.2 616.2 367.2 615.7 368.2C615.1 369.2 615.0 370.2 615.2 371.2C615.5 372.2 616.2 373.2 617.1 374.2C618.1 375.2 619.4 376.2 620.9 377.2C622.3 378.2 624.1 379.2 626.0 380.2C627.8 381.2 629.9 382.2 631.9 383.2C634.0 384.2 636.1 385.3 638.2 386.3C640.2 387.3 642.2 388.3 644.1 389.3C646.1 390.3 647.9 391.3 649.6 392.3C651.4 393.3 653.0 394.3 654.6 395.3C656.2 396.3 657.7 397.3 659.2 398.3C660.7 399.3 662.1 400.3 663.6 401.3C665.0 402.3 666.4 403.3 667.8 404.3C669.2 405.3 670.6 406.3 672.1 407.3C673.5 408.3 675.0 409.3 676.6 410.3C678.2 411.3 679.8 412.3 681.5 413.3C683.2 414.3 685.1 415.3 687.0 416.3C688.9 417.3 690.9 418.3 693.0 419.3C695.1 420.4 697.3 421.4 699.5 422.4C701.8 423.4 704.1 424.4 706.5 425.4C708.9 426.4 711.3 427.4 713.8 428.4C716.4 429.4 718.9 430.4 721.5 431.4C724.1 432.4 726.7 433.4 729.4 434.4C732.0 435.4 736.1 436.9 737.4 437.4L817.2 437.4C818.5 436.9 822.6 435.4 825.2 434.4C827.9 433.4 830.5 432.4 833.1 431.4C835.6 430.4 838.2 429.4 840.7 428.4C843.2 427.4 845.6 426.4 848.0 425.4C850.3 424.4 852.6 423.4 854.9 422.4C857.1 421.4 859.3 420.4 861.3 419.3C863.4 418.3 865.4 417.3 867.2 416.3C869.1 415.3 870.9 414.3 872.6 413.3C874.3 412.3 875.9 411.3 877.4 410.3C879.0 409.3 880.4 408.3 881.8 407.3C883.3 406.3 884.6 405.3 886.0 404.3C887.4 403.3 888.7 402.3 890.1 401.3C891.5 400.3 892.9 399.3 894.3 398.3C895.8 397.3 897.3 396.3 898.9 395.3C900.4 394.3 902.1 393.3 903.8 392.3C905.5 391.3 907.3 390.3 909.2 389.3C911.0 388.3 913.1 387.3 915.1 386.3C917.1 385.3 919.2 384.2 921.2 383.2C923.3 382.2 925.3 381.2 927.1 380.2C929.0 379.2 930.8 378.2 932.2 377.2C933.7 376.2 935.0 375.2 936.0 374.2C936.9 373.2 937.6 372.2 937.9 371.2C938.1 370.2 938.0 369.2 937.4 368.2C936.9 367.2 935.9 366.2 934.7 365.2C933.4 364.2 931.8 363.2 930.0 362.2C928.1 361.2 926.0 360.2 923.7 359.2C921.4 358.2 918.8 357.2 916.2 356.2C913.6 355.2 910.7 354.2 907.9 353.2C905.0 352.2 902.0 351.2 899.0 350.1C895.9 349.1 892.8 348.1 889.7 347.1C886.7 346.1 883.5 345.1 880.5 344.1C877.4 343.1 874.4 342.1 871.4 341.1C868.5 340.1 865.6 339.1 862.8 338.1C860.1 337.1 857.4 336.1 854.9 335.1C852.4 334.1 850.0 333.1 847.7 332.1C845.3 331.1 843.1 330.1 841.0 329.1C838.9 328.1 836.9 327.1 835.0 326.1C833.1 325.1 831.2 324.1 829.5 323.1C827.7 322.1 826.0 321.1 824.4 320.1C822.8 319.1 821.3 318.1 819.8 317.1C818.4 316.1 817.0 315.0 815.7 314.0C814.3 313.0 813.0 312.0 811.9 311.0C810.7 310.0 809.6 309.0 808.6 308.0C807.7 307.0 806.8 306.0 806.1 305.0C805.5 304.0 805.0 303.0 804.7 302.0C804.4 301.0 804.3 300.0 804.2 299.0C804.2 298.0 804.3 297.0 804.5 296.0C804.7 295.0 805.0 294.0 805.2 293.0C805.5 292.0 805.8 291.0 806.1 290.0C806.4 289.0 806.7 288.0 806.9 287.0C807.1 286.0 807.3 285.0 807.5 284.0C807.6 283.0 807.7 282.0 807.7 281.0C807.7 279.9 807.6 278.9 807.5 277.9C807.3 276.9 807.0 275.9 806.7 274.9C806.4 273.9 806.0 272.9 805.4 271.9C804.9 270.9 804.4 269.9 803.7 268.9C803.0 267.9 802.3 266.9 801.4 265.9C800.6 264.9 799.2 263.4 798.7 262.9Z" fill="#779159" fill-opacity="0.5"/>
<path d="M754.4 262.9C753.9 263.4 752.5 264.9 751.7 265.9C750.8 266.9 750.1 267.9 749.4 268.9C748.7 269.9 748.2 270.9 747.7 271.9C747.1 272.9 746.7 273.9 746.4 274.9C746.1 275.9 745.8 276.9 745.6 277.9C745.5 278.9 745.4 279.9 745.4 281.0C745.4 282.0 745.5 283.0 745.6 284.0C745.8 285.0 746.0 286.0 746.2 287.0C746.4 288.0 746.7 289.0 747.0 290.0C747.3 291.0 747.6 292.0 747.9 293.0C748.1 294.0 748.4 295.0 748.6 296.0C748.8 297.0 748.9 298.0 748.9 299.0C748.8 300.0 748.7 301.0 748.4 302.0C748.1 303.0 747.6 304.0 747.0 305.0C746.3 306.0 745.4 307.0 744.5 308.0C743.5 309.0 742.4 310.0 741.2 311.0C740.1 312.0 738.8 313.0 737.4 314.0C736.1 315.0 734.7 316.1 733.3 317.1C731.8 318.1 730.3 319.1 728.7 320.1C727.1 321.1 725.4 322.1 723.6 323.1C721.9 324.1 720.0 325.1 718.1 326.1C716.2 327.1 714.2 328.1 712.1 329.1C710.0 330.1 707.8 331.1 705.4 332.1C703.1 333.1 700.7 334.1 698.2 335.1C695.7 336.1 693.0 337.1 690.3 338.1C687.5 339.1 684.6 340.1 681.7 341.1C678.7 342.1 675.7 343.1 672.6 344.1C669.6 345.1 666.4 346.1 663.4 347.1C660.3 348.1 657.2 349.1 654.1 350.1C651.1 351.2 648.1 352.2 645.2 353.2C642.4 354.2 639.5 355.2 636.9 356.2C634.3 357.2 631.7 358.2 629.4 359.2C627.1 360.2 625.0 361.2 623.1 362.2C621.3 363.2 619.7 364.2 618.4 365.2C617.2 366.2 616.2 367.2 615.7 368.2C615.1 369.2 615.0 370.2 615.2 371.2C615.5 372.2 616.2 373.2 617.1 374.2C618.1 375.2 619.4 376.2 620.9 377.2C622.3 378.2 624.1 379.2 626.0 380.2C627.8 381.2 629.9 382.2 631.9 383.2C634.0 384.2 636.1 385.3 638.2 386.3C640.2 387.3 642.2 388.3 644.1 389.3C646.1 390.3 647.9 391.3 649.6 392.3C651.4 393.3 653.0 394.3 654.6 395.3C656.2 396.3 657.7 397.3 659.2 398.3C660.7 399.3 662.1 400.3 663.6 401.3C665.0 402.3 666.4 403.3 667.8 404.3C669.2 405.3 670.6 406.3 672.1 407.3C673.5 408.3 675.0 409.3 676.6 410.3C678.2 411.3 679.8 412.3 681.5 413.3C683.2 414.3 685.1 415.3 687.0 416.3C688.9 417.3 690.9 418.3 693.0 419.3C695.1 420.4 697.3 421.4 699.5 422.4C701.8 423.4 704.1 424.4 706.5 425.4C708.9 426.4 711.3 427.4 713.8 428.4C716.4 429.4 718.9 430.4 721.5 431.4C724.1 432.4 726.7 433.4 729.4 434.4C732.0 435.4 736.1 436.9 737.4 437.4L817.2 437.4C818.5 436.9 822.6 435.4 825.2 434.4C827.9 433.4 830.5 432.4 833.1 431.4C835.6 430.4 838.2 429.4 840.7 428.4C843.2 427.4 845.6 426.4 848.0 425.4C850.3 424.4 852.6 423.4 854.9 422.4C857.1 421.4 859.3 420.4 861.3 419.3C863.4 418.3 865.4 417.3 867.2 416.3C869.1 415.3 870.9 414.3 872.6 413.3C874.3 412.3 875.9 411.3 877.4 410.3C879.0 409.3 880.4 408.3 881.8 407.3C883.3 406.3 884.6 405.3 886.0 404.3C887.4 403.3 888.7 402.3 890.1 401.3C891.5 400.3 892.9 399.3 894.3 398.3C895.8 397.3 897.3 396.3 898.9 395.3C900.4 394.3 902.1 393.3 903.8 392.3C905.5 391.3 907.3 390.3 909.2 389.3C911.0 388.3 913.1 387.3 915.1 386.3C917.1 385.3 919.2 384.2 921.2 383.2C923.3 382.2 925.3 381.2 927.1 380.2C929.0 379.2 930.8 378.2 932.2 377.2C933.7 376.2 935.0 375.2 936.0 374.2C936.9 373.2 937.6 372.2 937.9 371.2C938.1 370.2 938.0 369.2 937.4 368.2C936.9 367.2 935.9 366.2 934.7 365.2C933.4 364.2 931.8 363.2 930.0 362.2C928.1 361.2 926.0 360.2 923.7 359.2C921.4 358.2 918.8 357.2 916.2 356.2C913.6 355.2 910.7 354.2 907.9 353.2C905.0 352.2 902.0 351.2 899.0 350.1C895.9 349.1 892.8 348.1 889.7 347.1C886.7 346.1 883.5 345.1 880.5 344.1C877.4 343.1 874.4 342.1 871.4 341.1C868.5 340.1 865.6 339.1 862.8 338.1C860.1 337.1 857.4 336.1 854.9 335.1C852.4 334.1 850.0 333.1 847.7 332.1C845.3 331.1 843.1 330.1 841.0 329.1C838.9 328.1 836.9 327.1 835.0 326.1C833.1 325.1 831.2 324.1 829.5 323.1C827.7 322.1 826.0 321.1 824.4 320.1C822.8 319.1 821.3 318.1 819.8 317.1C818.4 316.1 817.0 315.0 815.7 314.0C814.3 313.0 813.0 312.0 811.9 311.0C810.7 310.0 809.6 309.0 808.6 308.0C807.7 307.0 806.8 306.0 806.1 305.0C805.5 304.0 805.0 303.0 804.7 302.0C804.4 301.0 804.3 300.0 804.2 299.0C804.2 298.0 804.3 297.0 804.5 296.0C804.7 295.0 805.0 294.0 805.2 293.0C805.5 292.0 805.8 291.0 806.1 290.0C806.4 289.0 806.7 288.0 806.9 287.0C807.1 286.0 807.3 285.0 807.5 284.0C807.6 283.0 807.7 282.0 807.7 281.0C807.7 279.9 807.6 278.9 807.5 277.9C807.3 276.9 807.0 275.9 806.7 274.9C806.4 273.9 806.0 272.9 805.4 271.9C804.9 270.9 804.4 269.9 803.7 268.9C803.0 267.9 802.3 266.9 801.4 265.9C800.6 264.9 799.2 263.4 798.7 262.9Z" fill="none" stroke="#779159" stroke-opacity="0.16" stroke-width="2.4" clip-path="url(#k_l_high)"/>
<line x1="597.8" y1="94.2" x2="597.8" y2="794.4" stroke="#000" stroke-width="1.8"/>
<line x1="597.05" y1="793.7" x2="955.8" y2="793.7" stroke="#000" stroke-width="1.8"/>
<line x1="587.0" y1="111.0" x2="597.8" y2="111.0" stroke="#000" stroke-width="1.8"/>
<text x="576.3" y="122.1" text-anchor="end" font-family="Liberation Sans, Arial, Helvetica, sans-serif" font-weight="bold" font-size="29.6">120</text>
<line x1="587.0" y1="277.4" x2="597.8" y2="277.4" stroke="#000" stroke-width="1.8"/>
<text x="576.3" y="288.5" text-anchor="end" font-family="Liberation Sans, Arial, Helvetica, sans-serif" font-weight="bold" font-size="29.6">110</text>
<line x1="587.0" y1="443.8" x2="597.8" y2="443.8" stroke="#000" stroke-width="1.8"/>
<text x="576.3" y="454.9" text-anchor="end" font-family="Liberation Sans, Arial, Helvetica, sans-serif" font-weight="bold" font-size="29.6">100</text>
<line x1="587.0" y1="610.2" x2="597.8" y2="610.2" stroke="#000" stroke-width="1.8"/>
<text x="576.3" y="621.3" text-anchor="end" font-family="Liberation Sans, Arial, Helvetica, sans-serif" font-weight="bold" font-size="29.6">90</text>
<line x1="587.0" y1="776.6" x2="597.8" y2="776.6" stroke="#000" stroke-width="1.8"/>
<text x="576.3" y="787.7" text-anchor="end" font-family="Liberation Sans, Arial, Helvetica, sans-serif" font-weight="bold" font-size="29.6">80</text>
<text x="782.5" y="73.8" text-anchor="middle" font-family="Liberation Sans, Arial, Helvetica, sans-serif" font-weight="bold" font-size="29.3">Language</text>
<line x1="1069.2" y1="111.0" x2="1427.8" y2="111.0" stroke="#e6eff1" stroke-width="2.2"/>
<line x1="1069.2" y1="332.9" x2="1427.8" y2="332.9" stroke="#e6eff1" stroke-width="2.2"/>
<line x1="1069.2" y1="554.7" x2="1427.8" y2="554.7" stroke="#e6eff1" stroke-width="2.2"/>
<line x1="1069.2" y1="776.6" x2="1427.8" y2="776.6" stroke="#e6eff1" stroke-width="2.2"/>
<clipPath id="k_c_low"><path d="M1235.0 210.1C1235.0 210.6 1234.9 212.1 1234.8 213.1C1234.7 214.1 1234.5 215.1 1234.4 216.1C1234.2 217.1 1234.0 218.1 1233.8 219.1C1233.6 220.1 1233.4 221.1 1233.1 222.1C1232.9 223.1 1232.6 224.1 1232.3 225.1C1232.0 226.1 1231.7 227.1 1231.3 228.1C1231.0 229.1 1230.7 230.1 1230.3 231.1C1230.0 232.1 1229.6 233.1 1229.2 234.1C1228.9 235.1 1228.5 236.1 1228.1 237.1C1227.7 238.1 1227.3 239.1 1226.9 240.1C1226.5 241.1 1226.2 242.1 1225.8 243.1C1225.4 244.1 1225.0 245.1 1224.6 246.1C1224.2 247.1 1223.8 248.1 1223.4 249.1C1223.0 250.1 1222.6 251.1 1222.2 252.1C1221.8 253.1 1221.4 254.1 1221.0 255.1C1220.6 256.1 1220.2 257.1 1219.8 258.1C1219.4 259.1 1219.0 260.1 1218.6 261.1C1218.2 262.1 1217.8 263.1 1217.4 264.1C1217.0 265.1 1216.6 266.1 1216.2 267.1C1215.8 268.1 1215.5 269.1 1215.1 270.1C1214.7 271.1 1214.3 272.1 1213.9 273.1C1213.5 274.1 1213.1 275.1 1212.8 276.1C1212.4 277.1 1212.0 278.1 1211.6 279.1C1211.3 280.1 1210.9 281.1 1210.5 282.1C1210.1 283.1 1209.8 284.1 1209.4 285.1C1209.0 286.1 1208.7 287.1 1208.3 288.1C1207.9 289.1 1207.5 290.1 1207.2 291.1C1206.8 292.1 1206.4 293.1 1206.1 294.1C1205.7 295.1 1205.3 296.1 1205.0 297.1C1204.6 298.1 1204.2 299.1 1203.9 300.1C1203.5 301.1 1203.1 302.1 1202.8 303.1C1202.4 304.1 1202.0 305.1 1201.7 306.1C1201.3 307.1 1200.9 308.1 1200.5 309.1C1200.2 310.1 1199.8 311.1 1199.4 312.1C1199.0 313.1 1198.7 314.1 1198.3 315.1C1197.9 316.1 1197.5 317.1 1197.2 318.1C1196.8 319.1 1196.4 320.1 1196.0 321.1C1195.6 322.1 1195.2 323.1 1194.9 324.1C1194.5 325.1 1194.1 326.1 1193.7 327.1C1193.3 328.1 1192.9 329.1 1192.5 330.1C1192.1 331.1 1191.7 332.1 1191.3 333.1C1190.9 334.1 1190.5 335.1 1190.1 336.1C1189.7 337.1 1189.2 338.1 1188.8 339.1C1188.4 340.1 1188.0 341.2 1187.6 342.2C1187.1 343.2 1186.7 344.2 1186.3 345.2C1185.8 346.2 1185.4 347.2 1185.0 348.2C1184.5 349.2 1184.1 350.2 1183.7 351.2C1183.2 352.2 1182.8 353.2 1182.4 354.2C1181.9 355.2 1181.5 356.2 1181.0 357.2C1180.6 358.2 1180.2 359.2 1179.7 360.2C1179.3 361.2 1178.9 362.2 1178.5 363.2C1178.0 364.2 1177.6 365.2 1177.2 366.2C1176.8 367.2 1176.4 368.2 1176.0 369.2C1175.6 370.2 1175.2 371.2 1174.8 372.2C1174.4 373.2 1174.0 374.2 1173.6 375.2C1173.2 376.2 1172.9 377.2 1172.5 378.2C1172.1 379.2 1171.8 380.2 1171.4 381.2C1171.1 382.2 1170.8 383.2 1170.4 384.2C1170.1 385.2 1169.8 386.2 1169.5 387.2C1169.2 388.2 1168.9 389.2 1168.6 390.2C1168.4 391.2 1168.1 392.2 1167.8 393.2C1167.6 394.2 1167.3 395.2 1167.1 396.2C1166.8 397.2 1166.6 398.2 1166.4 399.2C1166.1 400.2 1165.9 401.2 1165.7 402.2C1165.5 403.2 1165.3 404.2 1165.1 405.2C1164.9 406.2 1164.7 407.2 1164.5 408.2C1164.3 409.2 1164.1 410.2 1163.9 411.2C1163.8 412.2 1163.6 413.2 1163.4 414.2C1163.2 415.2 1163.1 416.2 1162.9 417.2C1162.7 418.2 1162.6 419.2 1162.4 420.2C1162.3 421.2 1162.1 422.2 1162.0 423.2C1161.8 424.2 1161.7 425.2 1161.5 426.2C1161.4 427.2 1161.3 428.2 1161.1 429.2C1161.0 430.2 1160.9 431.2 1160.8 432.2C1160.7 433.2 1160.6 434.2 1160.5 435.2C1160.4 436.2 1160.3 437.2 1160.2 438.2C1160.1 439.2 1160.0 440.2 1159.9 441.2C1159.9 442.2 1159.8 443.2 1159.8 444.2C1159.7 445.2 1159.7 446.2 1159.7 447.2C1159.6 448.2 1159.6 449.2 1159.6 450.2C1159.6 451.2 1159.6 452.2 1159.6 453.2C1159.6 454.2 1159.7 455.2 1159.7 456.2C1159.7 457.2 1159.8 458.2 1159.8 459.2C1159.9 460.2 1160.0 461.2 1160.1 462.2C1160.2 463.2 1160.3 464.2 1160.4 465.2C1160.5 466.2 1160.6 467.2 1160.8 468.2C1160.9 469.2 1161.1 470.2 1161.3 471.2C1161.4 472.2 1161.6 473.2 1161.8 474.2C1162.0 475.2 1162.2 476.2 1162.5 477.2C1162.7 478.2 1162.9 479.2 1163.2 480.2C1163.4 481.2 1163.7 482.2 1164.0 483.2C1164.2 484.2 1164.5 485.2 1164.8 486.2C1165.1 487.2 1165.4 488.2 1165.7 489.2C1166.1 490.2 1166.4 491.2 1166.7 492.2C1167.1 493.2 1167.4 494.2 1167.8 495.2C1168.1 496.2 1168.5 497.2 1168.8 498.2C1169.2 499.2 1169.6 500.2 1170.0 501.2C1170.4 502.2 1170.8 503.2 1171.2 504.2C1171.6 505.2 1172.0 506.2 1172.4 507.2C1172.9 508.2 1173.3 509.2 1173.7 510.2C1174.2 511.2 1174.6 512.2 1175.1 513.2C1175.5 514.2 1176.0 515.2 1176.4 516.2C1176.9 517.2 1177.4 518.2 1177.8 519.2C1178.3 520.2 1178.8 521.2 1179.3 522.2C1179.8 523.2 1180.3 524.2 1180.8 525.2C1181.2 526.2 1181.7 527.2 1182.3 528.2C1182.8 529.2 1183.3 530.2 1183.8 531.2C1184.3 532.2 1184.8 533.2 1185.3 534.2C1185.8 535.2 1186.4 536.2 1186.9 537.2C1187.4 538.2 1187.9 539.2 1188.5 540.2C1189.0 541.2 1189.5 542.2 1190.1 543.2C1190.6 544.2 1191.1 545.2 1191.7 546.2C1192.2 547.2 1192.7 548.2 1193.3 549.2C1193.8 550.2 1194.3 551.2 1194.9 552.2C1195.4 553.2 1195.9 554.2 1196.5 555.2C1197.0 556.2 1197.6 557.2 1198.1 558.2C1198.6 559.2 1199.2 560.2 1199.7 561.2C1200.2 562.2 1200.8 563.2 1201.3 564.2C1201.8 565.2 1202.4 566.2 1202.9 567.2C1203.4 568.2 1203.9 569.2 1204.5 570.2C1205.0 571.2 1205.5 572.2 1206.0 573.2C1206.5 574.2 1207.1 575.2 1207.6 576.2C1208.1 577.2 1208.6 578.2 1209.1 579.2C1209.6 580.2 1210.1 581.2 1210.6 582.2C1211.1 583.2 1211.5 584.2 1212.0 585.2C1212.5 586.2 1213.0 587.2 1213.5 588.2C1213.9 589.2 1214.4 590.2 1214.9 591.2C1215.3 592.2 1215.8 593.2 1216.2 594.2C1216.6 595.2 1217.1 596.2 1217.5 597.2C1217.9 598.2 1218.4 599.2 1218.8 600.2C1219.2 601.2 1219.6 602.3 1220.0 603.3C1220.4 604.3 1220.8 605.3 1221.2 606.3C1221.5 607.3 1221.9 608.3 1222.3 609.3C1222.6 610.3 1223.0 611.3 1223.3 612.3C1223.7 613.3 1224.0 614.3 1224.3 615.3C1224.6 616.3 1225.0 617.3 1225.3 618.3C1225.6 619.3 1225.8 620.3 1226.1 621.3C1226.4 622.3 1226.7 623.3 1227.0 624.3C1227.2 625.3 1227.5 626.3 1227.7 627.3C1228.0 628.3 1228.2 629.3 1228.5 630.3C1228.7 631.3 1228.9 632.3 1229.1 633.3C1229.4 634.3 1229.6 635.3 1229.8 636.3C1230.0 637.3 1230.2 638.3 1230.4 639.3C1230.6 640.3 1230.8 641.3 1231.0 642.3C1231.1 643.3 1231.3 644.3 1231.5 645.3C1231.7 646.3 1231.8 647.3 1232.0 648.3C1232.2 649.3 1232.3 650.3 1232.5 651.3C1232.6 652.3 1232.8 653.3 1232.9 654.3C1233.1 655.3 1233.2 656.3 1233.4 657.3C1233.5 658.3 1233.7 659.3 1233.8 660.3C1233.9 661.3 1234.1 662.3 1234.2 663.3C1234.3 664.3 1234.5 665.3 1234.6 666.3C1234.7 667.3 1234.9 668.3 1235.0 669.3C1235.1 670.3 1235.2 671.3 1235.3 672.3C1235.5 673.3 1235.6 674.3 1235.7 675.3C1235.8 676.3 1235.9 677.3 1236.0 678.3C1236.2 679.3 1236.3 680.3 1236.4 681.3C1236.5 682.3 1236.6 683.3 1236.7 684.3C1236.8 685.3 1236.9 686.3 1237.0 687.3C1237.2 688.3 1237.3 689.3 1237.4 690.3C1237.5 691.3 1237.6 692.3 1237.7 693.3C1237.8 694.3 1237.9 695.3 1238.0 696.3C1238.1 697.3 1238.2 698.3 1238.3 699.3C1238.4 700.3 1238.5 701.3 1238.6 702.3C1238.7 703.3 1238.8 704.3 1238.9 705.3C1239.0 706.3 1239.1 707.3 1239.2 708.3C1239.4 709.3 1239.4 710.3 1239.5 711.3C1239.6 712.3 1239.7 713.3 1239.8 714.3C1239.9 715.3 1240.0 716.3 1240.1 717.3C1240.2 718.3 1240.3 719.3 1240.4 720.3C1240.4 721.3 1240.5 722.3 1240.6 723.3C1240.7 724.3 1240.7 725.3 1240.8 726.3C1240.8 727.3 1240.9 728.3 1241.0 729.3C1241.0 730.3 1241.1 731.8 1241.1 732.3L1256.2 732.3C1256.2 731.8 1256.3 730.3 1256.3 729.3C1256.4 728.3 1256.5 727.3 1256.5 726.3C1256.6 725.3 1256.6 724.3 1256.7 723.3C1256.8 722.3 1256.9 721.3 1256.9 720.3C1257.0 719.3 1257.1 718.3 1257.2 717.3C1257.3 716.3 1257.4 715.3 1257.5 714.3C1257.6 713.3 1257.7 712.3 1257.8 711.3C1257.9 710.3 1257.9 709.3 1258.1 708.3C1258.2 707.3 1258.3 706.3 1258.4 705.3C1258.5 704.3 1258.6 703.3 1258.7 702.3C1258.8 701.3 1258.9 700.3 1259.0 699.3C1259.1 698.3 1259.2 697.3 1259.3 696.3C1259.4 695.3 1259.5 694.3 1259.6 693.3C1259.7 692.3 1259.8 691.3 1259.9 690.3C1260.0 689.3 1260.1 688.3 1260.3 687.3C1260.4 686.3 1260.5 685.3 1260.6 684.3C1260.7 683.3 1260.8 682.3 1260.9 681.3C1261.0 680.3 1261.1 679.3 1261.3 678.3C1261.4 677.3 1261.5 676.3 1261.6 675.3C1261.7 674.3 1261.8 673.3 1262.0 672.3C1262.1 671.3 1262.2 670.3 1262.3 669.3C1262.4 668.3 1262.6 667.3 1262.7 666.3C1262.8 665.3 1263.0 664.3 1263.1 663.3C1263.2 662.3 1263.4 661.3 1263.5 660.3C1263.6 659.3 1263.8 658.3 1263.9 657.3C1264.1 656.3 1264.2 655.3 1264.4 654.3C1264.5 653.3 1264.7 652.3 1264.8 651.3C1265.0 650.3 1265.1 649.3 1265.3 648.3C1265.5 647.3 1265.6 646.3 1265.8 645.3C1266.0 644.3 1266.2 643.3 1266.3 642.3C1266.5 641.3 1266.7 640.3 1266.9 639.3C1267.1 638.3 1267.3 637.3 1267.5 636.3C1267.7 635.3 1267.9 634.3 1268.2 633.3C1268.4 632.3 1268.6 631.3 1268.8 630.3C1269.1 629.3 1269.3 628.3 1269.6 627.3C1269.8 626.3 1270.1 625.3 1270.3 624.3C1270.6 623.3 1270.9 622.3 1271.2 621.3C1271.5 620.3 1271.7 619.3 1272.0 618.3C1272.3 617.3 1272.7 616.3 1273.0 615.3C1273.3 614.3 1273.6 613.3 1274.0 612.3C1274.3 611.3 1274.7 610.3 1275.0 609.3C1275.4 608.3 1275.8 607.3 1276.1 606.3C1276.5 605.3 1276.9 604.3 1277.3 603.3C1277.7 602.3 1278.1 601.2 1278.5 600.2C1278.9 599.2 1279.4 598.2 1279.8 597.2C1280.2 596.2 1280.7 595.2 1281.1 594.2C1281.5 593.2 1282.0 592.2 1282.4 591.2C1282.9 590.2 1283.4 589.2 1283.8 588.2C1284.3 587.2 1284.8 586.2 1285.3 585.2C1285.8 584.2 1286.2 583.2 1286.7 582.2C1287.2 581.2 1287.7 580.2 1288.2 579.2C1288.7 578.2 1289.2 577.2 1289.7 576.2C1290.2 575.2 1290.8 574.2 1291.3 573.2C1291.8 572.2 1292.3 571.2 1292.8 570.2C1293.4 569.2 1293.9 568.2 1294.4 567.2C1294.9 566.2 1295.5 565.2 1296.0 564.2C1296.5 563.2 1297.1 562.2 1297.6 561.2C1298.1 560.2 1298.7 559.2 1299.2 558.2C1299.7 557.2 1300.3 556.2 1300.8 555.2C1301.4 554.2 1301.9 553.2 1302.4 552.2C1303.0 551.2 1303.5 550.2 1304.0 549.2C1304.6 548.2 1305.1 547.2 1305.6 546.2C1306.2 545.2 1306.7 544.2 1307.2 543.2C1307.8 542.2 1308.3 541.2 1308.8 540.2C1309.4 539.2 1309.9 538.2 1310.4 537.2C1310.9 536.2 1311.5 535.2 1312.0 534.2C1312.5 533.2 1313.0 532.2 1313.5 531.2C1314.0 530.2 1314.5 529.2 1315.0 528.2C1315.6 527.2 1316.1 526.2 1316.5 525.2C1317.0 524.2 1317.5 523.2 1318.0 522.2C1318.5 521.2 1319.0 520.2 1319.5 519.2C1319.9 518.2 1320.4 517.2 1320.9 516.2C1321.3 515.2 1321.8 514.2 1322.2 513.2C1322.7 512.2 1323.1 511.2 1323.6 510.2C1324.0 509.2 1324.4 508.2 1324.9 507.2C1325.3 506.2 1325.7 505.2 1326.1 504.2C1326.5 503.2 1326.9 502.2 1327.3 501.2C1327.7 500.2 1328.1 499.2 1328.5 498.2C1328.8 497.2 1329.2 496.2 1329.5 495.2C1329.9 494.2 1330.2 493.2 1330.6 492.2C1330.9 491.2 1331.2 490.2 1331.6 489.2C1331.9 488.2 1332.2 487.2 1332.5 486.2C1332.8 485.2 1333.1 484.2 1333.3 483.2C1333.6 482.2 1333.9 481.2 1334.1 480.2C1334.4 479.2 1334.6 478.2 1334.8 477.2C1335.1 476.2 1335.3 475.2 1335.5 474.2C1335.7 473.2 1335.9 472.2 1336.0 471.2C1336.2 470.2 1336.4 469.2 1336.5 468.2C1336.7 467.2 1336.8 466.2 1336.9 465.2C1337.0 464.2 1337.1 463.2 1337.2 462.2C1337.3 461.2 1337.4 460.2 1337.5 459.2C1337.5 458.2 1337.6 457.2 1337.6 456.2C1337.6 455.2 1337.7 454.2 1337.7 453.2C1337.7 452.2 1337.7 451.2 1337.7 450.2C1337.7 449.2 1337.7 448.2 1337.6 447.2C1337.6 446.2 1337.6 445.2 1337.5 444.2C1337.5 443.2 1337.4 442.2 1337.4 441.2C1337.3 440.2 1337.2 439.2 1337.1 438.2C1337.0 437.2 1336.9 436.2 1336.8 435.2C1336.7 434.2 1336.6 433.2 1336.5 432.2C1336.4 431.2 1336.3 430.2 1336.2 429.2C1336.0 428.2 1335.9 427.2 1335.8 426.2C1335.6 425.2 1335.5 424.2 1335.3 423.2C1335.2 422.2 1335.0 421.2 1334.9 420.2C1334.7 419.2 1334.6 418.2 1334.4 417.2C1334.2 416.2 1334.1 415.2 1333.9 414.2C1333.7 413.2 1333.5 412.2 1333.4 411.2C1333.2 410.2 1333.0 409.2 1332.8 408.2C1332.6 407.2 1332.4 406.2 1332.2 405.2C1332.0 404.2 1331.8 403.2 1331.6 402.2C1331.4 401.2 1331.2 400.2 1330.9 399.2C1330.7 398.2 1330.5 397.2 1330.2 396.2C1330.0 395.2 1329.7 394.2 1329.5 393.2C1329.2 392.2 1328.9 391.2 1328.7 390.2C1328.4 389.2 1328.1 388.2 1327.8 387.2C1327.5 386.2 1327.2 385.2 1326.9 384.2C1326.5 383.2 1326.2 382.2 1325.9 381.2C1325.5 380.2 1325.2 379.2 1324.8 378.2C1324.4 377.2 1324.1 376.2 1323.7 375.2C1323.3 374.2 1322.9 373.2 1322.5 372.2C1322.1 371.2 1321.7 370.2 1321.3 369.2C1320.9 368.2 1320.5 367.2 1320.1 366.2C1319.7 365.2 1319.3 364.2 1318.8 363.2C1318.4 362.2 1318.0 361.2 1317.6 360.2C1317.1 359.2 1316.7 358.2 1316.3 357.2C1315.8 356.2 1315.4 355.2 1314.9 354.2C1314.5 353.2 1314.1 352.2 1313.6 351.2C1313.2 350.2 1312.8 349.2 1312.3 348.2C1311.9 347.2 1311.5 346.2 1311.0 345.2C1310.6 344.2 1310.2 343.2 1309.7 342.2C1309.3 341.2 1308.9 340.1 1308.5 339.1C1308.1 338.1 1307.6 337.1 1307.2 336.1C1306.8 335.1 1306.4 334.1 1306.0 333.1C1305.6 332.1 1305.2 331.1 1304.8 330.1C1304.4 329.1 1304.0 328.1 1303.6 327.1C1303.2 326.1 1302.8 325.1 1302.4 324.1C1302.1 323.1 1301.7 322.1 1301.3 321.1C1300.9 320.1 1300.5 319.1 1300.1 318.1C1299.8 317.1 1299.4 316.1 1299.0 315.1C1298.6 314.1 1298.3 313.1 1297.9 312.1C1297.5 311.1 1297.1 310.1 1296.8 309.1C1296.4 308.1 1296.0 307.1 1295.6 306.1C1295.3 305.1 1294.9 304.1 1294.5 303.1C1294.2 302.1 1293.8 301.1 1293.4 300.1C1293.1 299.1 1292.7 298.1 1292.3 297.1C1292.0 296.1 1291.6 295.1 1291.2 294.1C1290.9 293.1 1290.5 292.1 1290.1 291.1C1289.8 290.1 1289.4 289.1 1289.0 288.1C1288.6 287.1 1288.3 286.1 1287.9 285.1C1287.5 284.1 1287.2 283.1 1286.8 282.1C1286.4 281.1 1286.0 280.1 1285.7 279.1C1285.3 278.1 1284.9 277.1 1284.5 276.1C1284.2 275.1 1283.8 274.1 1283.4 273.1C1283.0 272.1 1282.6 271.1 1282.2 270.1C1281.8 269.1 1281.5 268.1 1281.1 267.1C1280.7 266.1 1280.3 265.1 1279.9 264.1C1279.5 263.1 1279.1 262.1 1278.7 261.1C1278.3 260.1 1277.9 259.1 1277.5 258.1C1277.1 257.1 1276.7 256.1 1276.3 255.1C1275.9 254.1 1275.5 253.1 1275.1 252.1C1274.7 251.1 1274.3 250.1 1273.9 249.1C1273.5 248.1 1273.1 247.1 1272.7 246.1C1272.3 245.1 1271.9 244.1 1271.5 243.1C1271.1 242.1 1270.8 241.1 1270.4 240.1C1270.0 239.1 1269.6 238.1 1269.2 237.1C1268.8 236.1 1268.4 235.1 1268.1 234.1C1267.7 233.1 1267.3 232.1 1267.0 231.1C1266.6 230.1 1266.3 229.1 1266.0 228.1C1265.6 227.1 1265.3 226.1 1265.0 225.1C1264.7 224.1 1264.4 223.1 1264.2 222.1C1263.9 221.1 1263.7 220.1 1263.5 219.1C1263.3 218.1 1263.1 217.1 1262.9 216.1C1262.8 215.1 1262.6 214.1 1262.5 213.1C1262.4 212.1 1262.3 210.6 1262.3 210.1Z"/></clipPath>
<path d="M1235.0 210.1C1235.0 210.6 1234.9 212.1 1234.8 213.1C1234.7 214.1 1234.5 215.1 1234.4 216.1C1234.2 217.1 1234.0 218.1 1233.8 219.1C1233.6 220.1 1233.4 221.1 1233.1 222.1C1232.9 223.1 1232.6 224.1 1232.3 225.1C1232.0 226.1 1231.7 227.1 1231.3 228.1C1231.0 229.1 1230.7 230.1 1230.3 231.1C1230.0 232.1 1229.6 233.1 1229.2 234.1C1228.9 235.1 1228.5 236.1 1228.1 237.1C1227.7 238.1 1227.3 239.1 1226.9 240.1C1226.5 241.1 1226.2 242.1 1225.8 243.1C1225.4 244.1 1225.0 245.1 1224.6 246.1C1224.2 247.1 1223.8 248.1 1223.4 249.1C1223.0 250.1 1222.6 251.1 1222.2 252.1C1221.8 253.1 1221.4 254.1 1221.0 255.1C1220.6 256.1 1220.2 257.1 1219.8 258.1C1219.4 259.1 1219.0 260.1 1218.6 261.1C1218.2 262.1 1217.8 263.1 1217.4 264.1C1217.0 265.1 1216.6 266.1 1216.2 267.1C1215.8 268.1 1215.5 269.1 1215.1 270.1C1214.7 271.1 1214.3 272.1 1213.9 273.1C1213.5 274.1 1213.1 275.1 1212.8 276.1C1212.4 277.1 1212.0 278.1 1211.6 279.1C1211.3 280.1 1210.9 281.1 1210.5 282.1C1210.1 283.1 1209.8 284.1 1209.4 285.1C1209.0 286.1 1208.7 287.1 1208.3 288.1C1207.9 289.1 1207.5 290.1 1207.2 291.1C1206.8 292.1 1206.4 293.1 1206.1 294.1C1205.7 295.1 1205.3 296.1 1205.0 297.1C1204.6 298.1 1204.2 299.1 1203.9 300.1C1203.5 301.1 1203.1 302.1 1202.8 303.1C1202.4 304.1 1202.0 305.1 1201.7 306.1C1201.3 307.1 1200.9 308.1 1200.5 309.1C1200.2 310.1 1199.8 311.1 1199.4 312.1C1199.0 313.1 1198.7 314.1 1198.3 315.1C1197.9 316.1 1197.5 317.1 1197.2 318.1C1196.8 319.1 1196.4 320.1 1196.0 321.1C1195.6 322.1 1195.2 323.1 1194.9 324.1C1194.5 325.1 1194.1 326.1 1193.7 327.1C1193.3 328.1 1192.9 329.1 1192.5 330.1C1192.1 331.1 1191.7 332.1 1191.3 333.1C1190.9 334.1 1190.5 335.1 1190.1 336.1C1189.7 337.1 1189.2 338.1 1188.8 339.1C1188.4 340.1 1188.0 341.2 1187.6 342.2C1187.1 343.2 1186.7 344.2 1186.3 345.2C1185.8 346.2 1185.4 347.2 1185.0 348.2C1184.5 349.2 1184.1 350.2 1183.7 351.2C1183.2 352.2 1182.8 353.2 1182.4 354.2C1181.9 355.2 1181.5 356.2 1181.0 357.2C1180.6 358.2 1180.2 359.2 1179.7 360.2C1179.3 361.2 1178.9 362.2 1178.5 363.2C1178.0 364.2 1177.6 365.2 1177.2 366.2C1176.8 367.2 1176.4 368.2 1176.0 369.2C1175.6 370.2 1175.2 371.2 1174.8 372.2C1174.4 373.2 1174.0 374.2 1173.6 375.2C1173.2 376.2 1172.9 377.2 1172.5 378.2C1172.1 379.2 1171.8 380.2 1171.4 381.2C1171.1 382.2 1170.8 383.2 1170.4 384.2C1170.1 385.2 1169.8 386.2 1169.5 387.2C1169.2 388.2 1168.9 389.2 1168.6 390.2C1168.4 391.2 1168.1 392.2 1167.8 393.2C1167.6 394.2 1167.3 395.2 1167.1 396.2C1166.8 397.2 1166.6 398.2 1166.4 399.2C1166.1 400.2 1165.9 401.2 1165.7 402.2C1165.5 403.2 1165.3 404.2 1165.1 405.2C1164.9 406.2 1164.7 407.2 1164.5 408.2C1164.3 409.2 1164.1 410.2 1163.9 411.2C1163.8 412.2 1163.6 413.2 1163.4 414.2C1163.2 415.2 1163.1 416.2 1162.9 417.2C1162.7 418.2 1162.6 419.2 1162.4 420.2C1162.3 421.2 1162.1 422.2 1162.0 423.2C1161.8 424.2 1161.7 425.2 1161.5 426.2C1161.4 427.2 1161.3 428.2 1161.1 429.2C1161.0 430.2 1160.9 431.2 1160.8 432.2C1160.7 433.2 1160.6 434.2 1160.5 435.2C1160.4 436.2 1160.3 437.2 1160.2 438.2C1160.1 439.2 1160.0 440.2 1159.9 441.2C1159.9 442.2 1159.8 443.2 1159.8 444.2C1159.7 445.2 1159.7 446.2 1159.7 447.2C1159.6 448.2 1159.6 449.2 1159.6 450.2C1159.6 451.2 1159.6 452.2 1159.6 453.2C1159.6 454.2 1159.7 455.2 1159.7 456.2C1159.7 457.2 1159.8 458.2 1159.8 459.2C1159.9 460.2 1160.0 461.2 1160.1 462.2C1160.2 463.2 1160.3 464.2 1160.4 465.2C1160.5 466.2 1160.6 467.2 1160.8 468.2C1160.9 469.2 1161.1 470.2 1161.3 471.2C1161.4 472.2 1161.6 473.2 1161.8 474.2C1162.0 475.2 1162.2 476.2 1162.5 477.2C1162.7 478.2 1162.9 479.2 1163.2 480.2C1163.4 481.2 1163.7 482.2 1164.0 483.2C1164.2 484.2 1164.5 485.2 1164.8 486.2C1165.1 487.2 1165.4 488.2 1165.7 489.2C1166.1 490.2 1166.4 491.2 1166.7 492.2C1167.1 493.2 1167.4 494.2 1167.8 495.2C1168.1 496.2 1168.5 497.2 1168.8 498.2C1169.2 499.2 1169.6 500.2 1170.0 501.2C1170.4 502.2 1170.8 503.2 1171.2 504.2C1171.6 505.2 1172.0 506.2 1172.4 507.2C1172.9 508.2 1173.3 509.2 1173.7 510.2C1174.2 511.2 1174.6 512.2 1175.1 513.2C1175.5 514.2 1176.0 515.2 1176.4 516.2C1176.9 517.2 1177.4 518.2 1177.8 519.2C1178.3 520.2 1178.8 521.2 1179.3 522.2C1179.8 523.2 1180.3 524.2 1180.8 525.2C1181.2 526.2 1181.7 527.2 1182.3 528.2C1182.8 529.2 1183.3 530.2 1183.8 531.2C1184.3 532.2 1184.8 533.2 1185.3 534.2C1185.8 535.2 1186.4 536.2 1186.9 537.2C1187.4 538.2 1187.9 539.2 1188.5 540.2C1189.0 541.2 1189.5 542.2 1190.1 543.2C1190.6 544.2 1191.1 545.2 1191.7 546.2C1192.2 547.2 1192.7 548.2 1193.3 549.2C1193.8 550.2 1194.3 551.2 1194.9 552.2C1195.4 553.2 1195.9 554.2 1196.5 555.2C1197.0 556.2 1197.6 557.2 1198.1 558.2C1198.6 559.2 1199.2 560.2 1199.7 561.2C1200.2 562.2 1200.8 563.2 1201.3 564.2C1201.8 565.2 1202.4 566.2 1202.9 567.2C1203.4 568.2 1203.9 569.2 1204.5 570.2C1205.0 571.2 1205.5 572.2 1206.0 573.2C1206.5 574.2 1207.1 575.2 1207.6 576.2C1208.1 577.2 1208.6 578.2 1209.1 579.2C1209.6 580.2 1210.1 581.2 1210.6 582.2C1211.1 583.2 1211.5 584.2 1212.0 585.2C1212.5 586.2 1213.0 587.2 1213.5 588.2C1213.9 589.2 1214.4 590.2 1214.9 591.2C1215.3 592.2 1215.8 593.2 1216.2 594.2C1216.6 595.2 1217.1 596.2 1217.5 597.2C1217.9 598.2 1218.4 599.2 1218.8 600.2C1219.2 601.2 1219.6 602.3 1220.0 603.3C1220.4 604.3 1220.8 605.3 1221.2 606.3C1221.5 607.3 1221.9 608.3 1222.3 609.3C1222.6 610.3 1223.0 611.3 1223.3 612.3C1223.7 613.3 1224.0 614.3 1224.3 615.3C1224.6 616.3 1225.0 617.3 1225.3 618.3C1225.6 619.3 1225.8 620.3 1226.1 621.3C1226.4 622.3 1226.7 623.3 1227.0 624.3C1227.2 625.3 1227.5 626.3 1227.7 627.3C1228.0 628.3 1228.2 629.3 1228.5 630.3C1228.7 631.3 1228.9 632.3 1229.1 633.3C1229.4 634.3 1229.6 635.3 1229.8 636.3C1230.0 637.3 1230.2 638.3 1230.4 639.3C1230.6 640.3 1230.8 641.3 1231.0 642.3C1231.1 643.3 1231.3 644.3 1231.5 645.3C1231.7 646.3 1231.8 647.3 1232.0 648.3C1232.2 649.3 1232.3 650.3 1232.5 651.3C1232.6 652.3 1232.8 653.3 1232.9 654.3C1233.1 655.3 1233.2 656.3 1233.4 657.3C1233.5 658.3 1233.7 659.3 1233.8 660.3C1233.9 661.3 1234.1 662.3 1234.2 663.3C1234.3 664.3 1234.5 665.3 1234.6 666.3C1234.7 667.3 1234.9 668.3 1235.0 669.3C1235.1 670.3 1235.2 671.3 1235.3 672.3C1235.5 673.3 1235.6 674.3 1235.7 675.3C1235.8 676.3 1235.9 677.3 1236.0 678.3C1236.2 679.3 1236.3 680.3 1236.4 681.3C1236.5 682.3 1236.6 683.3 1236.7 684.3C1236.8 685.3 1236.9 686.3 1237.0 687.3C1237.2 688.3 1237.3 689.3 1237.4 690.3C1237.5 691.3 1237.6 692.3 1237.7 693.3C1237.8 694.3 1237.9 695.3 1238.0 696.3C1238.1 697.3 1238.2 698.3 1238.3 699.3C1238.4 700.3 1238.5 701.3 1238.6 702.3C1238.7 703.3 1238.8 704.3 1238.9 705.3C1239.0 706.3 1239.1 707.3 1239.2 708.3C1239.4 709.3 1239.4 710.3 1239.5 711.3C1239.6 712.3 1239.7 713.3 1239.8 714.3C1239.9 715.3 1240.0 716.3 1240.1 717.3C1240.2 718.3 1240.3 719.3 1240.4 720.3C1240.4 721.3 1240.5 722.3 1240.6 723.3C1240.7 724.3 1240.7 725.3 1240.8 726.3C1240.8 727.3 1240.9 728.3 1241.0 729.3C1241.0 730.3 1241.1 731.8 1241.1 732.3L1256.2 732.3C1256.2 731.8 1256.3 730.3 1256.3 729.3C1256.4 728.3 1256.5 727.3 1256.5 726.3C1256.6 725.3 1256.6 724.3 1256.7 723.3C1256.8 722.3 1256.9 721.3 1256.9 720.3C1257.0 719.3 1257.1 718.3 1257.2 717.3C1257.3 716.3 1257.4 715.3 1257.5 714.3C1257.6 713.3 1257.7 712.3 1257.8 711.3C1257.9 710.3 1257.9 709.3 1258.1 708.3C1258.2 707.3 1258.3 706.3 1258.4 705.3C1258.5 704.3 1258.6 703.3 1258.7 702.3C1258.8 701.3 1258.9 700.3 1259.0 699.3C1259.1 698.3 1259.2 697.3 1259.3 696.3C1259.4 695.3 1259.5 694.3 1259.6 693.3C1259.7 692.3 1259.8 691.3 1259.9 690.3C1260.0 689.3 1260.1 688.3 1260.3 687.3C1260.4 686.3 1260.5 685.3 1260.6 684.3C1260.7 683.3 1260.8 682.3 1260.9 681.3C1261.0 680.3 1261.1 679.3 1261.3 678.3C1261.4 677.3 1261.5 676.3 1261.6 675.3C1261.7 674.3 1261.8 673.3 1262.0 672.3C1262.1 671.3 1262.2 670.3 1262.3 669.3C1262.4 668.3 1262.6 667.3 1262.7 666.3C1262.8 665.3 1263.0 664.3 1263.1 663.3C1263.2 662.3 1263.4 661.3 1263.5 660.3C1263.6 659.3 1263.8 658.3 1263.9 657.3C1264.1 656.3 1264.2 655.3 1264.4 654.3C1264.5 653.3 1264.7 652.3 1264.8 651.3C1265.0 650.3 1265.1 649.3 1265.3 648.3C1265.5 647.3 1265.6 646.3 1265.8 645.3C1266.0 644.3 1266.2 643.3 1266.3 642.3C1266.5 641.3 1266.7 640.3 1266.9 639.3C1267.1 638.3 1267.3 637.3 1267.5 636.3C1267.7 635.3 1267.9 634.3 1268.2 633.3C1268.4 632.3 1268.6 631.3 1268.8 630.3C1269.1 629.3 1269.3 628.3 1269.6 627.3C1269.8 626.3 1270.1 625.3 1270.3 624.3C1270.6 623.3 1270.9 622.3 1271.2 621.3C1271.5 620.3 1271.7 619.3 1272.0 618.3C1272.3 617.3 1272.7 616.3 1273.0 615.3C1273.3 614.3 1273.6 613.3 1274.0 612.3C1274.3 611.3 1274.7 610.3 1275.0 609.3C1275.4 608.3 1275.8 607.3 1276.1 606.3C1276.5 605.3 1276.9 604.3 1277.3 603.3C1277.7 602.3 1278.1 601.2 1278.5 600.2C1278.9 599.2 1279.4 598.2 1279.8 597.2C1280.2 596.2 1280.7 595.2 1281.1 594.2C1281.5 593.2 1282.0 592.2 1282.4 591.2C1282.9 590.2 1283.4 589.2 1283.8 588.2C1284.3 587.2 1284.8 586.2 1285.3 585.2C1285.8 584.2 1286.2 583.2 1286.7 582.2C1287.2 581.2 1287.7 580.2 1288.2 579.2C1288.7 578.2 1289.2 577.2 1289.7 576.2C1290.2 575.2 1290.8 574.2 1291.3 573.2C1291.8 572.2 1292.3 571.2 1292.8 570.2C1293.4 569.2 1293.9 568.2 1294.4 567.2C1294.9 566.2 1295.5 565.2 1296.0 564.2C1296.5 563.2 1297.1 562.2 1297.6 561.2C1298.1 560.2 1298.7 559.2 1299.2 558.2C1299.7 557.2 1300.3 556.2 1300.8 555.2C1301.4 554.2 1301.9 553.2 1302.4 552.2C1303.0 551.2 1303.5 550.2 1304.0 549.2C1304.6 548.2 1305.1 547.2 1305.6 546.2C1306.2 545.2 1306.7 544.2 1307.2 543.2C1307.8 542.2 1308.3 541.2 1308.8 540.2C1309.4 539.2 1309.9 538.2 1310.4 537.2C1310.9 536.2 1311.5 535.2 1312.0 534.2C1312.5 533.2 1313.0 532.2 1313.5 531.2C1314.0 530.2 1314.5 529.2 1315.0 528.2C1315.6 527.2 1316.1 526.2 1316.5 525.2C1317.0 524.2 1317.5 523.2 1318.0 522.2C1318.5 521.2 1319.0 520.2 1319.5 519.2C1319.9 518.2 1320.4 517.2 1320.9 516.2C1321.3 515.2 1321.8 514.2 1322.2 513.2C1322.7 512.2 1323.1 511.2 1323.6 510.2C1324.0 509.2 1324.4 508.2 1324.9 507.2C1325.3 506.2 1325.7 505.2 1326.1 504.2C1326.5 503.2 1326.9 502.2 1327.3 501.2C1327.7 500.2 1328.1 499.2 1328.5 498.2C1328.8 497.2 1329.2 496.2 1329.5 495.2C1329.9 494.2 1330.2 493.2 1330.6 492.2C1330.9 491.2 1331.2 490.2 1331.6 489.2C1331.9 488.2 1332.2 487.2 1332.5 486.2C1332.8 485.2 1333.1 484.2 1333.3 483.2C1333.6 482.2 1333.9 481.2 1334.1 480.2C1334.4 479.2 1334.6 478.2 1334.8 477.2C1335.1 476.2 1335.3 475.2 1335.5 474.2C1335.7 473.2 1335.9 472.2 1336.0 471.2C1336.2 470.2 1336.4 469.2 1336.5 468.2C1336.7 467.2 1336.8 466.2 1336.9 465.2C1337.0 464.2 1337.1 463.2 1337.2 462.2C1337.3 461.2 1337.4 460.2 1337.5 459.2C1337.5 458.2 1337.6 457.2 1337.6 456.2C1337.6 455.2 1337.7 454.2 1337.7 453.2C1337.7 452.2 1337.7 451.2 1337.7 450.2C1337.7 449.2 1337.7 448.2 1337.6 447.2C1337.6 446.2 1337.6 445.2 1337.5 444.2C1337.5 443.2 1337.4 442.2 1337.4 441.2C1337.3 440.2 1337.2 439.2 1337.1 438.2C1337.0 437.2 1336.9 436.2 1336.8 435.2C1336.7 434.2 1336.6 433.2 1336.5 432.2C1336.4 431.2 1336.3 430.2 1336.2 429.2C1336.0 428.2 1335.9 427.2 1335.8 426.2C1335.6 425.2 1335.5 424.2 1335.3 423.2C1335.2 422.2 1335.0 421.2 1334.9 420.2C1334.7 419.2 1334.6 418.2 1334.4 417.2C1334.2 416.2 1334.1 415.2 1333.9 414.2C1333.7 413.2 1333.5 412.2 1333.4 411.2C1333.2 410.2 1333.0 409.2 1332.8 408.2C1332.6 407.2 1332.4 406.2 1332.2 405.2C1332.0 404.2 1331.8 403.2 1331.6 402.2C1331.4 401.2 1331.2 400.2 1330.9 399.2C1330.7 398.2 1330.5 397.2 1330.2 396.2C1330.0 395.2 1329.7 394.2 1329.5 393.2C1329.2 392.2 1328.9 391.2 1328.7 390.2C1328.4 389.2 1328.1 388.2 1327.8 387.2C1327.5 386.2 1327.2 385.2 1326.9 384.2C1326.5 383.2 1326.2 382.2 1325.9 381.2C1325.5 380.2 1325.2 379.2 1324.8 378.2C1324.4 377.2 1324.1 376.2 1323.7 375.2C1323.3 374.2 1322.9 373.2 1322.5 372.2C1322.1 371.2 1321.7 370.2 1321.3 369.2C1320.9 368.2 1320.5 367.2 1320.1 366.2C1319.7 365.2 1319.3 364.2 1318.8 363.2C1318.4 362.2 1318.0 361.2 1317.6 360.2C1317.1 359.2 1316.7 358.2 1316.3 357.2C1315.8 356.2 1315.4 355.2 1314.9 354.2C1314.5 353.2 1314.1 352.2 1313.6 351.2C1313.2 350.2 1312.8 349.2 1312.3 348.2C1311.9 347.2 1311.5 346.2 1311.0 345.2C1310.6 344.2 1310.2 343.2 1309.7 342.2C1309.3 341.2 1308.9 340.1 1308.5 339.1C1308.1 338.1 1307.6 337.1 1307.2 336.1C1306.8 335.1 1306.4 334.1 1306.0 333.1C1305.6 332.1 1305.2 331.1 1304.8 330.1C1304.4 329.1 1304.0 328.1 1303.6 327.1C1303.2 326.1 1302.8 325.1 1302.4 324.1C1302.1 323.1 1301.7 322.1 1301.3 321.1C1300.9 320.1 1300.5 319.1 1300.1 318.1C1299.8 317.1 1299.4 316.1 1299.0 315.1C1298.6 314.1 1298.3 313.1 1297.9 312.1C1297.5 311.1 1297.1 310.1 1296.8 309.1C1296.4 308.1 1296.0 307.1 1295.6 306.1C1295.3 305.1 1294.9 304.1 1294.5 303.1C1294.2 302.1 1293.8 301.1 1293.4 300.1C1293.1 299.1 1292.7 298.1 1292.3 297.1C1292.0 296.1 1291.6 295.1 1291.2 294.1C1290.9 293.1 1290.5 292.1 1290.1 291.1C1289.8 290.1 1289.4 289.1 1289.0 288.1C1288.6 287.1 1288.3 286.1 1287.9 285.1C1287.5 284.1 1287.2 283.1 1286.8 282.1C1286.4 281.1 1286.0 280.1 1285.7 279.1C1285.3 278.1 1284.9 277.1 1284.5 276.1C1284.2 275.1 1283.8 274.1 1283.4 273.1C1283.0 272.1 1282.6 271.1 1282.2 270.1C1281.8 269.1 1281.5 268.1 1281.1 267.1C1280.7 266.1 1280.3 265.1 1279.9 264.1C1279.5 263.1 1279.1 262.1 1278.7 261.1C1278.3 260.1 1277.9 259.1 1277.5 258.1C1277.1 257.1 1276.7 256.1 1276.3 255.1C1275.9 254.1 1275.5 253.1 1275.1 252.1C1274.7 251.1 1274.3 250.1 1273.9 249.1C1273.5 248.1 1273.1 247.1 1272.7 246.1C1272.3 245.1 1271.9 244.1 1271.5 243.1C1271.1 242.1 1270.8 241.1 1270.4 240.1C1270.0 239.1 1269.6 238.1 1269.2 237.1C1268.8 236.1 1268.4 235.1 1268.1 234.1C1267.7 233.1 1267.3 232.1 1267.0 231.1C1266.6 230.1 1266.3 229.1 1266.0 228.1C1265.6 227.1 1265.3 226.1 1265.0 225.1C1264.7 224.1 1264.4 223.1 1264.2 222.1C1263.9 221.1 1263.7 220.1 1263.5 219.1C1263.3 218.1 1263.1 217.1 1262.9 216.1C1262.8 215.1 1262.6 214.1 1262.5 213.1C1262.4 212.1 1262.3 210.6 1262.3 210.1Z" fill="#486c8c" fill-opacity="0.5"/>
<path d="M1235.0 210.1C1235.0 210.6 1234.9 212.1 1234.8 213.1C1234.7 214.1 1234.5 215.1 1234.4 216.1C1234.2 217.1 1234.0 218.1 1233.8 219.1C1233.6 220.1 1233.4 221.1 1233.1 222.1C1232.9 223.1 1232.6 224.1 1232.3 225.1C1232.0 226.1 1231.7 227.1 1231.3 228.1C1231.0 229.1 1230.7 230.1 1230.3 231.1C1230.0 232.1 1229.6 233.1 1229.2 234.1C1228.9 235.1 1228.5 236.1 1228.1 237.1C1227.7 238.1 1227.3 239.1 1226.9 240.1C1226.5 241.1 1226.2 242.1 1225.8 243.1C1225.4 244.1 1225.0 245.1 1224.6 246.1C1224.2 247.1 1223.8 248.1 1223.4 249.1C1223.0 250.1 1222.6 251.1 1222.2 252.1C1221.8 253.1 1221.4 254.1 1221.0 255.1C1220.6 256.1 1220.2 257.1 1219.8 258.1C1219.4 259.1 1219.0 260.1 1218.6 261.1C1218.2 262.1 1217.8 263.1 1217.4 264.1C1217.0 265.1 1216.6 266.1 1216.2 267.1C1215.8 268.1 1215.5 269.1 1215.1 270.1C1214.7 271.1 1214.3 272.1 1213.9 273.1C1213.5 274.1 1213.1 275.1 1212.8 276.1C1212.4 277.1 1212.0 278.1 1211.6 279.1C1211.3 280.1 1210.9 281.1 1210.5 282.1C1210.1 283.1 1209.8 284.1 1209.4 285.1C1209.0 286.1 1208.7 287.1 1208.3 288.1C1207.9 289.1 1207.5 290.1 1207.2 291.1C1206.8 292.1 1206.4 293.1 1206.1 294.1C1205.7 295.1 1205.3 296.1 1205.0 297.1C1204.6 298.1 1204.2 299.1 1203.9 300.1C1203.5 301.1 1203.1 302.1 1202.8 303.1C1202.4 304.1 1202.0 305.1 1201.7 306.1C1201.3 307.1 1200.9 308.1 1200.5 309.1C1200.2 310.1 1199.8 311.1 1199.4 312.1C1199.0 313.1 1198.7 314.1 1198.3 315.1C1197.9 316.1 1197.5 317.1 1197.2 318.1C1196.8 319.1 1196.4 320.1 1196.0 321.1C1195.6 322.1 1195.2 323.1 1194.9 324.1C1194.5 325.1 1194.1 326.1 1193.7 327.1C1193.3 328.1 1192.9 329.1 1192.5 330.1C1192.1 331.1 1191.7 332.1 1191.3 333.1C1190.9 334.1 1190.5 335.1 1190.1 336.1C1189.7 337.1 1189.2 338.1 1188.8 339.1C1188.4 340.1 1188.0 341.2 1187.6 342.2C1187.1 343.2 1186.7 344.2 1186.3 345.2C1185.8 346.2 1185.4 347.2 1185.0 348.2C1184.5 349.2 1184.1 350.2 1183.7 351.2C1183.2 352.2 1182.8 353.2 1182.4 354.2C1181.9 355.2 1181.5 356.2 1181.0 357.2C1180.6 358.2 1180.2 359.2 1179.7 360.2C1179.3 361.2 1178.9 362.2 1178.5 363.2C1178.0 364.2 1177.6 365.2 1177.2 366.2C1176.8 367.2 1176.4 368.2 1176.0 369.2C1175.6 370.2 1175.2 371.2 1174.8 372.2C1174.4 373.2 1174.0 374.2 1173.6 375.2C1173.2 376.2 1172.9 377.2 1172.5 378.2C1172.1 379.2 1171.8 380.2 1171.4 381.2C1171.1 382.2 1170.8 383.2 1170.4 384.2C1170.1 385.2 1169.8 386.2 1169.5 387.2C1169.2 388.2 1168.9 389.2 1168.6 390.2C1168.4 391.2 1168.1 392.2 1167.8 393.2C1167.6 394.2 1167.3 395.2 1167.1 396.2C1166.8 397.2 1166.6 398.2 1166.4 399.2C1166.1 400.2 1165.9 401.2 1165.7 402.2C1165.5 403.2 1165.3 404.2 1165.1 405.2C1164.9 406.2 1164.7 407.2 1164.5 408.2C1164.3 409.2 1164.1 410.2 1163.9 411.2C1163.8 412.2 1163.6 413.2 1163.4 414.2C1163.2 415.2 1163.1 416.2 1162.9 417.2C1162.7 418.2 1162.6 419.2 1162.4 420.2C1162.3 421.2 1162.1 422.2 1162.0 423.2C1161.8 424.2 1161.7 425.2 1161.5 426.2C1161.4 427.2 1161.3 428.2 1161.1 429.2C1161.0 430.2 1160.9 431.2 1160.8 432.2C1160.7 433.2 1160.6 434.2 1160.5 435.2C1160.4 436.2 1160.3 437.2 1160.2 438.2C1160.1 439.2 1160.0 440.2 1159.9 441.2C1159.9 442.2 1159.8 443.2 1159.8 444.2C1159.7 445.2 1159.7 446.2 1159.7 447.2C1159.6 448.2 1159.6 449.2 1159.6 450.2C1159.6 451.2 1159.6 452.2 1159.6 453.2C1159.6 454.2 1159.7 455.2 1159.7 456.2C1159.7 457.2 1159.8 458.2 1159.8 459.2C1159.9 460.2 1160.0 461.2 1160.1 462.2C1160.2 463.2 1160.3 464.2 1160.4 465.2C1160.5 466.2 1160.6 467.2 1160.8 468.2C1160.9 469.2 1161.1 470.2 1161.3 471.2C1161.4 472.2 1161.6 473.2 1161.8 474.2C1162.0 475.2 1162.2 476.2 1162.5 477.2C1162.7 478.2 1162.9 479.2 1163.2 480.2C1163.4 481.2 1163.7 482.2 1164.0 483.2C1164.2 484.2 1164.5 485.2 1164.8 486.2C1165.1 487.2 1165.4 488.2 1165.7 489.2C1166.1 490.2 1166.4 491.2 1166.7 492.2C1167.1 493.2 1167.4 494.2 1167.8 495.2C1168.1 496.2 1168.5 497.2 1168.8 498.2C1169.2 499.2 1169.6 500.2 1170.0 501.2C1170.4 502.2 1170.8 503.2 1171.2 504.2C1171.6 505.2 1172.0 506.2 1172.4 507.2C1172.9 508.2 1173.3 509.2 1173.7 510.2C1174.2 511.2 1174.6 512.2 1175.1 513.2C1175.5 514.2 1176.0 515.2 1176.4 516.2C1176.9 517.2 1177.4 518.2 1177.8 519.2C1178.3 520.2 1178.8 521.2 1179.3 522.2C1179.8 523.2 1180.3 524.2 1180.8 525.2C1181.2 526.2 1181.7 527.2 1182.3 528.2C1182.8 529.2 1183.3 530.2 1183.8 531.2C1184.3 532.2 1184.8 533.2 1185.3 534.2C1185.8 535.2 1186.4 536.2 1186.9 537.2C1187.4 538.2 1187.9 539.2 1188.5 540.2C1189.0 541.2 1189.5 542.2 1190.1 543.2C1190.6 544.2 1191.1 545.2 1191.7 546.2C1192.2 547.2 1192.7 548.2 1193.3 549.2C1193.8 550.2 1194.3 551.2 1194.9 552.2C1195.4 553.2 1195.9 554.2 1196.5 555.2C1197.0 556.2 1197.6 557.2 1198.1 558.2C1198.6 559.2 1199.2 560.2 1199.7 561.2C1200.2 562.2 1200.8 563.2 1201.3 564.2C1201.8 565.2 1202.4 566.2 1202.9 567.2C1203.4 568.2 1203.9 569.2 1204.5 570.2C1205.0 571.2 1205.5 572.2 1206.0 573.2C1206.5 574.2 1207.1 575.2 1207.6 576.2C1208.1 577.2 1208.6 578.2 1209.1 579.2C1209.6 580.2 1210.1 581.2 1210.6 582.2C1211.1 583.2 1211.5 584.2 1212.0 585.2C1212.5 586.2 1213.0 587.2 1213.5 588.2C1213.9 589.2 1214.4 590.2 1214.9 591.2C1215.3 592.2 1215.8 593.2 1216.2 594.2C1216.6 595.2 1217.1 596.2 1217.5 597.2C1217.9 598.2 1218.4 599.2 1218.8 600.2C1219.2 601.2 1219.6 602.3 1220.0 603.3C1220.4 604.3 1220.8 605.3 1221.2 606.3C1221.5 607.3 1221.9 608.3 1222.3 609.3C1222.6 610.3 1223.0 611.3 1223.3 612.3C1223.7 613.3 1224.0 614.3 1224.3 615.3C1224.6 616.3 1225.0 617.3 1225.3 618.3C1225.6 619.3 1225.8 620.3 1226.1 621.3C1226.4 622.3 1226.7 623.3 1227.0 624.3C1227.2 625.3 1227.5 626.3 1227.7 627.3C1228.0 628.3 1228.2 629.3 1228.5 630.3C1228.7 631.3 1228.9 632.3 1229.1 633.3C1229.4 634.3 1229.6 635.3 1229.8 636.3C1230.0 637.3 1230.2 638.3 1230.4 639.3C1230.6 640.3 1230.8 641.3 1231.0 642.3C1231.1 643.3 1231.3 644.3 1231.5 645.3C1231.7 646.3 1231.8 647.3 1232.0 648.3C1232.2 649.3 1232.3 650.3 1232.5 651.3C1232.6 652.3 1232.8 653.3 1232.9 654.3C1233.1 655.3 1233.2 656.3 1233.4 657.3C1233.5 658.3 1233.7 659.3 1233.8 660.3C1233.9 661.3 1234.1 662.3 1234.2 663.3C1234.3 664.3 1234.5 665.3 1234.6 666.3C1234.7 667.3 1234.9 668.3 1235.0 669.3C1235.1 670.3 1235.2 671.3 1235.3 672.3C1235.5 673.3 1235.6 674.3 1235.7 675.3C1235.8 676.3 1235.9 677.3 1236.0 678.3C1236.2 679.3 1236.3 680.3 1236.4 681.3C1236.5 682.3 1236.6 683.3 1236.7 684.3C1236.8 685.3 1236.9 686.3 1237.0 687.3C1237.2 688.3 1237.3 689.3 1237.4 690.3C1237.5 691.3 1237.6 692.3 1237.7 693.3C1237.8 694.3 1237.9 695.3 1238.0 696.3C1238.1 697.3 1238.2 698.3 1238.3 699.3C1238.4 700.3 1238.5 701.3 1238.6 702.3C1238.7 703.3 1238.8 704.3 1238.9 705.3C1239.0 706.3 1239.1 707.3 1239.2 708.3C1239.4 709.3 1239.4 710.3 1239.5 711.3C1239.6 712.3 1239.7 713.3 1239.8 714.3C1239.9 715.3 1240.0 716.3 1240.1 717.3C1240.2 718.3 1240.3 719.3 1240.4 720.3C1240.4 721.3 1240.5 722.3 1240.6 723.3C1240.7 724.3 1240.7 725.3 1240.8 726.3C1240.8 727.3 1240.9 728.3 1241.0 729.3C1241.0 730.3 1241.1 731.8 1241.1 732.3L1256.2 732.3C1256.2 731.8 1256.3 730.3 1256.3 729.3C1256.4 728.3 1256.5 727.3 1256.5 726.3C1256.6 725.3 1256.6 724.3 1256.7 723.3C1256.8 722.3 1256.9 721.3 1256.9 720.3C1257.0 719.3 1257.1 718.3 1257.2 717.3C1257.3 716.3 1257.4 715.3 1257.5 714.3C1257.6 713.3 1257.7 712.3 1257.8 711.3C1257.9 710.3 1257.9 709.3 1258.1 708.3C1258.2 707.3 1258.3 706.3 1258.4 705.3C1258.5 704.3 1258.6 703.3 1258.7 702.3C1258.8 701.3 1258.9 700.3 1259.0 699.3C1259.1 698.3 1259.2 697.3 1259.3 696.3C1259.4 695.3 1259.5 694.3 1259.6 693.3C1259.7 692.3 1259.8 691.3 1259.9 690.3C1260.0 689.3 1260.1 688.3 1260.3 687.3C1260.4 686.3 1260.5 685.3 1260.6 684.3C1260.7 683.3 1260.8 682.3 1260.9 681.3C1261.0 680.3 1261.1 679.3 1261.3 678.3C1261.4 677.3 1261.5 676.3 1261.6 675.3C1261.7 674.3 1261.8 673.3 1262.0 672.3C1262.1 671.3 1262.2 670.3 1262.3 669.3C1262.4 668.3 1262.6 667.3 1262.7 666.3C1262.8 665.3 1263.0 664.3 1263.1 663.3C1263.2 662.3 1263.4 661.3 1263.5 660.3C1263.6 659.3 1263.8 658.3 1263.9 657.3C1264.1 656.3 1264.2 655.3 1264.4 654.3C1264.5 653.3 1264.7 652.3 1264.8 651.3C1265.0 650.3 1265.1 649.3 1265.3 648.3C1265.5 647.3 1265.6 646.3 1265.8 645.3C1266.0 644.3 1266.2 643.3 1266.3 642.3C1266.5 641.3 1266.7 640.3 1266.9 639.3C1267.1 638.3 1267.3 637.3 1267.5 636.3C1267.7 635.3 1267.9 634.3 1268.2 633.3C1268.4 632.3 1268.6 631.3 1268.8 630.3C1269.1 629.3 1269.3 628.3 1269.6 627.3C1269.8 626.3 1270.1 625.3 1270.3 624.3C1270.6 623.3 1270.9 622.3 1271.2 621.3C1271.5 620.3 1271.7 619.3 1272.0 618.3C1272.3 617.3 1272.7 616.3 1273.0 615.3C1273.3 614.3 1273.6 613.3 1274.0 612.3C1274.3 611.3 1274.7 610.3 1275.0 609.3C1275.4 608.3 1275.8 607.3 1276.1 606.3C1276.5 605.3 1276.9 604.3 1277.3 603.3C1277.7 602.3 1278.1 601.2 1278.5 600.2C1278.9 599.2 1279.4 598.2 1279.8 597.2C1280.2 596.2 1280.7 595.2 1281.1 594.2C1281.5 593.2 1282.0 592.2 1282.4 591.2C1282.9 590.2 1283.4 589.2 1283.8 588.2C1284.3 587.2 1284.8 586.2 1285.3 585.2C1285.8 584.2 1286.2 583.2 1286.7 582.2C1287.2 581.2 1287.7 580.2 1288.2 579.2C1288.7 578.2 1289.2 577.2 1289.7 576.2C1290.2 575.2 1290.8 574.2 1291.3 573.2C1291.8 572.2 1292.3 571.2 1292.8 570.2C1293.4 569.2 1293.9 568.2 1294.4 567.2C1294.9 566.2 1295.5 565.2 1296.0 564.2C1296.5 563.2 1297.1 562.2 1297.6 561.2C1298.1 560.2 1298.7 559.2 1299.2 558.2C1299.7 557.2 1300.3 556.2 1300.8 555.2C1301.4 554.2 1301.9 553.2 1302.4 552.2C1303.0 551.2 1303.5 550.2 1304.0 549.2C1304.6 548.2 1305.1 547.2 1305.6 546.2C1306.2 545.2 1306.7 544.2 1307.2 543.2C1307.8 542.2 1308.3 541.2 1308.8 540.2C1309.4 539.2 1309.9 538.2 1310.4 537.2C1310.9 536.2 1311.5 535.2 1312.0 534.2C1312.5 533.2 1313.0 532.2 1313.5 531.2C1314.0 530.2 1314.5 529.2 1315.0 528.2C1315.6 527.2 1316.1 526.2 1316.5 525.2C1317.0 524.2 1317.5 523.2 1318.0 522.2C1318.5 521.2 1319.0 520.2 1319.5 519.2C1319.9 518.2 1320.4 517.2 1320.9 516.2C1321.3 515.2 1321.8 514.2 1322.2 513.2C1322.7 512.2 1323.1 511.2 1323.6 510.2C1324.0 509.2 1324.4 508.2 1324.9 507.2C1325.3 506.2 1325.7 505.2 1326.1 504.2C1326.5 503.2 1326.9 502.2 1327.3 501.2C1327.7 500.2 1328.1 499.2 1328.5 498.2C1328.8 497.2 1329.2 496.2 1329.5 495.2C1329.9 494.2 1330.2 493.2 1330.6 492.2C1330.9 491.2 1331.2 490.2 1331.6 489.2C1331.9 488.2 1332.2 487.2 1332.5 486.2C1332.8 485.2 1333.1 484.2 1333.3 483.2C1333.6 482.2 1333.9 481.2 1334.1 480.2C1334.4 479.2 1334.6 478.2 1334.8 477.2C1335.1 476.2 1335.3 475.2 1335.5 474.2C1335.7 473.2 1335.9 472.2 1336.0 471.2C1336.2 470.2 1336.4 469.2 1336.5 468.2C1336.7 467.2 1336.8 466.2 1336.9 465.2C1337.0 464.2 1337.1 463.2 1337.2 462.2C1337.3 461.2 1337.4 460.2 1337.5 459.2C1337.5 458.2 1337.6 457.2 1337.6 456.2C1337.6 455.2 1337.7 454.2 1337.7 453.2C1337.7 452.2 1337.7 451.2 1337.7 450.2C1337.7 449.2 1337.7 448.2 1337.6 447.2C1337.6 446.2 1337.6 445.2 1337.5 444.2C1337.5 443.2 1337.4 442.2 1337.4 441.2C1337.3 440.2 1337.2 439.2 1337.1 438.2C1337.0 437.2 1336.9 436.2 1336.8 435.2C1336.7 434.2 1336.6 433.2 1336.5 432.2C1336.4 431.2 1336.3 430.2 1336.2 429.2C1336.0 428.2 1335.9 427.2 1335.8 426.2C1335.6 425.2 1335.5 424.2 1335.3 423.2C1335.2 422.2 1335.0 421.2 1334.9 420.2C1334.7 419.2 1334.6 418.2 1334.4 417.2C1334.2 416.2 1334.1 415.2 1333.9 414.2C1333.7 413.2 1333.5 412.2 1333.4 411.2C1333.2 410.2 1333.0 409.2 1332.8 408.2C1332.6 407.2 1332.4 406.2 1332.2 405.2C1332.0 404.2 1331.8 403.2 1331.6 402.2C1331.4 401.2 1331.2 400.2 1330.9 399.2C1330.7 398.2 1330.5 397.2 1330.2 396.2C1330.0 395.2 1329.7 394.2 1329.5 393.2C1329.2 392.2 1328.9 391.2 1328.7 390.2C1328.4 389.2 1328.1 388.2 1327.8 387.2C1327.5 386.2 1327.2 385.2 1326.9 384.2C1326.5 383.2 1326.2 382.2 1325.9 381.2C1325.5 380.2 1325.2 379.2 1324.8 378.2C1324.4 377.2 1324.1 376.2 1323.7 375.2C1323.3 374.2 1322.9 373.2 1322.5 372.2C1322.1 371.2 1321.7 370.2 1321.3 369.2C1320.9 368.2 1320.5 367.2 1320.1 366.2C1319.7 365.2 1319.3 364.2 1318.8 363.2C1318.4 362.2 1318.0 361.2 1317.6 360.2C1317.1 359.2 1316.7 358.2 1316.3 357.2C1315.8 356.2 1315.4 355.2 1314.9 354.2C1314.5 353.2 1314.1 352.2 1313.6 351.2C1313.2 350.2 1312.8 349.2 1312.3 348.2C1311.9 347.2 1311.5 346.2 1311.0 345.2C1310.6 344.2 1310.2 343.2 1309.7 342.2C1309.3 341.2 1308.9 340.1 1308.5 339.1C1308.1 338.1 1307.6 337.1 1307.2 336.1C1306.8 335.1 1306.4 334.1 1306.0 333.1C1305.6 332.1 1305.2 331.1 1304.8 330.1C1304.4 329.1 1304.0 328.1 1303.6 327.1C1303.2 326.1 1302.8 325.1 1302.4 324.1C1302.1 323.1 1301.7 322.1 1301.3 321.1C1300.9 320.1 1300.5 319.1 1300.1 318.1C1299.8 317.1 1299.4 316.1 1299.0 315.1C1298.6 314.1 1298.3 313.1 1297.9 312.1C1297.5 311.1 1297.1 310.1 1296.8 309.1C1296.4 308.1 1296.0 307.1 1295.6 306.1C1295.3 305.1 1294.9 304.1 1294.5 303.1C1294.2 302.1 1293.8 301.1 1293.4 300.1C1293.1 299.1 1292.7 298.1 1292.3 297.1C1292.0 296.1 1291.6 295.1 1291.2 294.1C1290.9 293.1 1290.5 292.1 1290.1 291.1C1289.8 290.1 1289.4 289.1 1289.0 288.1C1288.6 287.1 1288.3 286.1 1287.9 285.1C1287.5 284.1 1287.2 283.1 1286.8 282.1C1286.4 281.1 1286.0 280.1 1285.7 279.1C1285.3 278.1 1284.9 277.1 1284.5 276.1C1284.2 275.1 1283.8 274.1 1283.4 273.1C1283.0 272.1 1282.6 271.1 1282.2 270.1C1281.8 269.1 1281.5 268.1 1281.1 267.1C1280.7 266.1 1280.3 265.1 1279.9 264.1C1279.5 263.1 1279.1 262.1 1278.7 261.1C1278.3 260.1 1277.9 259.1 1277.5 258.1C1277.1 257.1 1276.7 256.1 1276.3 255.1C1275.9 254.1 1275.5 253.1 1275.1 252.1C1274.7 251.1 1274.3 250.1 1273.9 249.1C1273.5 248.1 1273.1 247.1 1272.7 246.1C1272.3 245.1 1271.9 244.1 1271.5 243.1C1271.1 242.1 1270.8 241.1 1270.4 240.1C1270.0 239.1 1269.6 238.1 1269.2 237.1C1268.8 236.1 1268.4 235.1 1268.1 234.1C1267.7 233.1 1267.3 232.1 1267.0 231.1C1266.6 230.1 1266.3 229.1 1266.0 228.1C1265.6 227.1 1265.3 226.1 1265.0 225.1C1264.7 224.1 1264.4 223.1 1264.2 222.1C1263.9 221.1 1263.7 220.1 1263.5 219.1C1263.3 218.1 1263.1 217.1 1262.9 216.1C1262.8 215.1 1262.6 214.1 1262.5 213.1C1262.4 212.1 1262.3 210.6 1262.3 210.1Z" fill="none" stroke="#486c8c" stroke-opacity="0.16" stroke-width="2.4" clip-path="url(#k_c_low)"/>
<clipPath id="k_c_mid"><path d="M1241.2 168.1C1241.0 168.6 1240.6 170.1 1240.2 171.1C1239.9 172.1 1239.6 173.1 1239.3 174.1C1239.0 175.1 1238.7 176.1 1238.4 177.1C1238.1 178.1 1237.8 179.1 1237.5 180.1C1237.2 181.1 1236.9 182.1 1236.7 183.1C1236.4 184.1 1236.1 185.1 1235.9 186.1C1235.6 187.1 1235.4 188.1 1235.2 189.1C1235.0 190.1 1234.7 191.1 1234.5 192.1C1234.4 193.1 1234.2 194.1 1234.0 195.1C1233.8 196.1 1233.7 197.1 1233.6 198.1C1233.4 199.1 1233.3 200.1 1233.2 201.1C1233.1 202.1 1233.1 203.1 1233.0 204.1C1233.0 205.1 1232.9 206.1 1232.9 207.1C1232.9 208.1 1232.9 209.1 1233.0 210.1C1233.0 211.1 1233.0 212.1 1233.1 213.1C1233.2 214.1 1233.2 215.1 1233.3 216.1C1233.4 217.1 1233.5 218.1 1233.6 219.1C1233.7 220.1 1233.8 221.1 1233.9 222.1C1234.0 223.1 1234.1 224.1 1234.2 225.0C1234.3 226.0 1234.4 227.0 1234.5 228.0C1234.6 229.0 1234.7 230.0 1234.8 231.0C1234.8 232.0 1234.9 233.0 1235.0 234.0C1235.0 235.0 1235.1 236.0 1235.1 237.0C1235.1 238.0 1235.1 239.0 1235.1 240.0C1235.1 241.0 1235.1 242.0 1235.0 243.0C1235.0 244.0 1234.9 245.0 1234.8 246.0C1234.7 247.0 1234.5 248.0 1234.4 249.0C1234.2 250.0 1234.0 251.0 1233.8 252.0C1233.5 253.0 1233.3 254.0 1232.9 255.0C1232.6 256.0 1232.3 257.0 1231.9 258.0C1231.5 259.0 1231.1 260.0 1230.6 261.0C1230.1 262.0 1229.6 263.0 1229.0 264.0C1228.4 265.0 1227.8 266.0 1227.1 267.0C1226.5 268.0 1225.7 269.0 1225.0 270.0C1224.3 271.0 1223.5 272.0 1222.8 273.0C1222.0 274.0 1221.2 275.0 1220.4 276.0C1219.7 277.0 1218.9 278.0 1218.1 279.0C1217.3 280.0 1216.6 281.0 1215.8 282.0C1215.1 283.0 1214.4 284.0 1213.7 285.0C1213.0 286.0 1212.4 287.0 1211.8 288.0C1211.2 289.0 1210.6 290.0 1210.1 291.0C1209.6 292.0 1209.2 293.0 1208.8 294.0C1208.3 295.0 1208.0 296.0 1207.7 297.0C1207.4 298.0 1207.2 299.0 1207.0 300.0C1206.8 301.0 1206.7 302.0 1206.6 303.0C1206.6 304.0 1206.6 305.0 1206.6 306.0C1206.6 307.0 1206.7 308.0 1206.8 309.0C1206.9 310.0 1207.1 311.0 1207.2 312.0C1207.4 313.0 1207.6 314.0 1207.9 315.0C1208.1 316.0 1208.4 317.0 1208.7 318.0C1209.0 319.0 1209.4 320.0 1209.8 321.0C1210.2 322.0 1210.6 323.0 1211.1 324.0C1211.5 325.0 1212.0 326.0 1212.5 327.0C1213.1 328.0 1213.6 329.0 1214.2 330.0C1214.7 331.0 1215.3 332.0 1215.8 333.0C1216.3 334.0 1216.9 335.0 1217.3 336.0C1217.8 337.0 1218.3 337.9 1218.7 338.9C1219.0 339.9 1219.4 340.9 1219.6 341.9C1219.9 342.9 1220.1 343.9 1220.2 344.9C1220.3 345.9 1220.4 346.9 1220.4 347.9C1220.4 348.9 1220.3 349.9 1220.1 350.9C1220.0 351.9 1219.8 352.9 1219.5 353.9C1219.2 354.9 1218.8 355.9 1218.4 356.9C1218.0 357.9 1217.5 358.9 1216.9 359.9C1216.3 360.9 1215.7 361.9 1214.9 362.9C1214.2 363.9 1213.4 364.9 1212.5 365.9C1211.6 366.9 1210.7 367.9 1209.6 368.9C1208.6 369.9 1207.5 370.9 1206.3 371.9C1205.2 372.9 1203.9 373.9 1202.6 374.9C1201.3 375.9 1199.9 376.9 1198.4 377.9C1197.0 378.9 1195.5 379.9 1193.9 380.9C1192.3 381.9 1190.7 382.9 1189.0 383.9C1187.3 384.9 1185.5 385.9 1183.7 386.9C1181.9 387.9 1180.1 388.9 1178.1 389.9C1176.2 390.9 1174.3 391.9 1172.3 392.9C1170.3 393.9 1168.2 394.9 1166.1 395.9C1164.1 396.9 1162.0 397.9 1159.9 398.9C1157.8 399.9 1155.8 400.9 1153.7 401.9C1151.5 402.9 1149.3 403.9 1147.0 404.9C1144.7 405.9 1142.3 406.9 1140.0 407.9C1137.7 408.9 1135.3 409.9 1133.1 410.9C1130.9 411.9 1128.7 412.9 1126.7 413.9C1124.7 414.9 1122.7 415.9 1120.9 416.9C1119.0 417.9 1117.3 418.9 1115.6 419.9C1113.9 420.9 1112.3 421.9 1110.7 422.9C1109.1 423.9 1107.6 424.9 1106.1 425.9C1104.6 426.9 1103.2 427.9 1101.8 428.9C1100.4 429.9 1099.1 430.9 1097.9 431.9C1096.6 432.9 1095.4 433.9 1094.4 434.9C1093.3 435.9 1092.3 436.9 1091.4 437.9C1090.5 438.9 1089.6 439.9 1088.9 440.9C1088.2 441.9 1087.6 442.9 1087.2 443.9C1086.7 444.9 1086.3 445.9 1086.1 446.9C1085.9 447.9 1085.8 448.9 1085.8 449.9C1085.9 450.9 1086.1 451.8 1086.4 452.8C1086.7 453.8 1087.1 454.8 1087.7 455.8C1088.2 456.8 1088.9 457.8 1089.7 458.8C1090.4 459.8 1091.3 460.8 1092.3 461.8C1093.2 462.8 1094.2 463.8 1095.3 464.8C1096.4 465.8 1097.6 466.8 1098.8 467.8C1100.0 468.8 1101.3 469.8 1102.6 470.8C1103.9 471.8 1105.2 472.8 1106.6 473.8C1107.9 474.8 1109.3 475.8 1110.7 476.8C1112.1 477.8 1113.5 478.8 1114.9 479.8C1116.3 480.8 1117.7 481.8 1119.1 482.8C1120.6 483.8 1122.0 484.8 1123.4 485.8C1124.9 486.8 1126.3 487.8 1127.8 488.8C1129.2 489.8 1130.7 490.8 1132.2 491.8C1133.6 492.8 1135.1 493.8 1136.5 494.8C1138.0 495.8 1139.5 496.8 1140.9 497.8C1142.4 498.8 1143.9 499.8 1145.3 500.8C1146.8 501.8 1148.3 502.8 1149.7 503.8C1151.2 504.8 1152.6 505.8 1154.1 506.8C1155.5 507.8 1157.0 508.8 1158.4 509.8C1159.8 510.8 1161.2 511.8 1162.6 512.8C1164.1 513.8 1165.4 514.8 1166.8 515.8C1168.2 516.8 1169.6 517.8 1170.9 518.8C1172.3 519.8 1173.6 520.8 1174.9 521.8C1176.2 522.8 1177.5 523.8 1178.8 524.8C1180.1 525.8 1181.3 526.8 1182.5 527.8C1183.8 528.8 1185.0 529.8 1186.2 530.8C1187.4 531.8 1188.6 532.8 1189.7 533.8C1190.9 534.8 1192.1 535.8 1193.2 536.8C1194.4 537.8 1195.6 538.8 1196.7 539.8C1197.9 540.8 1199.0 541.8 1200.2 542.8C1201.3 543.8 1202.4 544.8 1203.5 545.8C1204.5 546.8 1205.6 547.8 1206.6 548.8C1207.5 549.8 1208.5 550.8 1209.4 551.8C1210.3 552.8 1211.1 553.8 1211.9 554.8C1212.7 555.8 1213.5 556.8 1214.2 557.8C1214.9 558.8 1215.6 559.8 1216.3 560.8C1217.0 561.8 1217.6 562.8 1218.2 563.8C1218.8 564.7 1219.4 565.7 1219.9 566.7C1220.5 567.7 1221.0 568.7 1221.5 569.7C1222.0 570.7 1222.5 571.7 1223.0 572.7C1223.4 573.7 1223.9 574.7 1224.3 575.7C1224.8 576.7 1225.2 577.7 1225.6 578.7C1226.0 579.7 1226.4 580.7 1226.8 581.7C1227.2 582.7 1227.6 583.7 1228.0 584.7C1228.4 585.7 1228.8 586.7 1229.2 587.7C1229.6 588.7 1230.0 589.7 1230.4 590.7C1230.8 591.7 1231.2 592.7 1231.5 593.7C1231.9 594.7 1232.3 595.7 1232.7 596.7C1233.0 597.7 1233.4 598.7 1233.8 599.7C1234.1 600.7 1234.5 601.7 1234.9 602.7C1235.2 603.7 1235.6 604.7 1235.9 605.7C1236.3 606.7 1236.6 607.7 1237.0 608.7C1237.3 609.7 1237.6 610.7 1238.0 611.7C1238.3 612.7 1238.7 613.7 1239.0 614.7C1239.3 615.7 1239.6 616.7 1240.0 617.7C1240.3 618.7 1240.7 620.2 1240.9 620.7L1255.3 620.7C1255.5 620.2 1255.9 618.7 1256.2 617.7C1256.6 616.7 1256.9 615.7 1257.2 614.7C1257.5 613.7 1257.9 612.7 1258.2 611.7C1258.6 610.7 1258.9 609.7 1259.2 608.7C1259.6 607.7 1259.9 606.7 1260.3 605.7C1260.6 604.7 1261.0 603.7 1261.3 602.7C1261.7 601.7 1262.1 600.7 1262.4 599.7C1262.8 598.7 1263.2 597.7 1263.5 596.7C1263.9 595.7 1264.3 594.7 1264.7 593.7C1265.0 592.7 1265.4 591.7 1265.8 590.7C1266.2 589.7 1266.6 588.7 1267.0 587.7C1267.4 586.7 1267.8 585.7 1268.2 584.7C1268.6 583.7 1269.0 582.7 1269.4 581.7C1269.8 580.7 1270.2 579.7 1270.6 578.7C1271.0 577.7 1271.4 576.7 1271.9 575.7C1272.3 574.7 1272.8 573.7 1273.2 572.7C1273.7 571.7 1274.2 570.7 1274.7 569.7C1275.2 568.7 1275.7 567.7 1276.3 566.7C1276.8 565.7 1277.4 564.7 1278.0 563.8C1278.6 562.8 1279.2 561.8 1279.9 560.8C1280.6 559.8 1281.3 558.8 1282.0 557.8C1282.7 556.8 1283.5 555.8 1284.3 554.8C1285.1 553.8 1286.0 552.8 1286.8 551.8C1287.7 550.8 1288.7 549.8 1289.7 548.8C1290.6 547.8 1291.7 546.8 1292.8 545.8C1293.8 544.8 1295.0 543.8 1296.1 542.8C1297.2 541.8 1298.4 540.8 1299.5 539.8C1300.7 538.8 1301.9 537.8 1303.0 536.8C1304.2 535.8 1305.4 534.8 1306.5 533.8C1307.7 532.8 1308.9 531.8 1310.1 530.8C1311.3 529.8 1312.5 528.8 1313.8 527.8C1315.0 526.8 1316.3 525.8 1317.6 524.8C1318.8 523.8 1320.1 522.8 1321.5 521.8C1322.8 520.8 1324.1 519.8 1325.5 518.8C1326.8 517.8 1328.2 516.8 1329.6 515.8C1331.0 514.8 1332.4 513.8 1333.8 512.8C1335.2 511.8 1336.6 510.8 1338.1 509.8C1339.5 508.8 1340.9 507.8 1342.4 506.8C1343.9 505.8 1345.3 504.8 1346.8 503.8C1348.2 502.8 1349.7 501.8 1351.2 500.8C1352.7 499.8 1354.1 498.8 1355.6 497.8C1357.1 496.8 1358.6 495.8 1360.0 494.8C1361.5 493.8 1363.0 492.8 1364.4 491.8C1365.9 490.8 1367.4 489.8 1368.8 488.8C1370.3 487.8 1371.8 486.8 1373.2 485.8C1374.7 484.8 1376.1 483.8 1377.5 482.8C1379.0 481.8 1380.4 480.8 1381.8 479.8C1383.2 478.8 1384.6 477.8 1386.0 476.8C1387.4 475.8 1388.8 474.8 1390.1 473.8C1391.5 472.8 1392.9 471.8 1394.2 470.8C1395.5 469.8 1396.7 468.8 1397.9 467.8C1399.2 466.8 1400.3 465.8 1401.4 464.8C1402.5 463.8 1403.6 462.8 1404.5 461.8C1405.5 460.8 1406.3 459.8 1407.1 458.8C1407.9 457.8 1408.6 456.8 1409.1 455.8C1409.7 454.8 1410.1 453.8 1410.4 452.8C1410.7 451.8 1410.9 450.9 1411.0 449.9C1411.0 448.9 1410.9 447.9 1410.7 446.9C1410.5 445.9 1410.1 444.9 1409.6 443.9C1409.1 442.9 1408.5 441.9 1407.8 440.9C1407.1 439.9 1406.3 438.9 1405.4 437.9C1404.4 436.9 1403.4 435.9 1402.3 434.9C1401.2 433.9 1400.0 432.9 1398.8 431.9C1397.5 430.9 1396.2 429.9 1394.8 428.9C1393.4 427.9 1391.9 426.9 1390.4 425.9C1388.9 424.9 1387.4 423.9 1385.8 422.9C1384.2 421.9 1382.5 420.9 1380.8 419.9C1379.1 418.9 1377.3 417.9 1375.5 416.9C1373.6 415.9 1371.6 414.9 1369.6 413.9C1367.5 412.9 1365.4 411.9 1363.1 410.9C1360.9 409.9 1358.5 408.9 1356.2 407.9C1353.8 406.9 1351.4 405.9 1349.1 404.9C1346.8 403.9 1344.5 402.9 1342.4 401.9C1340.2 400.9 1338.2 399.9 1336.1 398.9C1334.0 397.9 1331.9 396.9 1329.8 395.9C1327.7 394.9 1325.6 393.9 1323.6 392.9C1321.6 391.9 1319.6 390.9 1317.7 389.9C1315.8 388.9 1313.9 387.9 1312.1 386.9C1310.3 385.9 1308.5 384.9 1306.8 383.9C1305.1 382.9 1303.5 381.9 1301.9 380.9C1300.3 379.9 1298.8 378.9 1297.4 377.9C1295.9 376.9 1294.5 375.9 1293.2 374.9C1291.9 373.9 1290.6 372.9 1289.5 371.9C1288.3 370.9 1287.2 369.9 1286.2 368.9C1285.1 367.9 1284.2 366.9 1283.3 365.9C1282.4 364.9 1281.6 363.9 1280.9 362.9C1280.1 361.9 1279.5 360.9 1278.9 359.9C1278.3 358.9 1277.8 357.9 1277.4 356.9C1277.0 355.9 1276.6 354.9 1276.3 353.9C1276.0 352.9 1275.8 351.9 1275.7 350.9C1275.5 349.9 1275.4 348.9 1275.4 347.9C1275.4 346.9 1275.5 345.9 1275.6 344.9C1275.7 343.9 1275.9 342.9 1276.2 341.9C1276.4 340.9 1276.8 339.9 1277.1 338.9C1277.5 337.9 1278.0 337.0 1278.5 336.0C1278.9 335.0 1279.5 334.0 1280.0 333.0C1280.5 332.0 1281.1 331.0 1281.6 330.0C1282.2 329.0 1282.7 328.0 1283.3 327.0C1283.8 326.0 1284.3 325.0 1284.7 324.0C1285.2 323.0 1285.6 322.0 1286.0 321.0C1286.4 320.0 1286.8 319.0 1287.1 318.0C1287.4 317.0 1287.7 316.0 1287.9 315.0C1288.2 314.0 1288.4 313.0 1288.6 312.0C1288.7 311.0 1288.9 310.0 1289.0 309.0C1289.1 308.0 1289.2 307.0 1289.2 306.0C1289.2 305.0 1289.2 304.0 1289.2 303.0C1289.1 302.0 1289.0 301.0 1288.8 300.0C1288.6 299.0 1288.4 298.0 1288.1 297.0C1287.8 296.0 1287.5 295.0 1287.0 294.0C1286.6 293.0 1286.2 292.0 1285.7 291.0C1285.2 290.0 1284.6 289.0 1284.0 288.0C1283.4 287.0 1282.8 286.0 1282.1 285.0C1281.4 284.0 1280.7 283.0 1280.0 282.0C1279.2 281.0 1278.5 280.0 1277.7 279.0C1276.9 278.0 1276.1 277.0 1275.4 276.0C1274.6 275.0 1273.8 274.0 1273.0 273.0C1272.3 272.0 1271.5 271.0 1270.8 270.0C1270.1 269.0 1269.3 268.0 1268.7 267.0C1268.0 266.0 1267.4 265.0 1266.8 264.0C1266.2 263.0 1265.7 262.0 1265.2 261.0C1264.7 260.0 1264.3 259.0 1263.9 258.0C1263.5 257.0 1263.2 256.0 1262.9 255.0C1262.5 254.0 1262.3 253.0 1262.0 252.0C1261.8 251.0 1261.6 250.0 1261.4 249.0C1261.3 248.0 1261.1 247.0 1261.0 246.0C1260.9 245.0 1260.8 244.0 1260.8 243.0C1260.7 242.0 1260.7 241.0 1260.7 240.0C1260.7 239.0 1260.7 238.0 1260.7 237.0C1260.7 236.0 1260.8 235.0 1260.8 234.0C1260.9 233.0 1261.0 232.0 1261.0 231.0C1261.1 230.0 1261.2 229.0 1261.3 228.0C1261.4 227.0 1261.5 226.0 1261.6 225.0C1261.7 224.1 1261.8 223.1 1261.9 222.1C1262.0 221.1 1262.1 220.1 1262.2 219.1C1262.3 218.1 1262.4 217.1 1262.5 216.1C1262.6 215.1 1262.6 214.1 1262.7 213.1C1262.8 212.1 1262.8 211.1 1262.8 210.1C1262.9 209.1 1262.9 208.1 1262.9 207.1C1262.9 206.1 1262.8 205.1 1262.8 204.1C1262.7 203.1 1262.7 202.1 1262.6 201.1C1262.5 200.1 1262.4 199.1 1262.2 198.1C1262.1 197.1 1262.0 196.1 1261.8 195.1C1261.6 194.1 1261.4 193.1 1261.3 192.1C1261.1 191.1 1260.8 190.1 1260.6 189.1C1260.4 188.1 1260.2 187.1 1259.9 186.1C1259.7 185.1 1259.4 184.1 1259.1 183.1C1258.9 182.1 1258.6 181.1 1258.3 180.1C1258.0 179.1 1257.7 178.1 1257.4 177.1C1257.1 176.1 1256.8 175.1 1256.5 174.1C1256.2 173.1 1255.9 172.1 1255.6 171.1C1255.2 170.1 1254.8 168.6 1254.6 168.1Z"/></clipPath>
<path d="M1241.2 168.1C1241.0 168.6 1240.6 170.1 1240.2 171.1C1239.9 172.1 1239.6 173.1 1239.3 174.1C1239.0 175.1 1238.7 176.1 1238.4 177.1C1238.1 178.1 1237.8 179.1 1237.5 180.1C1237.2 181.1 1236.9 182.1 1236.7 183.1C1236.4 184.1 1236.1 185.1 1235.9 186.1C1235.6 187.1 1235.4 188.1 1235.2 189.1C1235.0 190.1 1234.7 191.1 1234.5 192.1C1234.4 193.1 1234.2 194.1 1234.0 195.1C1233.8 196.1 1233.7 197.1 1233.6 198.1C1233.4 199.1 1233.3 200.1 1233.2 201.1C1233.1 202.1 1233.1 203.1 1233.0 204.1C1233.0 205.1 1232.9 206.1 1232.9 207.1C1232.9 208.1 1232.9 209.1 1233.0 210.1C1233.0 211.1 1233.0 212.1 1233.1 213.1C1233.2 214.1 1233.2 215.1 1233.3 216.1C1233.4 217.1 1233.5 218.1 1233.6 219.1C1233.7 220.1 1233.8 221.1 1233.9 222.1C1234.0 223.1 1234.1 224.1 1234.2 225.0C1234.3 226.0 1234.4 227.0 1234.5 228.0C1234.6 229.0 1234.7 230.0 1234.8 231.0C1234.8 232.0 1234.9 233.0 1235.0 234.0C1235.0 235.0 1235.1 236.0 1235.1 237.0C1235.1 238.0 1235.1 239.0 1235.1 240.0C1235.1 241.0 1235.1 242.0 1235.0 243.0C1235.0 244.0 1234.9 245.0 1234.8 246.0C1234.7 247.0 1234.5 248.0 1234.4 249.0C1234.2 250.0 1234.0 251.0 1233.8 252.0C1233.5 253.0 1233.3 254.0 1232.9 255.0C1232.6 256.0 1232.3 257.0 1231.9 258.0C1231.5 259.0 1231.1 260.0 1230.6 261.0C1230.1 262.0 1229.6 263.0 1229.0 264.0C1228.4 265.0 1227.8 266.0 1227.1 267.0C1226.5 268.0 1225.7 269.0 1225.0 270.0C1224.3 271.0 1223.5 272.0 1222.8 273.0C1222.0 274.0 1221.2 275.0 1220.4 276.0C1219.7 277.0 1218.9 278.0 1218.1 279.0C1217.3 280.0 1216.6 281.0 1215.8 282.0C1215.1 283.0 1214.4 284.0 1213.7 285.0C1213.0 286.0 1212.4 287.0 1211.8 288.0C1211.2 289.0 1210.6 290.0 1210.1 291.0C1209.6 292.0 1209.2 293.0 1208.8 294.0C1208.3 295.0 1208.0 296.0 1207.7 297.0C1207.4 298.0 1207.2 299.0 1207.0 300.0C1206.8 301.0 1206.7 302.0 1206.6 303.0C1206.6 304.0 1206.6 305.0 1206.6 306.0C1206.6 307.0 1206.7 308.0 1206.8 309.0C1206.9 310.0 1207.1 311.0 1207.2 312.0C1207.4 313.0 1207.6 314.0 1207.9 315.0C1208.1 316.0 1208.4 317.0 1208.7 318.0C1209.0 319.0 1209.4 320.0 1209.8 321.0C1210.2 322.0 1210.6 323.0 1211.1 324.0C1211.5 325.0 1212.0 326.0 1212.5 327.0C1213.1 328.0 1213.6 329.0 1214.2 330.0C1214.7 331.0 1215.3 332.0 1215.8 333.0C1216.3 334.0 1216.9 335.0 1217.3 336.0C1217.8 337.0 1218.3 337.9 1218.7 338.9C1219.0 339.9 1219.4 340.9 1219.6 341.9C1219.9 342.9 1220.1 343.9 1220.2 344.9C1220.3 345.9 1220.4 346.9 1220.4 347.9C1220.4 348.9 1220.3 349.9 1220.1 350.9C1220.0 351.9 1219.8 352.9 1219.5 353.9C1219.2 354.9 1218.8 355.9 1218.4 356.9C1218.0 357.9 1217.5 358.9 1216.9 359.9C1216.3 360.9 1215.7 361.9 1214.9 362.9C1214.2 363.9 1213.4 364.9 1212.5 365.9C1211.6 366.9 1210.7 367.9 1209.6 368.9C1208.6 369.9 1207.5 370.9 1206.3 371.9C1205.2 372.9 1203.9 373.9 1202.6 374.9C1201.3 375.9 1199.9 376.9 1198.4 377.9C1197.0 378.9 1195.5 379.9 1193.9 380.9C1192.3 381.9 1190.7 382.9 1189.0 383.9C1187.3 384.9 1185.5 385.9 1183.7 386.9C1181.9 387.9 1180.1 388.9 1178.1 389.9C1176.2 390.9 1174.3 391.9 1172.3 392.9C1170.3 393.9 1168.2 394.9 1166.1 395.9C1164.1 396.9 1162.0 397.9 1159.9 398.9C1157.8 399.9 1155.8 400.9 1153.7 401.9C1151.5 402.9 1149.3 403.9 1147.0 404.9C1144.7 405.9 1142.3 406.9 1140.0 407.9C1137.7 408.9 1135.3 409.9 1133.1 410.9C1130.9 411.9 1128.7 412.9 1126.7 413.9C1124.7 414.9 1122.7 415.9 1120.9 416.9C1119.0 417.9 1117.3 418.9 1115.6 419.9C1113.9 420.9 1112.3 421.9 1110.7 422.9C1109.1 423.9 1107.6 424.9 1106.1 425.9C1104.6 426.9 1103.2 427.9 1101.8 428.9C1100.4 429.9 1099.1 430.9 1097.9 431.9C1096.6 432.9 1095.4 433.9 1094.4 434.9C1093.3 435.9 1092.3 436.9 1091.4 437.9C1090.5 438.9 1089.6 439.9 1088.9 440.9C1088.2 441.9 1087.6 442.9 1087.2 443.9C1086.7 444.9 1086.3 445.9 1086.1 446.9C1085.9 447.9 1085.8 448.9 1085.8 449.9C1085.9 450.9 1086.1 451.8 1086.4 452.8C1086.7 453.8 1087.1 454.8 1087.7 455.8C1088.2 456.8 1088.9 457.8 1089.7 458.8C1090.4 459.8 1091.3 460.8 1092.3 461.8C1093.2 462.8 1094.2 463.8 1095.3 464.8C1096.4 465.8 1097.6 466.8 1098.8 467.8C1100.0 468.8 1101.3 469.8 1102.6 470.8C1103.9 471.8 1105.2 472.8 1106.6 473.8C1107.9 474.8 1109.3 475.8 1110.7 476.8C1112.1 477.8 1113.5 478.8 1114.9 479.8C1116.3 480.8 1117.7 481.8 1119.1 482.8C1120.6 483.8 1122.0 484.8 1123.4 485.8C1124.9 486.8 1126.3 487.8 1127.8 488.8C1129.2 489.8 1130.7 490.8 1132.2 491.8C1133.6 492.8 1135.1 493.8 1136.5 494.8C1138.0 495.8 1139.5 496.8 1140.9 497.8C1142.4 498.8 1143.9 499.8 1145.3 500.8C1146.8 501.8 1148.3 502.8 1149.7 503.8C1151.2 504.8 1152.6 505.8 1154.1 506.8C1155.5 507.8 1157.0 508.8 1158.4 509.8C1159.8 510.8 1161.2 511.8 1162.6 512.8C1164.1 513.8 1165.4 514.8 1166.8 515.8C1168.2 516.8 1169.6 517.8 1170.9 518.8C1172.3 519.8 1173.6 520.8 1174.9 521.8C1176.2 522.8 1177.5 523.8 1178.8 524.8C1180.1 525.8 1181.3 526.8 1182.5 527.8C1183.8 528.8 1185.0 529.8 1186.2 530.8C1187.4 531.8 1188.6 532.8 1189.7 533.8C1190.9 534.8 1192.1 535.8 1193.2 536.8C1194.4 537.8 1195.6 538.8 1196.7 539.8C1197.9 540.8 1199.0 541.8 1200.2 542.8C1201.3 543.8 1202.4 544.8 1203.5 545.8C1204.5 546.8 1205.6 547.8 1206.6 548.8C1207.5 549.8 1208.5 550.8 1209.4 551.8C1210.3 552.8 1211.1 553.8 1211.9 554.8C1212.7 555.8 1213.5 556.8 1214.2 557.8C1214.9 558.8 1215.6 559.8 1216.3 560.8C1217.0 561.8 1217.6 562.8 1218.2 563.8C1218.8 564.7 1219.4 565.7 1219.9 566.7C1220.5 567.7 1221.0 568.7 1221.5 569.7C1222.0 570.7 1222.5 571.7 1223.0 572.7C1223.4 573.7 1223.9 574.7 1224.3 575.7C1224.8 576.7 1225.2 577.7 1225.6 578.7C1226.0 579.7 1226.4 580.7 1226.8 581.7C1227.2 582.7 1227.6 583.7 1228.0 584.7C1228.4 585.7 1228.8 586.7 1229.2 587.7C1229.6 588.7 1230.0 589.7 1230.4 590.7C1230.8 591.7 1231.2 592.7 1231.5 593.7C1231.9 594.7 1232.3 595.7 1232.7 596.7C1233.0 597.7 1233.4 598.7 1233.8 599.7C1234.1 600.7 1234.5 601.7 1234.9 602.7C1235.2 603.7 1235.6 604.7 1235.9 605.7C1236.3 606.7 1236.6 607.7 1237.0 608.7C1237.3 609.7 1237.6 610.7 1238.0 611.7C1238.3 612.7 1238.7 613.7 1239.0 614.7C1239.3 615.7 1239.6 616.7 1240.0 617.7C1240.3 618.7 1240.7 620.2 1240.9 620.7L1255.3 620.7C1255.5 620.2 1255.9 618.7 1256.2 617.7C1256.6 616.7 1256.9 615.7 1257.2 614.7C1257.5 613.7 1257.9 612.7 1258.2 611.7C1258.6 610.7 1258.9 609.7 1259.2 608.7C1259.6 607.7 1259.9 606.7 1260.3 605.7C1260.6 604.7 1261.0 603.7 1261.3 602.7C1261.7 601.7 1262.1 600.7 1262.4 599.7C1262.8 598.7 1263.2 597.7 1263.5 596.7C1263.9 595.7 1264.3 594.7 1264.7 593.7C1265.0 592.7 1265.4 591.7 1265.8 590.7C1266.2 589.7 1266.6 588.7 1267.0 587.7C1267.4 586.7 1267.8 585.7 1268.2 584.7C1268.6 583.7 1269.0 582.7 1269.4 581.7C1269.8 580.7 1270.2 579.7 1270.6 578.7C1271.0 577.7 1271.4 576.7 1271.9 575.7C1272.3 574.7 1272.8 573.7 1273.2 572.7C1273.7 571.7 1274.2 570.7 1274.7 569.7C1275.2 568.7 1275.7 567.7 1276.3 566.7C1276.8 565.7 1277.4 564.7 1278.0 563.8C1278.6 562.8 1279.2 561.8 1279.9 560.8C1280.6 559.8 1281.3 558.8 1282.0 557.8C1282.7 556.8 1283.5 555.8 1284.3 554.8C1285.1 553.8 1286.0 552.8 1286.8 551.8C1287.7 550.8 1288.7 549.8 1289.7 548.8C1290.6 547.8 1291.7 546.8 1292.8 545.8C1293.8 544.8 1295.0 543.8 1296.1 542.8C1297.2 541.8 1298.4 540.8 1299.5 539.8C1300.7 538.8 1301.9 537.8 1303.0 536.8C1304.2 535.8 1305.4 534.8 1306.5 533.8C1307.7 532.8 1308.9 531.8 1310.1 530.8C1311.3 529.8 1312.5 528.8 1313.8 527.8C1315.0 526.8 1316.3 525.8 1317.6 524.8C1318.8 523.8 1320.1 522.8 1321.5 521.8C1322.8 520.8 1324.1 519.8 1325.5 518.8C1326.8 517.8 1328.2 516.8 1329.6 515.8C1331.0 514.8 1332.4 513.8 1333.8 512.8C1335.2 511.8 1336.6 510.8 1338.1 509.8C1339.5 508.8 1340.9 507.8 1342.4 506.8C1343.9 505.8 1345.3 504.8 1346.8 503.8C1348.2 502.8 1349.7 501.8 1351.2 500.8C1352.7 499.8 1354.1 498.8 1355.6 497.8C1357.1 496.8 1358.6 495.8 1360.0 494.8C1361.5 493.8 1363.0 492.8 1364.4 491.8C1365.9 490.8 1367.4 489.8 1368.8 488.8C1370.3 487.8 1371.8 486.8 1373.2 485.8C1374.7 484.8 1376.1 483.8 1377.5 482.8C1379.0 481.8 1380.4 480.8 1381.8 479.8C1383.2 478.8 1384.6 477.8 1386.0 476.8C1387.4 475.8 1388.8 474.8 1390.1 473.8C1391.5 472.8 1392.9 471.8 1394.2 470.8C1395.5 469.8 1396.7 468.8 1397.9 467.8C1399.2 466.8 1400.3 465.8 1401.4 464.8C1402.5 463.8 1403.6 462.8 1404.5 461.8C1405.5 460.8 1406.3 459.8 1407.1 458.8C1407.9 457.8 1408.6 456.8 1409.1 455.8C1409.7 454.8 1410.1 453.8 1410.4 452.8C1410.7 451.8 1410.9 450.9 1411.0 449.9C1411.0 448.9 1410.9 447.9 1410.7 446.9C1410.5 445.9 1410.1 444.9 1409.6 443.9C1409.1 442.9 1408.5 441.9 1407.8 440.9C1407.1 439.9 1406.3 438.9 1405.4 437.9C1404.4 436.9 1403.4 435.9 1402.3 434.9C1401.2 433.9 1400.0 432.9 1398.8 431.9C1397.5 430.9 1396.2 429.9 1394.8 428.9C1393.4 427.9 1391.9 426.9 1390.4 425.9C1388.9 424.9 1387.4 423.9 1385.8 422.9C1384.2 421.9 1382.5 420.9 1380.8 419.9C1379.1 418.9 1377.3 417.9 1375.5 416.9C1373.6 415.9 1371.6 414.9 1369.6 413.9C1367.5 412.9 1365.4 411.9 1363.1 410.9C1360.9 409.9 1358.5 408.9 1356.2 407.9C1353.8 406.9 1351.4 405.9 1349.1 404.9C1346.8 403.9 1344.5 402.9 1342.4 401.9C1340.2 400.9 1338.2 399.9 1336.1 398.9C1334.0 397.9 1331.9 396.9 1329.8 395.9C1327.7 394.9 1325.6 393.9 1323.6 392.9C1321.6 391.9 1319.6 390.9 1317.7 389.9C1315.8 388.9 1313.9 387.9 1312.1 386.9C1310.3 385.9 1308.5 384.9 1306.8 383.9C1305.1 382.9 1303.5 381.9 1301.9 380.9C1300.3 379.9 1298.8 378.9 1297.4 377.9C1295.9 376.9 1294.5 375.9 1293.2 374.9C1291.9 373.9 1290.6 372.9 1289.5 371.9C1288.3 370.9 1287.2 369.9 1286.2 368.9C1285.1 367.9 1284.2 366.9 1283.3 365.9C1282.4 364.9 1281.6 363.9 1280.9 362.9C1280.1 361.9 1279.5 360.9 1278.9 359.9C1278.3 358.9 1277.8 357.9 1277.4 356.9C1277.0 355.9 1276.6 354.9 1276.3 353.9C1276.0 352.9 1275.8 351.9 1275.7 350.9C1275.5 349.9 1275.4 348.9 1275.4 347.9C1275.4 346.9 1275.5 345.9 1275.6 344.9C1275.7 343.9 1275.9 342.9 1276.2 341.9C1276.4 340.9 1276.8 339.9 1277.1 338.9C1277.5 337.9 1278.0 337.0 1278.5 336.0C1278.9 335.0 1279.5 334.0 1280.0 333.0C1280.5 332.0 1281.1 331.0 1281.6 330.0C1282.2 329.0 1282.7 328.0 1283.3 327.0C1283.8 326.0 1284.3 325.0 1284.7 324.0C1285.2 323.0 1285.6 322.0 1286.0 321.0C1286.4 320.0 1286.8 319.0 1287.1 318.0C1287.4 317.0 1287.7 316.0 1287.9 315.0C1288.2 314.0 1288.4 313.0 1288.6 312.0C1288.7 311.0 1288.9 310.0 1289.0 309.0C1289.1 308.0 1289.2 307.0 1289.2 306.0C1289.2 305.0 1289.2 304.0 1289.2 303.0C1289.1 302.0 1289.0 301.0 1288.8 300.0C1288.6 299.0 1288.4 298.0 1288.1 297.0C1287.8 296.0 1287.5 295.0 1287.0 294.0C1286.6 293.0 1286.2 292.0 1285.7 291.0C1285.2 290.0 1284.6 289.0 1284.0 288.0C1283.4 287.0 1282.8 286.0 1282.1 285.0C1281.4 284.0 1280.7 283.0 1280.0 282.0C1279.2 281.0 1278.5 280.0 1277.7 279.0C1276.9 278.0 1276.1 277.0 1275.4 276.0C1274.6 275.0 1273.8 274.0 1273.0 273.0C1272.3 272.0 1271.5 271.0 1270.8 270.0C1270.1 269.0 1269.3 268.0 1268.7 267.0C1268.0 266.0 1267.4 265.0 1266.8 264.0C1266.2 263.0 1265.7 262.0 1265.2 261.0C1264.7 260.0 1264.3 259.0 1263.9 258.0C1263.5 257.0 1263.2 256.0 1262.9 255.0C1262.5 254.0 1262.3 253.0 1262.0 252.0C1261.8 251.0 1261.6 250.0 1261.4 249.0C1261.3 248.0 1261.1 247.0 1261.0 246.0C1260.9 245.0 1260.8 244.0 1260.8 243.0C1260.7 242.0 1260.7 241.0 1260.7 240.0C1260.7 239.0 1260.7 238.0 1260.7 237.0C1260.7 236.0 1260.8 235.0 1260.8 234.0C1260.9 233.0 1261.0 232.0 1261.0 231.0C1261.1 230.0 1261.2 229.0 1261.3 228.0C1261.4 227.0 1261.5 226.0 1261.6 225.0C1261.7 224.1 1261.8 223.1 1261.9 222.1C1262.0 221.1 1262.1 220.1 1262.2 219.1C1262.3 218.1 1262.4 217.1 1262.5 216.1C1262.6 215.1 1262.6 214.1 1262.7 213.1C1262.8 212.1 1262.8 211.1 1262.8 210.1C1262.9 209.1 1262.9 208.1 1262.9 207.1C1262.9 206.1 1262.8 205.1 1262.8 204.1C1262.7 203.1 1262.7 202.1 1262.6 201.1C1262.5 200.1 1262.4 199.1 1262.2 198.1C1262.1 197.1 1262.0 196.1 1261.8 195.1C1261.6 194.1 1261.4 193.1 1261.3 192.1C1261.1 191.1 1260.8 190.1 1260.6 189.1C1260.4 188.1 1260.2 187.1 1259.9 186.1C1259.7 185.1 1259.4 184.1 1259.1 183.1C1258.9 182.1 1258.6 181.1 1258.3 180.1C1258.0 179.1 1257.7 178.1 1257.4 177.1C1257.1 176.1 1256.8 175.1 1256.5 174.1C1256.2 173.1 1255.9 172.1 1255.6 171.1C1255.2 170.1 1254.8 168.6 1254.6 168.1Z" fill="#a65d62" fill-opacity="0.5"/>
<path d="M1241.2 168.1C1241.0 168.6 1240.6 170.1 1240.2 171.1C1239.9 172.1 1239.6 173.1 1239.3 174.1C1239.0 175.1 1238.7 176.1 1238.4 177.1C1238.1 178.1 1237.8 179.1 1237.5 180.1C1237.2 181.1 1236.9 182.1 1236.7 183.1C1236.4 184.1 1236.1 185.1 1235.9 186.1C1235.6 187.1 1235.4 188.1 1235.2 189.1C1235.0 190.1 1234.7 191.1 1234.5 192.1C1234.4 193.1 1234.2 194.1 1234.0 195.1C1233.8 196.1 1233.7 197.1 1233.6 198.1C1233.4 199.1 1233.3 200.1 1233.2 201.1C1233.1 202.1 1233.1 203.1 1233.0 204.1C1233.0 205.1 1232.9 206.1 1232.9 207.1C1232.9 208.1 1232.9 209.1 1233.0 210.1C1233.0 211.1 1233.0 212.1 1233.1 213.1C1233.2 214.1 1233.2 215.1 1233.3 216.1C1233.4 217.1 1233.5 218.1 1233.6 219.1C1233.7 220.1 1233.8 221.1 1233.9 222.1C1234.0 223.1 1234.1 224.1 1234.2 225.0C1234.3 226.0 1234.4 227.0 1234.5 228.0C1234.6 229.0 1234.7 230.0 1234.8 231.0C1234.8 232.0 1234.9 233.0 1235.0 234.0C1235.0 235.0 1235.1 236.0 1235.1 237.0C1235.1 238.0 1235.1 239.0 1235.1 240.0C1235.1 241.0 1235.1 242.0 1235.0 243.0C1235.0 244.0 1234.9 245.0 1234.8 246.0C1234.7 247.0 1234.5 248.0 1234.4 249.0C1234.2 250.0 1234.0 251.0 1233.8 252.0C1233.5 253.0 1233.3 254.0 1232.9 255.0C1232.6 256.0 1232.3 257.0 1231.9 258.0C1231.5 259.0 1231.1 260.0 1230.6 261.0C1230.1 262.0 1229.6 263.0 1229.0 264.0C1228.4 265.0 1227.8 266.0 1227.1 267.0C1226.5 268.0 1225.7 269.0 1225.0 270.0C1224.3 271.0 1223.5 272.0 1222.8 273.0C1222.0 274.0 1221.2 275.0 1220.4 276.0C1219.7 277.0 1218.9 278.0 1218.1 279.0C1217.3 280.0 1216.6 281.0 1215.8 282.0C1215.1 283.0 1214.4 284.0 1213.7 285.0C1213.0 286.0 1212.4 287.0 1211.8 288.0C1211.2 289.0 1210.6 290.0 1210.1 291.0C1209.6 292.0 1209.2 293.0 1208.8 294.0C1208.3 295.0 1208.0 296.0 1207.7 297.0C1207.4 298.0 1207.2 299.0 1207.0 300.0C1206.8 301.0 1206.7 302.0 1206.6 303.0C1206.6 304.0 1206.6 305.0 1206.6 306.0C1206.6 307.0 1206.7 308.0 1206.8 309.0C1206.9 310.0 1207.1 311.0 1207.2 312.0C1207.4 313.0 1207.6 314.0 1207.9 315.0C1208.1 316.0 1208.4 317.0 1208.7 318.0C1209.0 319.0 1209.4 320.0 1209.8 321.0C1210.2 322.0 1210.6 323.0 1211.1 324.0C1211.5 325.0 1212.0 326.0 1212.5 327.0C1213.1 328.0 1213.6 329.0 1214.2 330.0C1214.7 331.0 1215.3 332.0 1215.8 333.0C1216.3 334.0 1216.9 335.0 1217.3 336.0C1217.8 337.0 1218.3 337.9 1218.7 338.9C1219.0 339.9 1219.4 340.9 1219.6 341.9C1219.9 342.9 1220.1 343.9 1220.2 344.9C1220.3 345.9 1220.4 346.9 1220.4 347.9C1220.4 348.9 1220.3 349.9 1220.1 350.9C1220.0 351.9 1219.8 352.9 1219.5 353.9C1219.2 354.9 1218.8 355.9 1218.4 356.9C1218.0 357.9 1217.5 358.9 1216.9 359.9C1216.3 360.9 1215.7 361.9 1214.9 362.9C1214.2 363.9 1213.4 364.9 1212.5 365.9C1211.6 366.9 1210.7 367.9 1209.6 368.9C1208.6 369.9 1207.5 370.9 1206.3 371.9C1205.2 372.9 1203.9 373.9 1202.6 374.9C1201.3 375.9 1199.9 376.9 1198.4 377.9C1197.0 378.9 1195.5 379.9 1193.9 380.9C1192.3 381.9 1190.7 382.9 1189.0 383.9C1187.3 384.9 1185.5 385.9 1183.7 386.9C1181.9 387.9 1180.1 388.9 1178.1 389.9C1176.2 390.9 1174.3 391.9 1172.3 392.9C1170.3 393.9 1168.2 394.9 1166.1 395.9C1164.1 396.9 1162.0 397.9 1159.9 398.9C1157.8 399.9 1155.8 400.9 1153.7 401.9C1151.5 402.9 1149.3 403.9 1147.0 404.9C1144.7 405.9 1142.3 406.9 1140.0 407.9C1137.7 408.9 1135.3 409.9 1133.1 410.9C1130.9 411.9 1128.7 412.9 1126.7 413.9C1124.7 414.9 1122.7 415.9 1120.9 416.9C1119.0 417.9 1117.3 418.9 1115.6 419.9C1113.9 420.9 1112.3 421.9 1110.7 422.9C1109.1 423.9 1107.6 424.9 1106.1 425.9C1104.6 426.9 1103.2 427.9 1101.8 428.9C1100.4 429.9 1099.1 430.9 1097.9 431.9C1096.6 432.9 1095.4 433.9 1094.4 434.9C1093.3 435.9 1092.3 436.9 1091.4 437.9C1090.5 438.9 1089.6 439.9 1088.9 440.9C1088.2 441.9 1087.6 442.9 1087.2 443.9C1086.7 444.9 1086.3 445.9 1086.1 446.9C1085.9 447.9 1085.8 448.9 1085.8 449.9C1085.9 450.9 1086.1 451.8 1086.4 452.8C1086.7 453.8 1087.1 454.8 1087.7 455.8C1088.2 456.8 1088.9 457.8 1089.7 458.8C1090.4 459.8 1091.3 460.8 1092.3 461.8C1093.2 462.8 1094.2 463.8 1095.3 464.8C1096.4 465.8 1097.6 466.8 1098.8 467.8C1100.0 468.8 1101.3 469.8 1102.6 470.8C1103.9 471.8 1105.2 472.8 1106.6 473.8C1107.9 474.8 1109.3 475.8 1110.7 476.8C1112.1 477.8 1113.5 478.8 1114.9 479.8C1116.3 480.8 1117.7 481.8 1119.1 482.8C1120.6 483.8 1122.0 484.8 1123.4 485.8C1124.9 486.8 1126.3 487.8 1127.8 488.8C1129.2 489.8 1130.7 490.8 1132.2 491.8C1133.6 492.8 1135.1 493.8 1136.5 494.8C1138.0 495.8 1139.5 496.8 1140.9 497.8C1142.4 498.8 1143.9 499.8 1145.3 500.8C1146.8 501.8 1148.3 502.8 1149.7 503.8C1151.2 504.8 1152.6 505.8 1154.1 506.8C1155.5 507.8 1157.0 508.8 1158.4 509.8C1159.8 510.8 1161.2 511.8 1162.6 512.8C1164.1 513.8 1165.4 514.8 1166.8 515.8C1168.2 516.8 1169.6 517.8 1170.9 518.8C1172.3 519.8 1173.6 520.8 1174.9 521.8C1176.2 522.8 1177.5 523.8 1178.8 524.8C1180.1 525.8 1181.3 526.8 1182.5 527.8C1183.8 528.8 1185.0 529.8 1186.2 530.8C1187.4 531.8 1188.6 532.8 1189.7 533.8C1190.9 534.8 1192.1 535.8 1193.2 536.8C1194.4 537.8 1195.6 538.8 1196.7 539.8C1197.9 540.8 1199.0 541.8 1200.2 542.8C1201.3 543.8 1202.4 544.8 1203.5 545.8C1204.5 546.8 1205.6 547.8 1206.6 548.8C1207.5 549.8 1208.5 550.8 1209.4 551.8C1210.3 552.8 1211.1 553.8 1211.9 554.8C1212.7 555.8 1213.5 556.8 1214.2 557.8C1214.9 558.8 1215.6 559.8 1216.3 560.8C1217.0 561.8 1217.6 562.8 1218.2 563.8C1218.8 564.7 1219.4 565.7 1219.9 566.7C1220.5 567.7 1221.0 568.7 1221.5 569.7C1222.0 570.7 1222.5 571.7 1223.0 572.7C1223.4 573.7 1223.9 574.7 1224.3 575.7C1224.8 576.7 1225.2 577.7 1225.6 578.7C1226.0 579.7 1226.4 580.7 1226.8 581.7C1227.2 582.7 1227.6 583.7 1228.0 584.7C1228.4 585.7 1228.8 586.7 1229.2 587.7C1229.6 588.7 1230.0 589.7 1230.4 590.7C1230.8 591.7 1231.2 592.7 1231.5 593.7C1231.9 594.7 1232.3 595.7 1232.7 596.7C1233.0 597.7 1233.4 598.7 1233.8 599.7C1234.1 600.7 1234.5 601.7 1234.9 602.7C1235.2 603.7 1235.6 604.7 1235.9 605.7C1236.3 606.7 1236.6 607.7 1237.0 608.7C1237.3 609.7 1237.6 610.7 1238.0 611.7C1238.3 612.7 1238.7 613.7 1239.0 614.7C1239.3 615.7 1239.6 616.7 1240.0 617.7C1240.3 618.7 1240.7 620.2 1240.9 620.7L1255.3 620.7C1255.5 620.2 1255.9 618.7 1256.2 617.7C1256.6 616.7 1256.9 615.7 1257.2 614.7C1257.5 613.7 1257.9 612.7 1258.2 611.7C1258.6 610.7 1258.9 609.7 1259.2 608.7C1259.6 607.7 1259.9 606.7 1260.3 605.7C1260.6 604.7 1261.0 603.7 1261.3 602.7C1261.7 601.7 1262.1 600.7 1262.4 599.7C1262.8 598.7 1263.2 597.7 1263.5 596.7C1263.9 595.7 1264.3 594.7 1264.7 593.7C1265.0 592.7 1265.4 591.7 1265.8 590.7C1266.2 589.7 1266.6 588.7 1267.0 587.7C1267.4 586.7 1267.8 585.7 1268.2 584.7C1268.6 583.7 1269.0 582.7 1269.4 581.7C1269.8 580.7 1270.2 579.7 1270.6 578.7C1271.0 577.7 1271.4 576.7 1271.9 575.7C1272.3 574.7 1272.8 573.7 1273.2 572.7C1273.7 571.7 1274.2 570.7 1274.7 569.7C1275.2 568.7 1275.7 567.7 1276.3 566.7C1276.8 565.7 1277.4 564.7 1278.0 563.8C1278.6 562.8 1279.2 561.8 1279.9 560.8C1280.6 559.8 1281.3 558.8 1282.0 557.8C1282.7 556.8 1283.5 555.8 1284.3 554.8C1285.1 553.8 1286.0 552.8 1286.8 551.8C1287.7 550.8 1288.7 549.8 1289.7 548.8C1290.6 547.8 1291.7 546.8 1292.8 545.8C1293.8 544.8 1295.0 543.8 1296.1 542.8C1297.2 541.8 1298.4 540.8 1299.5 539.8C1300.7 538.8 1301.9 537.8 1303.0 536.8C1304.2 535.8 1305.4 534.8 1306.5 533.8C1307.7 532.8 1308.9 531.8 1310.1 530.8C1311.3 529.8 1312.5 528.8 1313.8 527.8C1315.0 526.8 1316.3 525.8 1317.6 524.8C1318.8 523.8 1320.1 522.8 1321.5 521.8C1322.8 520.8 1324.1 519.8 1325.5 518.8C1326.8 517.8 1328.2 516.8 1329.6 515.8C1331.0 514.8 1332.4 513.8 1333.8 512.8C1335.2 511.8 1336.6 510.8 1338.1 509.8C1339.5 508.8 1340.9 507.8 1342.4 506.8C1343.9 505.8 1345.3 504.8 1346.8 503.8C1348.2 502.8 1349.7 501.8 1351.2 500.8C1352.7 499.8 1354.1 498.8 1355.6 497.8C1357.1 496.8 1358.6 495.8 1360.0 494.8C1361.5 493.8 1363.0 492.8 1364.4 491.8C1365.9 490.8 1367.4 489.8 1368.8 488.8C1370.3 487.8 1371.8 486.8 1373.2 485.8C1374.7 484.8 1376.1 483.8 1377.5 482.8C1379.0 481.8 1380.4 480.8 1381.8 479.8C1383.2 478.8 1384.6 477.8 1386.0 476.8C1387.4 475.8 1388.8 474.8 1390.1 473.8C1391.5 472.8 1392.9 471.8 1394.2 470.8C1395.5 469.8 1396.7 468.8 1397.9 467.8C1399.2 466.8 1400.3 465.8 1401.4 464.8C1402.5 463.8 1403.6 462.8 1404.5 461.8C1405.5 460.8 1406.3 459.8 1407.1 458.8C1407.9 457.8 1408.6 456.8 1409.1 455.8C1409.7 454.8 1410.1 453.8 1410.4 452.8C1410.7 451.8 1410.9 450.9 1411.0 449.9C1411.0 448.9 1410.9 447.9 1410.7 446.9C1410.5 445.9 1410.1 444.9 1409.6 443.9C1409.1 442.9 1408.5 441.9 1407.8 440.9C1407.1 439.9 1406.3 438.9 1405.4 437.9C1404.4 436.9 1403.4 435.9 1402.3 434.9C1401.2 433.9 1400.0 432.9 1398.8 431.9C1397.5 430.9 1396.2 429.9 1394.8 428.9C1393.4 427.9 1391.9 426.9 1390.4 425.9C1388.9 424.9 1387.4 423.9 1385.8 422.9C1384.2 421.9 1382.5 420.9 1380.8 419.9C1379.1 418.9 1377.3 417.9 1375.5 416.9C1373.6 415.9 1371.6 414.9 1369.6 413.9C1367.5 412.9 1365.4 411.9 1363.1 410.9C1360.9 409.9 1358.5 408.9 1356.2 407.9C1353.8 406.9 1351.4 405.9 1349.1 404.9C1346.8 403.9 1344.5 402.9 1342.4 401.9C1340.2 400.9 1338.2 399.9 1336.1 398.9C1334.0 397.9 1331.9 396.9 1329.8 395.9C1327.7 394.9 1325.6 393.9 1323.6 392.9C1321.6 391.9 1319.6 390.9 1317.7 389.9C1315.8 388.9 1313.9 387.9 1312.1 386.9C1310.3 385.9 1308.5 384.9 1306.8 383.9C1305.1 382.9 1303.5 381.9 1301.9 380.9C1300.3 379.9 1298.8 378.9 1297.4 377.9C1295.9 376.9 1294.5 375.9 1293.2 374.9C1291.9 373.9 1290.6 372.9 1289.5 371.9C1288.3 370.9 1287.2 369.9 1286.2 368.9C1285.1 367.9 1284.2 366.9 1283.3 365.9C1282.4 364.9 1281.6 363.9 1280.9 362.9C1280.1 361.9 1279.5 360.9 1278.9 359.9C1278.3 358.9 1277.8 357.9 1277.4 356.9C1277.0 355.9 1276.6 354.9 1276.3 353.9C1276.0 352.9 1275.8 351.9 1275.7 350.9C1275.5 349.9 1275.4 348.9 1275.4 347.9C1275.4 346.9 1275.5 345.9 1275.6 344.9C1275.7 343.9 1275.9 342.9 1276.2 341.9C1276.4 340.9 1276.8 339.9 1277.1 338.9C1277.5 337.9 1278.0 337.0 1278.5 336.0C1278.9 335.0 1279.5 334.0 1280.0 333.0C1280.5 332.0 1281.1 331.0 1281.6 330.0C1282.2 329.0 1282.7 328.0 1283.3 327.0C1283.8 326.0 1284.3 325.0 1284.7 324.0C1285.2 323.0 1285.6 322.0 1286.0 321.0C1286.4 320.0 1286.8 319.0 1287.1 318.0C1287.4 317.0 1287.7 316.0 1287.9 315.0C1288.2 314.0 1288.4 313.0 1288.6 312.0C1288.7 311.0 1288.9 310.0 1289.0 309.0C1289.1 308.0 1289.2 307.0 1289.2 306.0C1289.2 305.0 1289.2 304.0 1289.2 303.0C1289.1 302.0 1289.0 301.0 1288.8 300.0C1288.6 299.0 1288.4 298.0 1288.1 297.0C1287.8 296.0 1287.5 295.0 1287.0 294.0C1286.6 293.0 1286.2 292.0 1285.7 291.0C1285.2 290.0 1284.6 289.0 1284.0 288.0C1283.4 287.0 1282.8 286.0 1282.1 285.0C1281.4 284.0 1280.7 283.0 1280.0 282.0C1279.2 281.0 1278.5 280.0 1277.7 279.0C1276.9 278.0 1276.1 277.0 1275.4 276.0C1274.6 275.0 1273.8 274.0 1273.0 273.0C1272.3 272.0 1271.5 271.0 1270.8 270.0C1270.1 269.0 1269.3 268.0 1268.7 267.0C1268.0 266.0 1267.4 265.0 1266.8 264.0C1266.2 263.0 1265.7 262.0 1265.2 261.0C1264.7 260.0 1264.3 259.0 1263.9 258.0C1263.5 257.0 1263.2 256.0 1262.9 255.0C1262.5 254.0 1262.3 253.0 1262.0 252.0C1261.8 251.0 1261.6 250.0 1261.4 249.0C1261.3 248.0 1261.1 247.0 1261.0 246.0C1260.9 245.0 1260.8 244.0 1260.8 243.0C1260.7 242.0 1260.7 241.0 1260.7 240.0C1260.7 239.0 1260.7 238.0 1260.7 237.0C1260.7 236.0 1260.8 235.0 1260.8 234.0C1260.9 233.0 1261.0 232.0 1261.0 231.0C1261.1 230.0 1261.2 229.0 1261.3 228.0C1261.4 227.0 1261.5 226.0 1261.6 225.0C1261.7 224.1 1261.8 223.1 1261.9 222.1C1262.0 221.1 1262.1 220.1 1262.2 219.1C1262.3 218.1 1262.4 217.1 1262.5 216.1C1262.6 215.1 1262.6 214.1 1262.7 213.1C1262.8 212.1 1262.8 211.1 1262.8 210.1C1262.9 209.1 1262.9 208.1 1262.9 207.1C1262.9 206.1 1262.8 205.1 1262.8 204.1C1262.7 203.1 1262.7 202.1 1262.6 201.1C1262.5 200.1 1262.4 199.1 1262.2 198.1C1262.1 197.1 1262.0 196.1 1261.8 195.1C1261.6 194.1 1261.4 193.1 1261.3 192.1C1261.1 191.1 1260.8 190.1 1260.6 189.1C1260.4 188.1 1260.2 187.1 1259.9 186.1C1259.7 185.1 1259.4 184.1 1259.1 183.1C1258.9 182.1 1258.6 181.1 1258.3 180.1C1258.0 179.1 1257.7 178.1 1257.4 177.1C1257.1 176.1 1256.8 175.1 1256.5 174.1C1256.2 173.1 1255.9 172.1 1255.6 171.1C1255.2 170.1 1254.8 168.6 1254.6 168.1Z" fill="none" stroke="#a65d62" stroke-opacity="0.16" stroke-width="2.4" clip-path="url(#k_c_mid)"/>
<clipPath id="k_c_high"><path d="M1228.3 190.1C1228.1 190.6 1227.6 192.1 1227.2 193.1C1226.8 194.1 1226.4 195.1 1226.0 196.1C1225.6 197.1 1225.2 198.1 1224.8 199.1C1224.5 200.1 1224.1 201.1 1223.7 202.1C1223.2 203.1 1222.8 204.1 1222.4 205.1C1222.0 206.1 1221.6 207.1 1221.2 208.1C1220.8 209.1 1220.4 210.1 1219.9 211.1C1219.5 212.1 1219.1 213.1 1218.7 214.1C1218.2 215.1 1217.8 216.1 1217.4 217.1C1217.0 218.1 1216.5 219.1 1216.1 220.1C1215.7 221.1 1215.2 222.1 1214.8 223.0C1214.4 224.0 1213.9 225.0 1213.5 226.0C1213.0 227.0 1212.6 228.0 1212.1 229.0C1211.7 230.0 1211.3 231.0 1210.8 232.0C1210.4 233.0 1209.9 234.0 1209.5 235.0C1209.0 236.0 1208.6 237.0 1208.1 238.0C1207.7 239.0 1207.2 240.0 1206.8 241.0C1206.4 242.0 1205.9 243.0 1205.5 244.0C1205.0 245.0 1204.6 246.0 1204.1 247.0C1203.7 248.0 1203.2 249.0 1202.8 250.0C1202.3 251.0 1201.9 252.0 1201.4 253.0C1201.0 254.0 1200.6 255.0 1200.1 256.0C1199.7 257.0 1199.2 258.0 1198.8 259.0C1198.4 260.0 1197.9 261.0 1197.5 262.0C1197.1 263.0 1196.6 264.0 1196.2 265.0C1195.8 266.0 1195.3 267.0 1194.9 268.0C1194.5 269.0 1194.1 270.0 1193.6 271.0C1193.2 272.0 1192.8 273.0 1192.4 274.0C1192.0 275.0 1191.5 276.0 1191.1 277.0C1190.7 278.0 1190.3 279.0 1189.9 280.0C1189.5 281.0 1189.1 282.0 1188.7 283.0C1188.3 284.0 1187.9 285.0 1187.5 286.0C1187.1 287.0 1186.7 287.9 1186.3 288.9C1186.0 289.9 1185.6 290.9 1185.2 291.9C1184.8 292.9 1184.4 293.9 1184.0 294.9C1183.7 295.9 1183.3 296.9 1182.9 297.9C1182.6 298.9 1182.2 299.9 1181.8 300.9C1181.5 301.9 1181.1 302.9 1180.7 303.9C1180.4 304.9 1180.0 305.9 1179.7 306.9C1179.3 307.9 1178.9 308.9 1178.6 309.9C1178.2 310.9 1177.9 311.9 1177.5 312.9C1177.2 313.9 1176.9 314.9 1176.5 315.9C1176.2 316.9 1175.8 317.9 1175.5 318.9C1175.2 319.9 1174.8 320.9 1174.5 321.9C1174.2 322.9 1173.9 323.9 1173.5 324.9C1173.2 325.9 1172.9 326.9 1172.6 327.9C1172.2 328.9 1171.9 329.9 1171.6 330.9C1171.3 331.9 1171.0 332.9 1170.7 333.9C1170.4 334.9 1170.1 335.9 1169.8 336.9C1169.5 337.9 1169.2 338.9 1168.9 339.9C1168.6 340.9 1168.3 341.9 1168.0 342.9C1167.7 343.9 1167.4 344.9 1167.1 345.9C1166.8 346.9 1166.5 347.9 1166.2 348.9C1166.0 349.9 1165.7 350.9 1165.4 351.8C1165.1 352.8 1164.9 353.8 1164.6 354.8C1164.3 355.8 1164.1 356.8 1163.8 357.8C1163.5 358.8 1163.3 359.8 1163.1 360.8C1162.8 361.8 1162.6 362.8 1162.3 363.8C1162.1 364.8 1161.9 365.8 1161.6 366.8C1161.4 367.8 1161.2 368.8 1161.0 369.8C1160.8 370.8 1160.6 371.8 1160.4 372.8C1160.2 373.8 1160.0 374.8 1159.8 375.8C1159.6 376.8 1159.5 377.8 1159.3 378.8C1159.1 379.8 1159.0 380.8 1158.8 381.8C1158.7 382.8 1158.5 383.8 1158.4 384.8C1158.3 385.8 1158.1 386.8 1158.0 387.8C1157.9 388.8 1157.8 389.8 1157.7 390.8C1157.6 391.8 1157.5 392.8 1157.4 393.8C1157.4 394.8 1157.3 395.8 1157.3 396.8C1157.2 397.8 1157.2 398.8 1157.1 399.8C1157.1 400.8 1157.1 401.8 1157.1 402.8C1157.0 403.8 1157.0 404.8 1157.1 405.8C1157.1 406.8 1157.1 407.8 1157.1 408.8C1157.2 409.8 1157.2 410.8 1157.3 411.8C1157.4 412.8 1157.4 413.8 1157.5 414.8C1157.6 415.8 1157.7 416.7 1157.8 417.7C1157.9 418.7 1158.1 419.7 1158.2 420.7C1158.4 421.7 1158.5 422.7 1158.7 423.7C1158.9 424.7 1159.1 425.7 1159.3 426.7C1159.5 427.7 1159.7 428.7 1159.9 429.7C1160.2 430.7 1160.4 431.7 1160.7 432.7C1160.9 433.7 1161.2 434.7 1161.5 435.7C1161.8 436.7 1162.1 437.7 1162.4 438.7C1162.8 439.7 1163.1 440.7 1163.5 441.7C1163.8 442.7 1164.2 443.7 1164.6 444.7C1165.0 445.7 1165.4 446.7 1165.8 447.7C1166.1 448.7 1166.6 449.7 1166.9 450.7C1167.3 451.7 1167.7 452.7 1168.1 453.7C1168.5 454.7 1168.9 455.7 1169.3 456.7C1169.8 457.7 1170.2 458.7 1170.6 459.7C1171.0 460.7 1171.4 461.7 1171.8 462.7C1172.2 463.7 1172.6 464.7 1173.1 465.7C1173.5 466.7 1173.9 467.7 1174.4 468.7C1174.8 469.7 1175.3 470.7 1175.7 471.7C1176.2 472.7 1176.6 473.7 1177.1 474.7C1177.6 475.7 1178.1 476.7 1178.6 477.7C1179.0 478.7 1179.5 479.7 1180.0 480.7C1180.6 481.6 1181.1 482.6 1181.6 483.6C1182.1 484.6 1182.6 485.6 1183.2 486.6C1183.7 487.6 1184.2 488.6 1184.8 489.6C1185.3 490.6 1185.8 491.6 1186.4 492.6C1186.9 493.6 1187.5 494.6 1188.0 495.6C1188.6 496.6 1189.1 497.6 1189.7 498.6C1190.3 499.6 1190.8 500.6 1191.4 501.6C1191.9 502.6 1192.5 503.6 1193.1 504.6C1193.6 505.6 1194.2 506.6 1194.7 507.6C1195.3 508.6 1195.9 509.6 1196.4 510.6C1197.0 511.6 1197.5 512.6 1198.1 513.6C1198.6 514.6 1199.2 515.6 1199.7 516.6C1200.3 517.6 1200.8 518.6 1201.4 519.6C1201.9 520.6 1202.5 521.6 1203.0 522.6C1203.5 523.6 1204.1 524.6 1204.6 525.6C1205.1 526.6 1205.6 527.6 1206.1 528.6C1206.6 529.6 1207.2 530.6 1207.6 531.6C1208.1 532.6 1208.6 533.6 1209.1 534.6C1209.6 535.6 1210.1 536.6 1210.5 537.6C1211.0 538.6 1211.5 539.6 1211.9 540.6C1212.4 541.6 1212.8 542.6 1213.2 543.6C1213.7 544.6 1214.1 545.5 1214.5 546.5C1214.9 547.5 1215.3 548.5 1215.7 549.5C1216.1 550.5 1216.5 551.5 1216.9 552.5C1217.3 553.5 1217.7 554.5 1218.0 555.5C1218.4 556.5 1218.8 557.5 1219.1 558.5C1219.5 559.5 1219.9 560.5 1220.2 561.5C1220.5 562.5 1220.9 563.5 1221.2 564.5C1221.6 565.5 1221.9 566.5 1222.2 567.5C1222.5 568.5 1222.8 569.5 1223.2 570.5C1223.5 571.5 1223.8 572.5 1224.1 573.5C1224.4 574.5 1224.7 575.5 1225.0 576.5C1225.3 577.5 1225.5 578.5 1225.8 579.5C1226.1 580.5 1226.4 581.5 1226.6 582.5C1226.9 583.5 1227.2 584.5 1227.5 585.5C1227.7 586.5 1228.0 587.5 1228.2 588.5C1228.5 589.5 1228.7 590.5 1229.0 591.5C1229.2 592.5 1229.5 593.5 1229.7 594.5C1229.9 595.5 1230.2 596.5 1230.4 597.5C1230.6 598.5 1230.9 599.5 1231.1 600.5C1231.3 601.5 1231.5 602.5 1231.7 603.5C1232.0 604.5 1232.2 605.5 1232.4 606.5C1232.6 607.5 1232.8 608.5 1233.0 609.5C1233.2 610.4 1233.4 611.4 1233.6 612.4C1233.8 613.4 1234.0 614.4 1234.2 615.4C1234.3 616.4 1234.5 617.4 1234.7 618.4C1234.9 619.4 1235.1 620.4 1235.2 621.4C1235.4 622.4 1235.6 623.4 1235.7 624.4C1235.9 625.4 1236.1 626.4 1236.2 627.4C1236.4 628.4 1236.5 629.4 1236.7 630.4C1236.9 631.4 1237.0 632.4 1237.2 633.4C1237.3 634.4 1237.4 635.4 1237.6 636.4C1237.7 637.4 1237.9 638.4 1238.0 639.4C1238.1 640.4 1238.3 641.9 1238.4 642.4L1258.8 642.4C1258.9 641.9 1259.1 640.4 1259.2 639.4C1259.3 638.4 1259.5 637.4 1259.6 636.4C1259.8 635.4 1259.9 634.4 1260.0 633.4C1260.2 632.4 1260.3 631.4 1260.5 630.4C1260.7 629.4 1260.8 628.4 1261.0 627.4C1261.1 626.4 1261.3 625.4 1261.5 624.4C1261.6 623.4 1261.8 622.4 1262.0 621.4C1262.1 620.4 1262.3 619.4 1262.5 618.4C1262.7 617.4 1262.9 616.4 1263.0 615.4C1263.2 614.4 1263.4 613.4 1263.6 612.4C1263.8 611.4 1264.0 610.4 1264.2 609.5C1264.4 608.5 1264.6 607.5 1264.8 606.5C1265.0 605.5 1265.2 604.5 1265.5 603.5C1265.7 602.5 1265.9 601.5 1266.1 600.5C1266.3 599.5 1266.6 598.5 1266.8 597.5C1267.0 596.5 1267.3 595.5 1267.5 594.5C1267.7 593.5 1268.0 592.5 1268.2 591.5C1268.5 590.5 1268.7 589.5 1269.0 588.5C1269.2 587.5 1269.5 586.5 1269.7 585.5C1270.0 584.5 1270.3 583.5 1270.6 582.5C1270.8 581.5 1271.1 580.5 1271.4 579.5C1271.7 578.5 1271.9 577.5 1272.2 576.5C1272.5 575.5 1272.8 574.5 1273.1 573.5C1273.4 572.5 1273.7 571.5 1274.0 570.5C1274.4 569.5 1274.7 568.5 1275.0 567.5C1275.3 566.5 1275.6 565.5 1276.0 564.5C1276.3 563.5 1276.7 562.5 1277.0 561.5C1277.3 560.5 1277.7 559.5 1278.1 558.5C1278.4 557.5 1278.8 556.5 1279.2 555.5C1279.5 554.5 1279.9 553.5 1280.3 552.5C1280.7 551.5 1281.1 550.5 1281.5 549.5C1281.9 548.5 1282.3 547.5 1282.7 546.5C1283.1 545.5 1283.5 544.6 1284.0 543.6C1284.4 542.6 1284.8 541.6 1285.3 540.6C1285.7 539.6 1286.2 538.6 1286.7 537.6C1287.1 536.6 1287.6 535.6 1288.1 534.6C1288.6 533.6 1289.1 532.6 1289.6 531.6C1290.0 530.6 1290.6 529.6 1291.1 528.6C1291.6 527.6 1292.1 526.6 1292.6 525.6C1293.1 524.6 1293.7 523.6 1294.2 522.6C1294.7 521.6 1295.3 520.6 1295.8 519.6C1296.4 518.6 1296.9 517.6 1297.5 516.6C1298.0 515.6 1298.6 514.6 1299.1 513.6C1299.7 512.6 1300.2 511.6 1300.8 510.6C1301.3 509.6 1301.9 508.6 1302.5 507.6C1303.0 506.6 1303.6 505.6 1304.1 504.6C1304.7 503.6 1305.3 502.6 1305.8 501.6C1306.4 500.6 1306.9 499.6 1307.5 498.6C1308.1 497.6 1308.6 496.6 1309.2 495.6C1309.7 494.6 1310.3 493.6 1310.8 492.6C1311.4 491.6 1311.9 490.6 1312.4 489.6C1313.0 488.6 1313.5 487.6 1314.0 486.6C1314.6 485.6 1315.1 484.6 1315.6 483.6C1316.1 482.6 1316.6 481.6 1317.2 480.7C1317.7 479.7 1318.2 478.7 1318.6 477.7C1319.1 476.7 1319.6 475.7 1320.1 474.7C1320.6 473.7 1321.0 472.7 1321.5 471.7C1321.9 470.7 1322.4 469.7 1322.8 468.7C1323.3 467.7 1323.7 466.7 1324.1 465.7C1324.6 464.7 1325.0 463.7 1325.4 462.7C1325.8 461.7 1326.2 460.7 1326.6 459.7C1327.0 458.7 1327.4 457.7 1327.9 456.7C1328.3 455.7 1328.7 454.7 1329.1 453.7C1329.5 452.7 1329.9 451.7 1330.3 450.7C1330.6 449.7 1331.1 448.7 1331.4 447.7C1331.8 446.7 1332.2 445.7 1332.6 444.7C1333.0 443.7 1333.4 442.7 1333.7 441.7C1334.1 440.7 1334.4 439.7 1334.8 438.7C1335.1 437.7 1335.4 436.7 1335.7 435.7C1336.0 434.7 1336.3 433.7 1336.5 432.7C1336.8 431.7 1337.0 430.7 1337.3 429.7C1337.5 428.7 1337.7 427.7 1337.9 426.7C1338.1 425.7 1338.3 424.7 1338.5 423.7C1338.7 422.7 1338.8 421.7 1339.0 420.7C1339.1 419.7 1339.3 418.7 1339.4 417.7C1339.5 416.7 1339.6 415.8 1339.7 414.8C1339.8 413.8 1339.8 412.8 1339.9 411.8C1340.0 410.8 1340.0 409.8 1340.1 408.8C1340.1 407.8 1340.1 406.8 1340.1 405.8C1340.2 404.8 1340.2 403.8 1340.1 402.8C1340.1 401.8 1340.1 400.8 1340.1 399.8C1340.0 398.8 1340.0 397.8 1339.9 396.8C1339.9 395.8 1339.8 394.8 1339.8 393.8C1339.7 392.8 1339.6 391.8 1339.5 390.8C1339.4 389.8 1339.3 388.8 1339.2 387.8C1339.1 386.8 1338.9 385.8 1338.8 384.8C1338.7 383.8 1338.5 382.8 1338.4 381.8C1338.2 380.8 1338.1 379.8 1337.9 378.8C1337.7 377.8 1337.6 376.8 1337.4 375.8C1337.2 374.8 1337.0 373.8 1336.8 372.8C1336.6 371.8 1336.4 370.8 1336.2 369.8C1336.0 368.8 1335.8 367.8 1335.6 366.8C1335.3 365.8 1335.1 364.8 1334.9 363.8C1334.6 362.8 1334.4 361.8 1334.1 360.8C1333.9 359.8 1333.7 358.8 1333.4 357.8C1333.1 356.8 1332.9 355.8 1332.6 354.8C1332.3 353.8 1332.1 352.8 1331.8 351.8C1331.5 350.9 1331.2 349.9 1331.0 348.9C1330.7 347.9 1330.4 346.9 1330.1 345.9C1329.8 344.9 1329.5 343.9 1329.2 342.9C1328.9 341.9 1328.6 340.9 1328.3 339.9C1328.0 338.9 1327.7 337.9 1327.4 336.9C1327.1 335.9 1326.8 334.9 1326.5 333.9C1326.2 332.9 1325.9 331.9 1325.6 330.9C1325.3 329.9 1325.0 328.9 1324.6 327.9C1324.3 326.9 1324.0 325.9 1323.7 324.9C1323.3 323.9 1323.0 322.9 1322.7 321.9C1322.4 320.9 1322.0 319.9 1321.7 318.9C1321.4 317.9 1321.0 316.9 1320.7 315.9C1320.3 314.9 1320.0 313.9 1319.7 312.9C1319.3 311.9 1319.0 310.9 1318.6 309.9C1318.3 308.9 1317.9 307.9 1317.5 306.9C1317.2 305.9 1316.8 304.9 1316.5 303.9C1316.1 302.9 1315.7 301.9 1315.4 300.9C1315.0 299.9 1314.6 298.9 1314.3 297.9C1313.9 296.9 1313.5 295.9 1313.2 294.9C1312.8 293.9 1312.4 292.9 1312.0 291.9C1311.6 290.9 1311.2 289.9 1310.9 288.9C1310.5 287.9 1310.1 287.0 1309.7 286.0C1309.3 285.0 1308.9 284.0 1308.5 283.0C1308.1 282.0 1307.7 281.0 1307.3 280.0C1306.9 279.0 1306.5 278.0 1306.1 277.0C1305.7 276.0 1305.2 275.0 1304.8 274.0C1304.4 273.0 1304.0 272.0 1303.6 271.0C1303.1 270.0 1302.7 269.0 1302.3 268.0C1301.9 267.0 1301.4 266.0 1301.0 265.0C1300.6 264.0 1300.1 263.0 1299.7 262.0C1299.3 261.0 1298.8 260.0 1298.4 259.0C1298.0 258.0 1297.5 257.0 1297.1 256.0C1296.6 255.0 1296.2 254.0 1295.8 253.0C1295.3 252.0 1294.9 251.0 1294.4 250.0C1294.0 249.0 1293.5 248.0 1293.1 247.0C1292.6 246.0 1292.2 245.0 1291.7 244.0C1291.3 243.0 1290.8 242.0 1290.4 241.0C1290.0 240.0 1289.5 239.0 1289.1 238.0C1288.6 237.0 1288.2 236.0 1287.7 235.0C1287.3 234.0 1286.8 233.0 1286.4 232.0C1285.9 231.0 1285.5 230.0 1285.1 229.0C1284.6 228.0 1284.2 227.0 1283.7 226.0C1283.3 225.0 1282.8 224.0 1282.4 223.0C1282.0 222.1 1281.5 221.1 1281.1 220.1C1280.7 219.1 1280.2 218.1 1279.8 217.1C1279.4 216.1 1279.0 215.1 1278.5 214.1C1278.1 213.1 1277.7 212.1 1277.3 211.1C1276.8 210.1 1276.4 209.1 1276.0 208.1C1275.6 207.1 1275.2 206.1 1274.8 205.1C1274.4 204.1 1274.0 203.1 1273.5 202.1C1273.1 201.1 1272.7 200.1 1272.4 199.1C1272.0 198.1 1271.6 197.1 1271.2 196.1C1270.8 195.1 1270.4 194.1 1270.0 193.1C1269.6 192.1 1269.1 190.6 1268.9 190.1Z"/></clipPath>
<path d="M1228.3 190.1C1228.1 190.6 1227.6 192.1 1227.2 193.1C1226.8 194.1 1226.4 195.1 1226.0 196.1C1225.6 197.1 1225.2 198.1 1224.8 199.1C1224.5 200.1 1224.1 201.1 1223.7 202.1C1223.2 203.1 1222.8 204.1 1222.4 205.1C1222.0 206.1 1221.6 207.1 1221.2 208.1C1220.8 209.1 1220.4 210.1 1219.9 211.1C1219.5 212.1 1219.1 213.1 1218.7 214.1C1218.2 215.1 1217.8 216.1 1217.4 217.1C1217.0 218.1 1216.5 219.1 1216.1 220.1C1215.7 221.1 1215.2 222.1 1214.8 223.0C1214.4 224.0 1213.9 225.0 1213.5 226.0C1213.0 227.0 1212.6 228.0 1212.1 229.0C1211.7 230.0 1211.3 231.0 1210.8 232.0C1210.4 233.0 1209.9 234.0 1209.5 235.0C1209.0 236.0 1208.6 237.0 1208.1 238.0C1207.7 239.0 1207.2 240.0 1206.8 241.0C1206.4 242.0 1205.9 243.0 1205.5 244.0C1205.0 245.0 1204.6 246.0 1204.1 247.0C1203.7 248.0 1203.2 249.0 1202.8 250.0C1202.3 251.0 1201.9 252.0 1201.4 253.0C1201.0 254.0 1200.6 255.0 1200.1 256.0C1199.7 257.0 1199.2 258.0 1198.8 259.0C1198.4 260.0 1197.9 261.0 1197.5 262.0C1197.1 263.0 1196.6 264.0 1196.2 265.0C1195.8 266.0 1195.3 267.0 1194.9 268.0C1194.5 269.0 1194.1 270.0 1193.6 271.0C1193.2 272.0 1192.8 273.0 1192.4 274.0C1192.0 275.0 1191.5 276.0 1191.1 277.0C1190.7 278.0 1190.3 279.0 1189.9 280.0C1189.5 281.0 1189.1 282.0 1188.7 283.0C1188.3 284.0 1187.9 285.0 1187.5 286.0C1187.1 287.0 1186.7 287.9 1186.3 288.9C1186.0 289.9 1185.6 290.9 1185.2 291.9C1184.8 292.9 1184.4 293.9 1184.0 294.9C1183.7 295.9 1183.3 296.9 1182.9 297.9C1182.6 298.9 1182.2 299.9 1181.8 300.9C1181.5 301.9 1181.1 302.9 1180.7 303.9C1180.4 304.9 1180.0 305.9 1179.7 306.9C1179.3 307.9 1178.9 308.9 1178.6 309.9C1178.2 310.9 1177.9 311.9 1177.5 312.9C1177.2 313.9 1176.9 314.9 1176.5 315.9C1176.2 316.9 1175.8 317.9 1175.5 318.9C1175.2 319.9 1174.8 320.9 1174.5 321.9C1174.2 322.9 1173.9 323.9 1173.5 324.9C1173.2 325.9 1172.9 326.9 1172.6 327.9C1172.2 328.9 1171.9 329.9 1171.6 330.9C1171.3 331.9 1171.0 332.9 1170.7 333.9C1170.4 334.9 1170.1 335.9 1169.8 336.9C1169.5 337.9 1169.2 338.9 1168.9 339.9C1168.6 340.9 1168.3 341.9 1168.0 342.9C1167.7 343.9 1167.4 344.9 1167.1 345.9C1166.8 346.9 1166.5 347.9 1166.2 348.9C1166.0 349.9 1165.7 350.9 1165.4 351.8C1165.1 352.8 1164.9 353.8 1164.6 354.8C1164.3 355.8 1164.1 356.8 1163.8 357.8C1163.5 358.8 1163.3 359.8 1163.1 360.8C1162.8 361.8 1162.6 362.8 1162.3 363.8C1162.1 364.8 1161.9 365.8 1161.6 366.8C1161.4 367.8 1161.2 368.8 1161.0 369.8C1160.8 370.8 1160.6 371.8 1160.4 372.8C1160.2 373.8 1160.0 374.8 1159.8 375.8C1159.6 376.8 1159.5 377.8 1159.3 378.8C1159.1 379.8 1159.0 380.8 1158.8 381.8C1158.7 382.8 1158.5 383.8 1158.4 384.8C1158.3 385.8 1158.1 386.8 1158.0 387.8C1157.9 388.8 1157.8 389.8 1157.7 390.8C1157.6 391.8 1157.5 392.8 1157.4 393.8C1157.4 394.8 1157.3 395.8 1157.3 396.8C1157.2 397.8 1157.2 398.8 1157.1 399.8C1157.1 400.8 1157.1 401.8 1157.1 402.8C1157.0 403.8 1157.0 404.8 1157.1 405.8C1157.1 406.8 1157.1 407.8 1157.1 408.8C1157.2 409.8 1157.2 410.8 1157.3 411.8C1157.4 412.8 1157.4 413.8 1157.5 414.8C1157.6 415.8 1157.7 416.7 1157.8 417.7C1157.9 418.7 1158.1 419.7 1158.2 420.7C1158.4 421.7 1158.5 422.7 1158.7 423.7C1158.9 424.7 1159.1 425.7 1159.3 426.7C1159.5 427.7 1159.7 428.7 1159.9 429.7C1160.2 430.7 1160.4 431.7 1160.7 432.7C1160.9 433.7 1161.2 434.7 1161.5 435.7C1161.8 436.7 1162.1 437.7 1162.4 438.7C1162.8 439.7 1163.1 440.7 1163.5 441.7C1163.8 442.7 1164.2 443.7 1164.6 444.7C1165.0 445.7 1165.4 446.7 1165.8 447.7C1166.1 448.7 1166.6 449.7 1166.9 450.7C1167.3 451.7 1167.7 452.7 1168.1 453.7C1168.5 454.7 1168.9 455.7 1169.3 456.7C1169.8 457.7 1170.2 458.7 1170.6 459.7C1171.0 460.7 1171.4 461.7 1171.8 462.7C1172.2 463.7 1172.6 464.7 1173.1 465.7C1173.5 466.7 1173.9 467.7 1174.4 468.7C1174.8 469.7 1175.3 470.7 1175.7 471.7C1176.2 472.7 1176.6 473.7 1177.1 474.7C1177.6 475.7 1178.1 476.7 1178.6 477.7C1179.0 478.7 1179.5 479.7 1180.0 480.7C1180.6 481.6 1181.1 482.6 1181.6 483.6C1182.1 484.6 1182.6 485.6 1183.2 486.6C1183.7 487.6 1184.2 488.6 1184.8 489.6C1185.3 490.6 1185.8 491.6 1186.4 492.6C1186.9 493.6 1187.5 494.6 1188.0 495.6C1188.6 496.6 1189.1 497.6 1189.7 498.6C1190.3 499.6 1190.8 500.6 1191.4 501.6C1191.9 502.6 1192.5 503.6 1193.1 504.6C1193.6 505.6 1194.2 506.6 1194.7 507.6C1195.3 508.6 1195.9 509.6 1196.4 510.6C1197.0 511.6 1197.5 512.6 1198.1 513.6C1198.6 514.6 1199.2 515.6 1199.7 516.6C1200.3 517.6 1200.8 518.6 1201.4 519.6C1201.9 520.6 1202.5 521.6 1203.0 522.6C1203.5 523.6 1204.1 524.6 1204.6 525.6C1205.1 526.6 1205.6 527.6 1206.1 528.6C1206.6 529.6 1207.2 530.6 1207.6 531.6C1208.1 532.6 1208.6 533.6 1209.1 534.6C1209.6 535.6 1210.1 536.6 1210.5 537.6C1211.0 538.6 1211.5 539.6 1211.9 540.6C1212.4 541.6 1212.8 542.6 1213.2 543.6C1213.7 544.6 1214.1 545.5 1214.5 546.5C1214.9 547.5 1215.3 548.5 1215.7 549.5C1216.1 550.5 1216.5 551.5 1216.9 552.5C1217.3 553.5 1217.7 554.5 1218.0 555.5C1218.4 556.5 1218.8 557.5 1219.1 558.5C1219.5 559.5 1219.9 560.5 1220.2 561.5C1220.5 562.5 1220.9 563.5 1221.2 564.5C1221.6 565.5 1221.9 566.5 1222.2 567.5C1222.5 568.5 1222.8 569.5 1223.2 570.5C1223.5 571.5 1223.8 572.5 1224.1 573.5C1224.4 574.5 1224.7 575.5 1225.0 576.5C1225.3 577.5 1225.5 578.5 1225.8 579.5C1226.1 580.5 1226.4 581.5 1226.6 582.5C1226.9 583.5 1227.2 584.5 1227.5 585.5C1227.7 586.5 1228.0 587.5 1228.2 588.5C1228.5 589.5 1228.7 590.5 1229.0 591.5C1229.2 592.5 1229.5 593.5 1229.7 594.5C1229.9 595.5 1230.2 596.5 1230.4 597.5C1230.6 598.5 1230.9 599.5 1231.1 600.5C1231.3 601.5 1231.5 602.5 1231.7 603.5C1232.0 604.5 1232.2 605.5 1232.4 606.5C1232.6 607.5 1232.8 608.5 1233.0 609.5C1233.2 610.4 1233.4 611.4 1233.6 612.4C1233.8 613.4 1234.0 614.4 1234.2 615.4C1234.3 616.4 1234.5 617.4 1234.7 618.4C1234.9 619.4 1235.1 620.4 1235.2 621.4C1235.4 622.4 1235.6 623.4 1235.7 624.4C1235.9 625.4 1236.1 626.4 1236.2 627.4C1236.4 628.4 1236.5 629.4 1236.7 630.4C1236.9 631.4 1237.0 632.4 1237.2 633.4C1237.3 634.4 1237.4 635.4 1237.6 636.4C1237.7 637.4 1237.9 638.4 1238.0 639.4C1238.1 640.4 1238.3 641.9 1238.4 642.4L1258.8 642.4C1258.9 641.9 1259.1 640.4 1259.2 639.4C1259.3 638.4 1259.5 637.4 1259.6 636.4C1259.8 635.4 1259.9 634.4 1260.0 633.4C1260.2 632.4 1260.3 631.4 1260.5 630.4C1260.7 629.4 1260.8 628.4 1261.0 627.4C1261.1 626.4 1261.3 625.4 1261.5 624.4C1261.6 623.4 1261.8 622.4 1262.0 621.4C1262.1 620.4 1262.3 619.4 1262.5 618.4C1262.7 617.4 1262.9 616.4 1263.0 615.4C1263.2 614.4 1263.4 613.4 1263.6 612.4C1263.8 611.4 1264.0 610.4 1264.2 609.5C1264.4 608.5 1264.6 607.5 1264.8 606.5C1265.0 605.5 1265.2 604.5 1265.5 603.5C1265.7 602.5 1265.9 601.5 1266.1 600.5C1266.3 599.5 1266.6 598.5 1266.8 597.5C1267.0 596.5 1267.3 595.5 1267.5 594.5C1267.7 593.5 1268.0 592.5 1268.2 591.5C1268.5 590.5 1268.7 589.5 1269.0 588.5C1269.2 587.5 1269.5 586.5 1269.7 585.5C1270.0 584.5 1270.3 583.5 1270.6 582.5C1270.8 581.5 1271.1 580.5 1271.4 579.5C1271.7 578.5 1271.9 577.5 1272.2 576.5C1272.5 575.5 1272.8 574.5 1273.1 573.5C1273.4 572.5 1273.7 571.5 1274.0 570.5C1274.4 569.5 1274.7 568.5 1275.0 567.5C1275.3 566.5 1275.6 565.5 1276.0 564.5C1276.3 563.5 1276.7 562.5 1277.0 561.5C1277.3 560.5 1277.7 559.5 1278.1 558.5C1278.4 557.5 1278.8 556.5 1279.2 555.5C1279.5 554.5 1279.9 553.5 1280.3 552.5C1280.7 551.5 1281.1 550.5 1281.5 549.5C1281.9 548.5 1282.3 547.5 1282.7 546.5C1283.1 545.5 1283.5 544.6 1284.0 543.6C1284.4 542.6 1284.8 541.6 1285.3 540.6C1285.7 539.6 1286.2 538.6 1286.7 537.6C1287.1 536.6 1287.6 535.6 1288.1 534.6C1288.6 533.6 1289.1 532.6 1289.6 531.6C1290.0 530.6 1290.6 529.6 1291.1 528.6C1291.6 527.6 1292.1 526.6 1292.6 525.6C1293.1 524.6 1293.7 523.6 1294.2 522.6C1294.7 521.6 1295.3 520.6 1295.8 519.6C1296.4 518.6 1296.9 517.6 1297.5 516.6C1298.0 515.6 1298.6 514.6 1299.1 513.6C1299.7 512.6 1300.2 511.6 1300.8 510.6C1301.3 509.6 1301.9 508.6 1302.5 507.6C1303.0 506.6 1303.6 505.6 1304.1 504.6C1304.7 503.6 1305.3 502.6 1305.8 501.6C1306.4 500.6 1306.9 499.6 1307.5 498.6C1308.1 497.6 1308.6 496.6 1309.2 495.6C1309.7 494.6 1310.3 493.6 1310.8 492.6C1311.4 491.6 1311.9 490.6 1312.4 489.6C1313.0 488.6 1313.5 487.6 1314.0 486.6C1314.6 485.6 1315.1 484.6 1315.6 483.6C1316.1 482.6 1316.6 481.6 1317.2 480.7C1317.7 479.7 1318.2 478.7 1318.6 477.7C1319.1 476.7 1319.6 475.7 1320.1 474.7C1320.6 473.7 1321.0 472.7 1321.5 471.7C1321.9 470.7 1322.4 469.7 1322.8 468.7C1323.3 467.7 1323.7 466.7 1324.1 465.7C1324.6 464.7 1325.0 463.7 1325.4 462.7C1325.8 461.7 1326.2 460.7 1326.6 459.7C1327.0 458.7 1327.4 457.7 1327.9 456.7C1328.3 455.7 1328.7 454.7 1329.1 453.7C1329.5 452.7 1329.9 451.7 1330.3 450.7C1330.6 449.7 1331.1 448.7 1331.4 447.7C1331.8 446.7 1332.2 445.7 1332.6 444.7C1333.0 443.7 1333.4 442.7 1333.7 441.7C1334.1 440.7 1334.4 439.7 1334.8 438.7C1335.1 437.7 1335.4 436.7 1335.7 435.7C1336.0 434.7 1336.3 433.7 1336.5 432.7C1336.8 431.7 1337.0 430.7 1337.3 429.7C1337.5 428.7 1337.7 427.7 1337.9 426.7C1338.1 425.7 1338.3 424.7 1338.5 423.7C1338.7 422.7 1338.8 421.7 1339.0 420.7C1339.1 419.7 1339.3 418.7 1339.4 417.7C1339.5 416.7 1339.6 415.8 1339.7 414.8C1339.8 413.8 1339.8 412.8 1339.9 411.8C1340.0 410.8 1340.0 409.8 1340.1 408.8C1340.1 407.8 1340.1 406.8 1340.1 405.8C1340.2 404.8 1340.2 403.8 1340.1 402.8C1340.1 401.8 1340.1 400.8 1340.1 399.8C1340.0 398.8 1340.0 397.8 1339.9 396.8C1339.9 395.8 1339.8 394.8 1339.8 393.8C1339.7 392.8 1339.6 391.8 1339.5 390.8C1339.4 389.8 1339.3 388.8 1339.2 387.8C1339.1 386.8 1338.9 385.8 1338.8 384.8C1338.7 383.8 1338.5 382.8 1338.4 381.8C1338.2 380.8 1338.1 379.8 1337.9 378.8C1337.7 377.8 1337.6 376.8 1337.4 375.8C1337.2 374.8 1337.0 373.8 1336.8 372.8C1336.6 371.8 1336.4 370.8 1336.2 369.8C1336.0 368.8 1335.8 367.8 1335.6 366.8C1335.3 365.8 1335.1 364.8 1334.9 363.8C1334.6 362.8 1334.4 361.8 1334.1 360.8C1333.9 359.8 1333.7 358.8 1333.4 357.8C1333.1 356.8 1332.9 355.8 1332.6 354.8C1332.3 353.8 1332.1 352.8 1331.8 351.8C1331.5 350.9 1331.2 349.9 1331.0 348.9C1330.7 347.9 1330.4 346.9 1330.1 345.9C1329.8 344.9 1329.5 343.9 1329.2 342.9C1328.9 341.9 1328.6 340.9 1328.3 339.9C1328.0 338.9 1327.7 337.9 1327.4 336.9C1327.1 335.9 1326.8 334.9 1326.5 333.9C1326.2 332.9 1325.9 331.9 1325.6 330.9C1325.3 329.9 1325.0 328.9 1324.6 327.9C1324.3 326.9 1324.0 325.9 1323.7 324.9C1323.3 323.9 1323.0 322.9 1322.7 321.9C1322.4 320.9 1322.0 319.9 1321.7 318.9C1321.4 317.9 1321.0 316.9 1320.7 315.9C1320.3 314.9 1320.0 313.9 1319.7 312.9C1319.3 311.9 1319.0 310.9 1318.6 309.9C1318.3 308.9 1317.9 307.9 1317.5 306.9C1317.2 305.9 1316.8 304.9 1316.5 303.9C1316.1 302.9 1315.7 301.9 1315.4 300.9C1315.0 299.9 1314.6 298.9 1314.3 297.9C1313.9 296.9 1313.5 295.9 1313.2 294.9C1312.8 293.9 1312.4 292.9 1312.0 291.9C1311.6 290.9 1311.2 289.9 1310.9 288.9C1310.5 287.9 1310.1 287.0 1309.7 286.0C1309.3 285.0 1308.9 284.0 1308.5 283.0C1308.1 282.0 1307.7 281.0 1307.3 280.0C1306.9 279.0 1306.5 278.0 1306.1 277.0C1305.7 276.0 1305.2 275.0 1304.8 274.0C1304.4 273.0 1304.0 272.0 1303.6 271.0C1303.1 270.0 1302.7 269.0 1302.3 268.0C1301.9 267.0 1301.4 266.0 1301.0 265.0C1300.6 264.0 1300.1 263.0 1299.7 262.0C1299.3 261.0 1298.8 260.0 1298.4 259.0C1298.0 258.0 1297.5 257.0 1297.1 256.0C1296.6 255.0 1296.2 254.0 1295.8 253.0C1295.3 252.0 1294.9 251.0 1294.4 250.0C1294.0 249.0 1293.5 248.0 1293.1 247.0C1292.6 246.0 1292.2 245.0 1291.7 244.0C1291.3 243.0 1290.8 242.0 1290.4 241.0C1290.0 240.0 1289.5 239.0 1289.1 238.0C1288.6 237.0 1288.2 236.0 1287.7 235.0C1287.3 234.0 1286.8 233.0 1286.4 232.0C1285.9 231.0 1285.5 230.0 1285.1 229.0C1284.6 228.0 1284.2 227.0 1283.7 226.0C1283.3 225.0 1282.8 224.0 1282.4 223.0C1282.0 222.1 1281.5 221.1 1281.1 220.1C1280.7 219.1 1280.2 218.1 1279.8 217.1C1279.4 216.1 1279.0 215.1 1278.5 214.1C1278.1 213.1 1277.7 212.1 1277.3 211.1C1276.8 210.1 1276.4 209.1 1276.0 208.1C1275.6 207.1 1275.2 206.1 1274.8 205.1C1274.4 204.1 1274.0 203.1 1273.5 202.1C1273.1 201.1 1272.7 200.1 1272.4 199.1C1272.0 198.1 1271.6 197.1 1271.2 196.1C1270.8 195.1 1270.4 194.1 1270.0 193.1C1269.6 192.1 1269.1 190.6 1268.9 190.1Z" fill="#779159" fill-opacity="0.5"/>
<path d="M1228.3 190.1C1228.1 190.6 1227.6 192.1 1227.2 193.1C1226.8 194.1 1226.4 195.1 1226.0 196.1C1225.6 197.1 1225.2 198.1 1224.8 199.1C1224.5 200.1 1224.1 201.1 1223.7 202.1C1223.2 203.1 1222.8 204.1 1222.4 205.1C1222.0 206.1 1221.6 207.1 1221.2 208.1C1220.8 209.1 1220.4 210.1 1219.9 211.1C1219.5 212.1 1219.1 213.1 1218.7 214.1C1218.2 215.1 1217.8 216.1 1217.4 217.1C1217.0 218.1 1216.5 219.1 1216.1 220.1C1215.7 221.1 1215.2 222.1 1214.8 223.0C1214.4 224.0 1213.9 225.0 1213.5 226.0C1213.0 227.0 1212.6 228.0 1212.1 229.0C1211.7 230.0 1211.3 231.0 1210.8 232.0C1210.4 233.0 1209.9 234.0 1209.5 235.0C1209.0 236.0 1208.6 237.0 1208.1 238.0C1207.7 239.0 1207.2 240.0 1206.8 241.0C1206.4 242.0 1205.9 243.0 1205.5 244.0C1205.0 245.0 1204.6 246.0 1204.1 247.0C1203.7 248.0 1203.2 249.0 1202.8 250.0C1202.3 251.0 1201.9 252.0 1201.4 253.0C1201.0 254.0 1200.6 255.0 1200.1 256.0C1199.7 257.0 1199.2 258.0 1198.8 259.0C1198.4 260.0 1197.9 261.0 1197.5 262.0C1197.1 263.0 1196.6 264.0 1196.2 265.0C1195.8 266.0 1195.3 267.0 1194.9 268.0C1194.5 269.0 1194.1 270.0 1193.6 271.0C1193.2 272.0 1192.8 273.0 1192.4 274.0C1192.0 275.0 1191.5 276.0 1191.1 277.0C1190.7 278.0 1190.3 279.0 1189.9 280.0C1189.5 281.0 1189.1 282.0 1188.7 283.0C1188.3 284.0 1187.9 285.0 1187.5 286.0C1187.1 287.0 1186.7 287.9 1186.3 288.9C1186.0 289.9 1185.6 290.9 1185.2 291.9C1184.8 292.9 1184.4 293.9 1184.0 294.9C1183.7 295.9 1183.3 296.9 1182.9 297.9C1182.6 298.9 1182.2 299.9 1181.8 300.9C1181.5 301.9 1181.1 302.9 1180.7 303.9C1180.4 304.9 1180.0 305.9 1179.7 306.9C1179.3 307.9 1178.9 308.9 1178.6 309.9C1178.2 310.9 1177.9 311.9 1177.5 312.9C1177.2 313.9 1176.9 314.9 1176.5 315.9C1176.2 316.9 1175.8 317.9 1175.5 318.9C1175.2 319.9 1174.8 320.9 1174.5 321.9C1174.2 322.9 1173.9 323.9 1173.5 324.9C1173.2 325.9 1172.9 326.9 1172.6 327.9C1172.2 328.9 1171.9 329.9 1171.6 330.9C1171.3 331.9 1171.0 332.9 1170.7 333.9C1170.4 334.9 1170.1 335.9 1169.8 336.9C1169.5 337.9 1169.2 338.9 1168.9 339.9C1168.6 340.9 1168.3 341.9 1168.0 342.9C1167.7 343.9 1167.4 344.9 1167.1 345.9C1166.8 346.9 1166.5 347.9 1166.2 348.9C1166.0 349.9 1165.7 350.9 1165.4 351.8C1165.1 352.8 1164.9 353.8 1164.6 354.8C1164.3 355.8 1164.1 356.8 1163.8 357.8C1163.5 358.8 1163.3 359.8 1163.1 360.8C1162.8 361.8 1162.6 362.8 1162.3 363.8C1162.1 364.8 1161.9 365.8 1161.6 366.8C1161.4 367.8 1161.2 368.8 1161.0 369.8C1160.8 370.8 1160.6 371.8 1160.4 372.8C1160.2 373.8 1160.0 374.8 1159.8 375.8C1159.6 376.8 1159.5 377.8 1159.3 378.8C1159.1 379.8 1159.0 380.8 1158.8 381.8C1158.7 382.8 1158.5 383.8 1158.4 384.8C1158.3 385.8 1158.1 386.8 1158.0 387.8C1157.9 388.8 1157.8 389.8 1157.7 390.8C1157.6 391.8 1157.5 392.8 1157.4 393.8C1157.4 394.8 1157.3 395.8 1157.3 396.8C1157.2 397.8 1157.2 398.8 1157.1 399.8C1157.1 400.8 1157.1 401.8 1157.1 402.8C1157.0 403.8 1157.0 404.8 1157.1 405.8C1157.1 406.8 1157.1 407.8 1157.1 408.8C1157.2 409.8 1157.2 410.8 1157.3 411.8C1157.4 412.8 1157.4 413.8 1157.5 414.8C1157.6 415.8 1157.7 416.7 1157.8 417.7C1157.9 418.7 1158.1 419.7 1158.2 420.7C1158.4 421.7 1158.5 422.7 1158.7 423.7C1158.9 424.7 1159.1 425.7 1159.3 426.7C1159.5 427.7 1159.7 428.7 1159.9 429.7C1160.2 430.7 1160.4 431.7 1160.7 432.7C1160.9 433.7 1161.2 434.7 1161.5 435.7C1161.8 436.7 1162.1 437.7 1162.4 438.7C1162.8 439.7 1163.1 440.7 1163.5 441.7C1163.8 442.7 1164.2 443.7 1164.6 444.7C1165.0 445.7 1165.4 446.7 1165.8 447.7C1166.1 448.7 1166.6 449.7 1166.9 450.7C1167.3 451.7 1167.7 452.7 1168.1 453.7C1168.5 454.7 1168.9 455.7 1169.3 456.7C1169.8 457.7 1170.2 458.7 1170.6 459.7C1171.0 460.7 1171.4 461.7 1171.8 462.7C1172.2 463.7 1172.6 464.7 1173.1 465.7C1173.5 466.7 1173.9 467.7 1174.4 468.7C1174.8 469.7 1175.3 470.7 1175.7 471.7C1176.2 472.7 1176.6 473.7 1177.1 474.7C1177.6 475.7 1178.1 476.7 1178.6 477.7C1179.0 478.7 1179.5 479.7 1180.0 480.7C1180.6 481.6 1181.1 482.6 1181.6 483.6C1182.1 484.6 1182.6 485.6 1183.2 486.6C1183.7 487.6 1184.2 488.6 1184.8 489.6C1185.3 490.6 1185.8 491.6 1186.4 492.6C1186.9 493.6 1187.5 494.6 1188.0 495.6C1188.6 496.6 1189.1 497.6 1189.7 498.6C1190.3 499.6 1190.8 500.6 1191.4 501.6C1191.9 502.6 1192.5 503.6 1193.1 504.6C1193.6 505.6 1194.2 506.6 1194.7 507.6C1195.3 508.6 1195.9 509.6 1196.4 510.6C1197.0 511.6 1197.5 512.6 1198.1 513.6C1198.6 514.6 1199.2 515.6 1199.7 516.6C1200.3 517.6 1200.8 518.6 1201.4 519.6C1201.9 520.6 1202.5 521.6 1203.0 522.6C1203.5 523.6 1204.1 524.6 1204.6 525.6C1205.1 526.6 1205.6 527.6 1206.1 528.6C1206.6 529.6 1207.2 530.6 1207.6 531.6C1208.1 532.6 1208.6 533.6 1209.1 534.6C1209.6 535.6 1210.1 536.6 1210.5 537.6C1211.0 538.6 1211.5 539.6 1211.9 540.6C1212.4 541.6 1212.8 542.6 1213.2 543.6C1213.7 544.6 1214.1 545.5 1214.5 546.5C1214.9 547.5 1215.3 548.5 1215.7 549.5C1216.1 550.5 1216.5 551.5 1216.9 552.5C1217.3 553.5 1217.7 554.5 1218.0 555.5C1218.4 556.5 1218.8 557.5 1219.1 558.5C1219.5 559.5 1219.9 560.5 1220.2 561.5C1220.5 562.5 1220.9 563.5 1221.2 564.5C1221.6 565.5 1221.9 566.5 1222.2 567.5C1222.5 568.5 1222.8 569.5 1223.2 570.5C1223.5 571.5 1223.8 572.5 1224.1 573.5C1224.4 574.5 1224.7 575.5 1225.0 576.5C1225.3 577.5 1225.5 578.5 1225.8 579.5C1226.1 580.5 1226.4 581.5 1226.6 582.5C1226.9 583.5 1227.2 584.5 1227.5 585.5C1227.7 586.5 1228.0 587.5 1228.2 588.5C1228.5 589.5 1228.7 590.5 1229.0 591.5C1229.2 592.5 1229.5 593.5 1229.7 594.5C1229.9 595.5 1230.2 596.5 1230.4 597.5C1230.6 598.5 1230.9 599.5 1231.1 600.5C1231.3 601.5 1231.5 602.5 1231.7 603.5C1232.0 604.5 1232.2 605.5 1232.4 606.5C1232.6 607.5 1232.8 608.5 1233.0 609.5C1233.2 610.4 1233.4 611.4 1233.6 612.4C1233.8 613.4 1234.0 614.4 1234.2 615.4C1234.3 616.4 1234.5 617.4 1234.7 618.4C1234.9 619.4 1235.1 620.4 1235.2 621.4C1235.4 622.4 1235.6 623.4 1235.7 624.4C1235.9 625.4 1236.1 626.4 1236.2 627.4C1236.4 628.4 1236.5 629.4 1236.7 630.4C1236.9 631.4 1237.0 632.4 1237.2 633.4C1237.3 634.4 1237.4 635.4 1237.6 636.4C1237.7 637.4 1237.9 638.4 1238.0 639.4C1238.1 640.4 1238.3 641.9 1238.4 642.4L1258.8 642.4C1258.9 641.9 1259.1 640.4 1259.2 639.4C1259.3 638.4 1259.5 637.4 1259.6 636.4C1259.8 635.4 1259.9 634.4 1260.0 633.4C1260.2 632.4 1260.3 631.4 1260.5 630.4C1260.7 629.4 1260.8 628.4 1261.0 627.4C1261.1 626.4 1261.3 625.4 1261.5 624.4C1261.6 623.4 1261.8 622.4 1262.0 621.4C1262.1 620.4 1262.3 619.4 1262.5 618.4C1262.7 617.4 1262.9 616.4 1263.0 615.4C1263.2 614.4 1263.4 613.4 1263.6 612.4C1263.8 611.4 1264.0 610.4 1264.2 609.5C1264.4 608.5 1264.6 607.5 1264.8 606.5C1265.0 605.5 1265.2 604.5 1265.5 603.5C1265.7 602.5 1265.9 601.5 1266.1 600.5C1266.3 599.5 1266.6 598.5 1266.8 597.5C1267.0 596.5 1267.3 595.5 1267.5 594.5C1267.7 593.5 1268.0 592.5 1268.2 591.5C1268.5 590.5 1268.7 589.5 1269.0 588.5C1269.2 587.5 1269.5 586.5 1269.7 585.5C1270.0 584.5 1270.3 583.5 1270.6 582.5C1270.8 581.5 1271.1 580.5 1271.4 579.5C1271.7 578.5 1271.9 577.5 1272.2 576.5C1272.5 575.5 1272.8 574.5 1273.1 573.5C1273.4 572.5 1273.7 571.5 1274.0 570.5C1274.4 569.5 1274.7 568.5 1275.0 567.5C1275.3 566.5 1275.6 565.5 1276.0 564.5C1276.3 563.5 1276.7 562.5 1277.0 561.5C1277.3 560.5 1277.7 559.5 1278.1 558.5C1278.4 557.5 1278.8 556.5 1279.2 555.5C1279.5 554.5 1279.9 553.5 1280.3 552.5C1280.7 551.5 1281.1 550.5 1281.5 549.5C1281.9 548.5 1282.3 547.5 1282.7 546.5C1283.1 545.5 1283.5 544.6 1284.0 543.6C1284.4 542.6 1284.8 541.6 1285.3 540.6C1285.7 539.6 1286.2 538.6 1286.7 537.6C1287.1 536.6 1287.6 535.6 1288.1 534.6C1288.6 533.6 1289.1 532.6 1289.6 531.6C1290.0 530.6 1290.6 529.6 1291.1 528.6C1291.6 527.6 1292.1 526.6 1292.6 525.6C1293.1 524.6 1293.7 523.6 1294.2 522.6C1294.7 521.6 1295.3 520.6 1295.8 519.6C1296.4 518.6 1296.9 517.6 1297.5 516.6C1298.0 515.6 1298.6 514.6 1299.1 513.6C1299.7 512.6 1300.2 511.6 1300.8 510.6C1301.3 509.6 1301.9 508.6 1302.5 507.6C1303.0 506.6 1303.6 505.6 1304.1 504.6C1304.7 503.6 1305.3 502.6 1305.8 501.6C1306.4 500.6 1306.9 499.6 1307.5 498.6C1308.1 497.6 1308.6 496.6 1309.2 495.6C1309.7 494.6 1310.3 493.6 1310.8 492.6C1311.4 491.6 1311.9 490.6 1312.4 489.6C1313.0 488.6 1313.5 487.6 1314.0 486.6C1314.6 485.6 1315.1 484.6 1315.6 483.6C1316.1 482.6 1316.6 481.6 1317.2 480.7C1317.7 479.7 1318.2 478.7 1318.6 477.7C1319.1 476.7 1319.6 475.7 1320.1 474.7C1320.6 473.7 1321.0 472.7 1321.5 471.7C1321.9 470.7 1322.4 469.7 1322.8 468.7C1323.3 467.7 1323.7 466.7 1324.1 465.7C1324.6 464.7 1325.0 463.7 1325.4 462.7C1325.8 461.7 1326.2 460.7 1326.6 459.7C1327.0 458.7 1327.4 457.7 1327.9 456.7C1328.3 455.7 1328.7 454.7 1329.1 453.7C1329.5 452.7 1329.9 451.7 1330.3 450.7C1330.6 449.7 1331.1 448.7 1331.4 447.7C1331.8 446.7 1332.2 445.7 1332.6 444.7C1333.0 443.7 1333.4 442.7 1333.7 441.7C1334.1 440.7 1334.4 439.7 1334.8 438.7C1335.1 437.7 1335.4 436.7 1335.7 435.7C1336.0 434.7 1336.3 433.7 1336.5 432.7C1336.8 431.7 1337.0 430.7 1337.3 429.7C1337.5 428.7 1337.7 427.7 1337.9 426.7C1338.1 425.7 1338.3 424.7 1338.5 423.7C1338.7 422.7 1338.8 421.7 1339.0 420.7C1339.1 419.7 1339.3 418.7 1339.4 417.7C1339.5 416.7 1339.6 415.8 1339.7 414.8C1339.8 413.8 1339.8 412.8 1339.9 411.8C1340.0 410.8 1340.0 409.8 1340.1 408.8C1340.1 407.8 1340.1 406.8 1340.1 405.8C1340.2 404.8 1340.2 403.8 1340.1 402.8C1340.1 401.8 1340.1 400.8 1340.1 399.8C1340.0 398.8 1340.0 397.8 1339.9 396.8C1339.9 395.8 1339.8 394.8 1339.8 393.8C1339.7 392.8 1339.6 391.8 1339.5 390.8C1339.4 389.8 1339.3 388.8 1339.2 387.8C1339.1 386.8 1338.9 385.8 1338.8 384.8C1338.7 383.8 1338.5 382.8 1338.4 381.8C1338.2 380.8 1338.1 379.8 1337.9 378.8C1337.7 377.8 1337.6 376.8 1337.4 375.8C1337.2 374.8 1337.0 373.8 1336.8 372.8C1336.6 371.8 1336.4 370.8 1336.2 369.8C1336.0 368.8 1335.8 367.8 1335.6 366.8C1335.3 365.8 1335.1 364.8 1334.9 363.8C1334.6 362.8 1334.4 361.8 1334.1 360.8C1333.9 359.8 1333.7 358.8 1333.4 357.8C1333.1 356.8 1332.9 355.8 1332.6 354.8C1332.3 353.8 1332.1 352.8 1331.8 351.8C1331.5 350.9 1331.2 349.9 1331.0 348.9C1330.7 347.9 1330.4 346.9 1330.1 345.9C1329.8 344.9 1329.5 343.9 1329.2 342.9C1328.9 341.9 1328.6 340.9 1328.3 339.9C1328.0 338.9 1327.7 337.9 1327.4 336.9C1327.1 335.9 1326.8 334.9 1326.5 333.9C1326.2 332.9 1325.9 331.9 1325.6 330.9C1325.3 329.9 1325.0 328.9 1324.6 327.9C1324.3 326.9 1324.0 325.9 1323.7 324.9C1323.3 323.9 1323.0 322.9 1322.7 321.9C1322.4 320.9 1322.0 319.9 1321.7 318.9C1321.4 317.9 1321.0 316.9 1320.7 315.9C1320.3 314.9 1320.0 313.9 1319.7 312.9C1319.3 311.9 1319.0 310.9 1318.6 309.9C1318.3 308.9 1317.9 307.9 1317.5 306.9C1317.2 305.9 1316.8 304.9 1316.5 303.9C1316.1 302.9 1315.7 301.9 1315.4 300.9C1315.0 299.9 1314.6 298.9 1314.3 297.9C1313.9 296.9 1313.5 295.9 1313.2 294.9C1312.8 293.9 1312.4 292.9 1312.0 291.9C1311.6 290.9 1311.2 289.9 1310.9 288.9C1310.5 287.9 1310.1 287.0 1309.7 286.0C1309.3 285.0 1308.9 284.0 1308.5 283.0C1308.1 282.0 1307.7 281.0 1307.3 280.0C1306.9 279.0 1306.5 278.0 1306.1 277.0C1305.7 276.0 1305.2 275.0 1304.8 274.0C1304.4 273.0 1304.0 272.0 1303.6 271.0C1303.1 270.0 1302.7 269.0 1302.3 268.0C1301.9 267.0 1301.4 266.0 1301.0 265.0C1300.6 264.0 1300.1 263.0 1299.7 262.0C1299.3 261.0 1298.8 260.0 1298.4 259.0C1298.0 258.0 1297.5 257.0 1297.1 256.0C1296.6 255.0 1296.2 254.0 1295.8 253.0C1295.3 252.0 1294.9 251.0 1294.4 250.0C1294.0 249.0 1293.5 248.0 1293.1 247.0C1292.6 246.0 1292.2 245.0 1291.7 244.0C1291.3 243.0 1290.8 242.0 1290.4 241.0C1290.0 240.0 1289.5 239.0 1289.1 238.0C1288.6 237.0 1288.2 236.0 1287.7 235.0C1287.3 234.0 1286.8 233.0 1286.4 232.0C1285.9 231.0 1285.5 230.0 1285.1 229.0C1284.6 228.0 1284.2 227.0 1283.7 226.0C1283.3 225.0 1282.8 224.0 1282.4 223.0C1282.0 222.1 1281.5 221.1 1281.1 220.1C1280.7 219.1 1280.2 218.1 1279.8 217.1C1279.4 216.1 1279.0 215.1 1278.5 214.1C1278.1 213.1 1277.7 212.1 1277.3 211.1C1276.8 210.1 1276.4 209.1 1276.0 208.1C1275.6 207.1 1275.2 206.1 1274.8 205.1C1274.4 204.1 1274.0 203.1 1273.5 202.1C1273.1 201.1 1272.7 200.1 1272.4 199.1C1272.0 198.1 1271.6 197.1 1271.2 196.1C1270.8 195.1 1270.4 194.1 1270.0 193.1C1269.6 192.1 1269.1 190.6 1268.9 190.1Z" fill="none" stroke="#779159" stroke-opacity="0.16" stroke-width="2.4" clip-path="url(#k_c_high)"/>
<line x1="1069.2" y1="94.2" x2="1069.2" y2="794.4" stroke="#000" stroke-width="1.8"/>
<line x1="1068.45" y1="793.7" x2="1427.8" y2="793.7" stroke="#000" stroke-width="1.8"/>
<line x1="1058.4" y1="111.0" x2="1069.2" y2="111.0" stroke="#000" stroke-width="1.8"/>
<text x="1049.2" y="123.3" text-anchor="end" font-family="Liberation Sans, Arial, Helvetica, sans-serif" font-weight="bold" font-size="32.7">160</text>
<line x1="1058.4" y1="332.9" x2="1069.2" y2="332.9" stroke="#000" stroke-width="1.8"/>
<text x="1049.2" y="345.2" text-anchor="end" font-family="Liberation Sans, Arial, Helvetica, sans-serif" font-weight="bold" font-size="32.7">120</text>
<line x1="1058.4" y1="554.7" x2="1069.2" y2="554.7" stroke="#000" stroke-width="1.8"/>
<text x="1049.2" y="567.0" text-anchor="end" font-family="Liberation Sans, Arial, Helvetica, sans-serif" font-weight="bold" font-size="32.7">80</text>
<line x1="1058.4" y1="776.6" x2="1069.2" y2="776.6" stroke="#000" stroke-width="1.8"/>
<text x="1049.2" y="788.9" text-anchor="end" font-family="Liberation Sans, Arial, Helvetica, sans-serif" font-weight="bold" font-size="32.7">40</text>
<text x="1256" y="73.8" text-anchor="middle" font-family="Liberation Sans, Arial, Helvetica, sans-serif" font-weight="bold" font-size="29.3">Cognitive</text>
<rect x="498.2" y="837.8" width="558.4" height="51.2" fill="#fff" stroke="#000" stroke-width="1.8"/>
<rect x="508" y="848" width="81" height="27" fill="#486c8c" fill-opacity="0.5"/>
<text x="605.6" y="875" font-family="Liberation Sans, Arial, Helvetica, sans-serif" font-size="29">Low</text>
<rect x="692" y="848" width="81" height="27" fill="#a65d62" fill-opacity="0.5"/>
<text x="789.2" y="875" font-family="Liberation Sans, Arial, Helvetica, sans-serif" font-size="29">Mid</text>
<rect x="869.3" y="848" width="81" height="27" fill="#779159" fill-opacity="0.5"/>
<text x="966.3" y="875" font-family="Liberation Sans, Arial, Helvetica, sans-serif" font-size="29">High</text>
</svg>
</body></html>
